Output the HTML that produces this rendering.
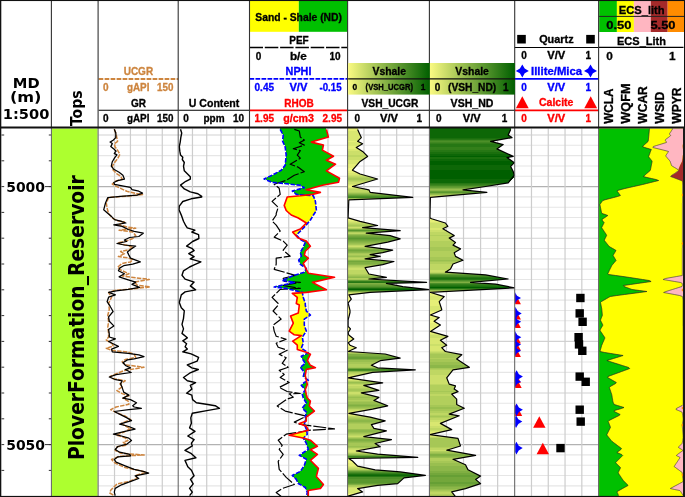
<!DOCTYPE html>
<html><head><meta charset="utf-8"><title>Well log</title><style>html,body{margin:0;padding:0;background:#fff}svg text{white-space:pre}</style></head><body>
<svg width="685" height="497" viewBox="0 0 685 497" style="display:block">
<rect x="0.00" y="0.00" width="685.00" height="497.00" fill="#fff"/>
<line x1="98.60" y1="135.00" x2="178.20" y2="135.00" stroke="#d2d2d2" stroke-width="1.1"/>
<line x1="98.60" y1="145.32" x2="178.20" y2="145.32" stroke="#e6e6e6" stroke-width="1.1"/>
<line x1="98.60" y1="155.64" x2="178.20" y2="155.64" stroke="#e6e6e6" stroke-width="1.1"/>
<line x1="98.60" y1="165.96" x2="178.20" y2="165.96" stroke="#e6e6e6" stroke-width="1.1"/>
<line x1="98.60" y1="176.28" x2="178.20" y2="176.28" stroke="#e6e6e6" stroke-width="1.1"/>
<line x1="98.60" y1="186.60" x2="178.20" y2="186.60" stroke="#b2b2b2" stroke-width="1.1"/>
<line x1="98.60" y1="196.92" x2="178.20" y2="196.92" stroke="#e6e6e6" stroke-width="1.1"/>
<line x1="98.60" y1="207.24" x2="178.20" y2="207.24" stroke="#e6e6e6" stroke-width="1.1"/>
<line x1="98.60" y1="217.56" x2="178.20" y2="217.56" stroke="#e6e6e6" stroke-width="1.1"/>
<line x1="98.60" y1="227.88" x2="178.20" y2="227.88" stroke="#e6e6e6" stroke-width="1.1"/>
<line x1="98.60" y1="238.20" x2="178.20" y2="238.20" stroke="#d2d2d2" stroke-width="1.1"/>
<line x1="98.60" y1="248.52" x2="178.20" y2="248.52" stroke="#e6e6e6" stroke-width="1.1"/>
<line x1="98.60" y1="258.84" x2="178.20" y2="258.84" stroke="#e6e6e6" stroke-width="1.1"/>
<line x1="98.60" y1="269.16" x2="178.20" y2="269.16" stroke="#e6e6e6" stroke-width="1.1"/>
<line x1="98.60" y1="279.48" x2="178.20" y2="279.48" stroke="#e6e6e6" stroke-width="1.1"/>
<line x1="98.60" y1="289.80" x2="178.20" y2="289.80" stroke="#d2d2d2" stroke-width="1.1"/>
<line x1="98.60" y1="300.12" x2="178.20" y2="300.12" stroke="#e6e6e6" stroke-width="1.1"/>
<line x1="98.60" y1="310.44" x2="178.20" y2="310.44" stroke="#e6e6e6" stroke-width="1.1"/>
<line x1="98.60" y1="320.76" x2="178.20" y2="320.76" stroke="#e6e6e6" stroke-width="1.1"/>
<line x1="98.60" y1="331.08" x2="178.20" y2="331.08" stroke="#e6e6e6" stroke-width="1.1"/>
<line x1="98.60" y1="341.40" x2="178.20" y2="341.40" stroke="#d2d2d2" stroke-width="1.1"/>
<line x1="98.60" y1="351.72" x2="178.20" y2="351.72" stroke="#e6e6e6" stroke-width="1.1"/>
<line x1="98.60" y1="362.04" x2="178.20" y2="362.04" stroke="#e6e6e6" stroke-width="1.1"/>
<line x1="98.60" y1="372.36" x2="178.20" y2="372.36" stroke="#e6e6e6" stroke-width="1.1"/>
<line x1="98.60" y1="382.68" x2="178.20" y2="382.68" stroke="#e6e6e6" stroke-width="1.1"/>
<line x1="98.60" y1="393.00" x2="178.20" y2="393.00" stroke="#d2d2d2" stroke-width="1.1"/>
<line x1="98.60" y1="403.32" x2="178.20" y2="403.32" stroke="#e6e6e6" stroke-width="1.1"/>
<line x1="98.60" y1="413.64" x2="178.20" y2="413.64" stroke="#e6e6e6" stroke-width="1.1"/>
<line x1="98.60" y1="423.96" x2="178.20" y2="423.96" stroke="#e6e6e6" stroke-width="1.1"/>
<line x1="98.60" y1="434.28" x2="178.20" y2="434.28" stroke="#e6e6e6" stroke-width="1.1"/>
<line x1="98.60" y1="444.60" x2="178.20" y2="444.60" stroke="#b2b2b2" stroke-width="1.1"/>
<line x1="98.60" y1="454.92" x2="178.20" y2="454.92" stroke="#e6e6e6" stroke-width="1.1"/>
<line x1="98.60" y1="465.24" x2="178.20" y2="465.24" stroke="#e6e6e6" stroke-width="1.1"/>
<line x1="98.60" y1="475.56" x2="178.20" y2="475.56" stroke="#e6e6e6" stroke-width="1.1"/>
<line x1="98.60" y1="485.88" x2="178.20" y2="485.88" stroke="#e6e6e6" stroke-width="1.1"/>
<line x1="114.52" y1="128.50" x2="114.52" y2="496.00" stroke="#cdcdcd" stroke-width="1.2"/>
<line x1="130.44" y1="128.50" x2="130.44" y2="496.00" stroke="#cdcdcd" stroke-width="1.2"/>
<line x1="146.36" y1="128.50" x2="146.36" y2="496.00" stroke="#cdcdcd" stroke-width="1.2"/>
<line x1="162.28" y1="128.50" x2="162.28" y2="496.00" stroke="#cdcdcd" stroke-width="1.2"/>
<line x1="178.20" y1="135.00" x2="249.50" y2="135.00" stroke="#d2d2d2" stroke-width="1.1"/>
<line x1="178.20" y1="145.32" x2="249.50" y2="145.32" stroke="#e6e6e6" stroke-width="1.1"/>
<line x1="178.20" y1="155.64" x2="249.50" y2="155.64" stroke="#e6e6e6" stroke-width="1.1"/>
<line x1="178.20" y1="165.96" x2="249.50" y2="165.96" stroke="#e6e6e6" stroke-width="1.1"/>
<line x1="178.20" y1="176.28" x2="249.50" y2="176.28" stroke="#e6e6e6" stroke-width="1.1"/>
<line x1="178.20" y1="186.60" x2="249.50" y2="186.60" stroke="#b2b2b2" stroke-width="1.1"/>
<line x1="178.20" y1="196.92" x2="249.50" y2="196.92" stroke="#e6e6e6" stroke-width="1.1"/>
<line x1="178.20" y1="207.24" x2="249.50" y2="207.24" stroke="#e6e6e6" stroke-width="1.1"/>
<line x1="178.20" y1="217.56" x2="249.50" y2="217.56" stroke="#e6e6e6" stroke-width="1.1"/>
<line x1="178.20" y1="227.88" x2="249.50" y2="227.88" stroke="#e6e6e6" stroke-width="1.1"/>
<line x1="178.20" y1="238.20" x2="249.50" y2="238.20" stroke="#d2d2d2" stroke-width="1.1"/>
<line x1="178.20" y1="248.52" x2="249.50" y2="248.52" stroke="#e6e6e6" stroke-width="1.1"/>
<line x1="178.20" y1="258.84" x2="249.50" y2="258.84" stroke="#e6e6e6" stroke-width="1.1"/>
<line x1="178.20" y1="269.16" x2="249.50" y2="269.16" stroke="#e6e6e6" stroke-width="1.1"/>
<line x1="178.20" y1="279.48" x2="249.50" y2="279.48" stroke="#e6e6e6" stroke-width="1.1"/>
<line x1="178.20" y1="289.80" x2="249.50" y2="289.80" stroke="#d2d2d2" stroke-width="1.1"/>
<line x1="178.20" y1="300.12" x2="249.50" y2="300.12" stroke="#e6e6e6" stroke-width="1.1"/>
<line x1="178.20" y1="310.44" x2="249.50" y2="310.44" stroke="#e6e6e6" stroke-width="1.1"/>
<line x1="178.20" y1="320.76" x2="249.50" y2="320.76" stroke="#e6e6e6" stroke-width="1.1"/>
<line x1="178.20" y1="331.08" x2="249.50" y2="331.08" stroke="#e6e6e6" stroke-width="1.1"/>
<line x1="178.20" y1="341.40" x2="249.50" y2="341.40" stroke="#d2d2d2" stroke-width="1.1"/>
<line x1="178.20" y1="351.72" x2="249.50" y2="351.72" stroke="#e6e6e6" stroke-width="1.1"/>
<line x1="178.20" y1="362.04" x2="249.50" y2="362.04" stroke="#e6e6e6" stroke-width="1.1"/>
<line x1="178.20" y1="372.36" x2="249.50" y2="372.36" stroke="#e6e6e6" stroke-width="1.1"/>
<line x1="178.20" y1="382.68" x2="249.50" y2="382.68" stroke="#e6e6e6" stroke-width="1.1"/>
<line x1="178.20" y1="393.00" x2="249.50" y2="393.00" stroke="#d2d2d2" stroke-width="1.1"/>
<line x1="178.20" y1="403.32" x2="249.50" y2="403.32" stroke="#e6e6e6" stroke-width="1.1"/>
<line x1="178.20" y1="413.64" x2="249.50" y2="413.64" stroke="#e6e6e6" stroke-width="1.1"/>
<line x1="178.20" y1="423.96" x2="249.50" y2="423.96" stroke="#e6e6e6" stroke-width="1.1"/>
<line x1="178.20" y1="434.28" x2="249.50" y2="434.28" stroke="#e6e6e6" stroke-width="1.1"/>
<line x1="178.20" y1="444.60" x2="249.50" y2="444.60" stroke="#b2b2b2" stroke-width="1.1"/>
<line x1="178.20" y1="454.92" x2="249.50" y2="454.92" stroke="#e6e6e6" stroke-width="1.1"/>
<line x1="178.20" y1="465.24" x2="249.50" y2="465.24" stroke="#e6e6e6" stroke-width="1.1"/>
<line x1="178.20" y1="475.56" x2="249.50" y2="475.56" stroke="#e6e6e6" stroke-width="1.1"/>
<line x1="178.20" y1="485.88" x2="249.50" y2="485.88" stroke="#e6e6e6" stroke-width="1.1"/>
<line x1="192.46" y1="128.50" x2="192.46" y2="496.00" stroke="#cdcdcd" stroke-width="1.2"/>
<line x1="206.72" y1="128.50" x2="206.72" y2="496.00" stroke="#cdcdcd" stroke-width="1.2"/>
<line x1="220.98" y1="128.50" x2="220.98" y2="496.00" stroke="#cdcdcd" stroke-width="1.2"/>
<line x1="235.24" y1="128.50" x2="235.24" y2="496.00" stroke="#cdcdcd" stroke-width="1.2"/>
<line x1="249.50" y1="135.00" x2="347.60" y2="135.00" stroke="#d2d2d2" stroke-width="1.1"/>
<line x1="249.50" y1="145.32" x2="347.60" y2="145.32" stroke="#e6e6e6" stroke-width="1.1"/>
<line x1="249.50" y1="155.64" x2="347.60" y2="155.64" stroke="#e6e6e6" stroke-width="1.1"/>
<line x1="249.50" y1="165.96" x2="347.60" y2="165.96" stroke="#e6e6e6" stroke-width="1.1"/>
<line x1="249.50" y1="176.28" x2="347.60" y2="176.28" stroke="#e6e6e6" stroke-width="1.1"/>
<line x1="249.50" y1="186.60" x2="347.60" y2="186.60" stroke="#b2b2b2" stroke-width="1.1"/>
<line x1="249.50" y1="196.92" x2="347.60" y2="196.92" stroke="#e6e6e6" stroke-width="1.1"/>
<line x1="249.50" y1="207.24" x2="347.60" y2="207.24" stroke="#e6e6e6" stroke-width="1.1"/>
<line x1="249.50" y1="217.56" x2="347.60" y2="217.56" stroke="#e6e6e6" stroke-width="1.1"/>
<line x1="249.50" y1="227.88" x2="347.60" y2="227.88" stroke="#e6e6e6" stroke-width="1.1"/>
<line x1="249.50" y1="238.20" x2="347.60" y2="238.20" stroke="#d2d2d2" stroke-width="1.1"/>
<line x1="249.50" y1="248.52" x2="347.60" y2="248.52" stroke="#e6e6e6" stroke-width="1.1"/>
<line x1="249.50" y1="258.84" x2="347.60" y2="258.84" stroke="#e6e6e6" stroke-width="1.1"/>
<line x1="249.50" y1="269.16" x2="347.60" y2="269.16" stroke="#e6e6e6" stroke-width="1.1"/>
<line x1="249.50" y1="279.48" x2="347.60" y2="279.48" stroke="#e6e6e6" stroke-width="1.1"/>
<line x1="249.50" y1="289.80" x2="347.60" y2="289.80" stroke="#d2d2d2" stroke-width="1.1"/>
<line x1="249.50" y1="300.12" x2="347.60" y2="300.12" stroke="#e6e6e6" stroke-width="1.1"/>
<line x1="249.50" y1="310.44" x2="347.60" y2="310.44" stroke="#e6e6e6" stroke-width="1.1"/>
<line x1="249.50" y1="320.76" x2="347.60" y2="320.76" stroke="#e6e6e6" stroke-width="1.1"/>
<line x1="249.50" y1="331.08" x2="347.60" y2="331.08" stroke="#e6e6e6" stroke-width="1.1"/>
<line x1="249.50" y1="341.40" x2="347.60" y2="341.40" stroke="#d2d2d2" stroke-width="1.1"/>
<line x1="249.50" y1="351.72" x2="347.60" y2="351.72" stroke="#e6e6e6" stroke-width="1.1"/>
<line x1="249.50" y1="362.04" x2="347.60" y2="362.04" stroke="#e6e6e6" stroke-width="1.1"/>
<line x1="249.50" y1="372.36" x2="347.60" y2="372.36" stroke="#e6e6e6" stroke-width="1.1"/>
<line x1="249.50" y1="382.68" x2="347.60" y2="382.68" stroke="#e6e6e6" stroke-width="1.1"/>
<line x1="249.50" y1="393.00" x2="347.60" y2="393.00" stroke="#d2d2d2" stroke-width="1.1"/>
<line x1="249.50" y1="403.32" x2="347.60" y2="403.32" stroke="#e6e6e6" stroke-width="1.1"/>
<line x1="249.50" y1="413.64" x2="347.60" y2="413.64" stroke="#e6e6e6" stroke-width="1.1"/>
<line x1="249.50" y1="423.96" x2="347.60" y2="423.96" stroke="#e6e6e6" stroke-width="1.1"/>
<line x1="249.50" y1="434.28" x2="347.60" y2="434.28" stroke="#e6e6e6" stroke-width="1.1"/>
<line x1="249.50" y1="444.60" x2="347.60" y2="444.60" stroke="#b2b2b2" stroke-width="1.1"/>
<line x1="249.50" y1="454.92" x2="347.60" y2="454.92" stroke="#e6e6e6" stroke-width="1.1"/>
<line x1="249.50" y1="465.24" x2="347.60" y2="465.24" stroke="#e6e6e6" stroke-width="1.1"/>
<line x1="249.50" y1="475.56" x2="347.60" y2="475.56" stroke="#e6e6e6" stroke-width="1.1"/>
<line x1="249.50" y1="485.88" x2="347.60" y2="485.88" stroke="#e6e6e6" stroke-width="1.1"/>
<line x1="269.12" y1="128.50" x2="269.12" y2="496.00" stroke="#cdcdcd" stroke-width="1.2"/>
<line x1="288.74" y1="128.50" x2="288.74" y2="496.00" stroke="#cdcdcd" stroke-width="1.2"/>
<line x1="308.36" y1="128.50" x2="308.36" y2="496.00" stroke="#cdcdcd" stroke-width="1.2"/>
<line x1="327.98" y1="128.50" x2="327.98" y2="496.00" stroke="#cdcdcd" stroke-width="1.2"/>
<line x1="347.60" y1="135.00" x2="429.40" y2="135.00" stroke="#d2d2d2" stroke-width="1.1"/>
<line x1="347.60" y1="145.32" x2="429.40" y2="145.32" stroke="#e6e6e6" stroke-width="1.1"/>
<line x1="347.60" y1="155.64" x2="429.40" y2="155.64" stroke="#e6e6e6" stroke-width="1.1"/>
<line x1="347.60" y1="165.96" x2="429.40" y2="165.96" stroke="#e6e6e6" stroke-width="1.1"/>
<line x1="347.60" y1="176.28" x2="429.40" y2="176.28" stroke="#e6e6e6" stroke-width="1.1"/>
<line x1="347.60" y1="186.60" x2="429.40" y2="186.60" stroke="#b2b2b2" stroke-width="1.1"/>
<line x1="347.60" y1="196.92" x2="429.40" y2="196.92" stroke="#e6e6e6" stroke-width="1.1"/>
<line x1="347.60" y1="207.24" x2="429.40" y2="207.24" stroke="#e6e6e6" stroke-width="1.1"/>
<line x1="347.60" y1="217.56" x2="429.40" y2="217.56" stroke="#e6e6e6" stroke-width="1.1"/>
<line x1="347.60" y1="227.88" x2="429.40" y2="227.88" stroke="#e6e6e6" stroke-width="1.1"/>
<line x1="347.60" y1="238.20" x2="429.40" y2="238.20" stroke="#d2d2d2" stroke-width="1.1"/>
<line x1="347.60" y1="248.52" x2="429.40" y2="248.52" stroke="#e6e6e6" stroke-width="1.1"/>
<line x1="347.60" y1="258.84" x2="429.40" y2="258.84" stroke="#e6e6e6" stroke-width="1.1"/>
<line x1="347.60" y1="269.16" x2="429.40" y2="269.16" stroke="#e6e6e6" stroke-width="1.1"/>
<line x1="347.60" y1="279.48" x2="429.40" y2="279.48" stroke="#e6e6e6" stroke-width="1.1"/>
<line x1="347.60" y1="289.80" x2="429.40" y2="289.80" stroke="#d2d2d2" stroke-width="1.1"/>
<line x1="347.60" y1="300.12" x2="429.40" y2="300.12" stroke="#e6e6e6" stroke-width="1.1"/>
<line x1="347.60" y1="310.44" x2="429.40" y2="310.44" stroke="#e6e6e6" stroke-width="1.1"/>
<line x1="347.60" y1="320.76" x2="429.40" y2="320.76" stroke="#e6e6e6" stroke-width="1.1"/>
<line x1="347.60" y1="331.08" x2="429.40" y2="331.08" stroke="#e6e6e6" stroke-width="1.1"/>
<line x1="347.60" y1="341.40" x2="429.40" y2="341.40" stroke="#d2d2d2" stroke-width="1.1"/>
<line x1="347.60" y1="351.72" x2="429.40" y2="351.72" stroke="#e6e6e6" stroke-width="1.1"/>
<line x1="347.60" y1="362.04" x2="429.40" y2="362.04" stroke="#e6e6e6" stroke-width="1.1"/>
<line x1="347.60" y1="372.36" x2="429.40" y2="372.36" stroke="#e6e6e6" stroke-width="1.1"/>
<line x1="347.60" y1="382.68" x2="429.40" y2="382.68" stroke="#e6e6e6" stroke-width="1.1"/>
<line x1="347.60" y1="393.00" x2="429.40" y2="393.00" stroke="#d2d2d2" stroke-width="1.1"/>
<line x1="347.60" y1="403.32" x2="429.40" y2="403.32" stroke="#e6e6e6" stroke-width="1.1"/>
<line x1="347.60" y1="413.64" x2="429.40" y2="413.64" stroke="#e6e6e6" stroke-width="1.1"/>
<line x1="347.60" y1="423.96" x2="429.40" y2="423.96" stroke="#e6e6e6" stroke-width="1.1"/>
<line x1="347.60" y1="434.28" x2="429.40" y2="434.28" stroke="#e6e6e6" stroke-width="1.1"/>
<line x1="347.60" y1="444.60" x2="429.40" y2="444.60" stroke="#b2b2b2" stroke-width="1.1"/>
<line x1="347.60" y1="454.92" x2="429.40" y2="454.92" stroke="#e6e6e6" stroke-width="1.1"/>
<line x1="347.60" y1="465.24" x2="429.40" y2="465.24" stroke="#e6e6e6" stroke-width="1.1"/>
<line x1="347.60" y1="475.56" x2="429.40" y2="475.56" stroke="#e6e6e6" stroke-width="1.1"/>
<line x1="347.60" y1="485.88" x2="429.40" y2="485.88" stroke="#e6e6e6" stroke-width="1.1"/>
<line x1="363.96" y1="128.50" x2="363.96" y2="496.00" stroke="#cdcdcd" stroke-width="1.2"/>
<line x1="380.32" y1="128.50" x2="380.32" y2="496.00" stroke="#cdcdcd" stroke-width="1.2"/>
<line x1="396.68" y1="128.50" x2="396.68" y2="496.00" stroke="#cdcdcd" stroke-width="1.2"/>
<line x1="413.04" y1="128.50" x2="413.04" y2="496.00" stroke="#cdcdcd" stroke-width="1.2"/>
<line x1="429.40" y1="135.00" x2="514.70" y2="135.00" stroke="#d2d2d2" stroke-width="1.1"/>
<line x1="429.40" y1="145.32" x2="514.70" y2="145.32" stroke="#e6e6e6" stroke-width="1.1"/>
<line x1="429.40" y1="155.64" x2="514.70" y2="155.64" stroke="#e6e6e6" stroke-width="1.1"/>
<line x1="429.40" y1="165.96" x2="514.70" y2="165.96" stroke="#e6e6e6" stroke-width="1.1"/>
<line x1="429.40" y1="176.28" x2="514.70" y2="176.28" stroke="#e6e6e6" stroke-width="1.1"/>
<line x1="429.40" y1="186.60" x2="514.70" y2="186.60" stroke="#b2b2b2" stroke-width="1.1"/>
<line x1="429.40" y1="196.92" x2="514.70" y2="196.92" stroke="#e6e6e6" stroke-width="1.1"/>
<line x1="429.40" y1="207.24" x2="514.70" y2="207.24" stroke="#e6e6e6" stroke-width="1.1"/>
<line x1="429.40" y1="217.56" x2="514.70" y2="217.56" stroke="#e6e6e6" stroke-width="1.1"/>
<line x1="429.40" y1="227.88" x2="514.70" y2="227.88" stroke="#e6e6e6" stroke-width="1.1"/>
<line x1="429.40" y1="238.20" x2="514.70" y2="238.20" stroke="#d2d2d2" stroke-width="1.1"/>
<line x1="429.40" y1="248.52" x2="514.70" y2="248.52" stroke="#e6e6e6" stroke-width="1.1"/>
<line x1="429.40" y1="258.84" x2="514.70" y2="258.84" stroke="#e6e6e6" stroke-width="1.1"/>
<line x1="429.40" y1="269.16" x2="514.70" y2="269.16" stroke="#e6e6e6" stroke-width="1.1"/>
<line x1="429.40" y1="279.48" x2="514.70" y2="279.48" stroke="#e6e6e6" stroke-width="1.1"/>
<line x1="429.40" y1="289.80" x2="514.70" y2="289.80" stroke="#d2d2d2" stroke-width="1.1"/>
<line x1="429.40" y1="300.12" x2="514.70" y2="300.12" stroke="#e6e6e6" stroke-width="1.1"/>
<line x1="429.40" y1="310.44" x2="514.70" y2="310.44" stroke="#e6e6e6" stroke-width="1.1"/>
<line x1="429.40" y1="320.76" x2="514.70" y2="320.76" stroke="#e6e6e6" stroke-width="1.1"/>
<line x1="429.40" y1="331.08" x2="514.70" y2="331.08" stroke="#e6e6e6" stroke-width="1.1"/>
<line x1="429.40" y1="341.40" x2="514.70" y2="341.40" stroke="#d2d2d2" stroke-width="1.1"/>
<line x1="429.40" y1="351.72" x2="514.70" y2="351.72" stroke="#e6e6e6" stroke-width="1.1"/>
<line x1="429.40" y1="362.04" x2="514.70" y2="362.04" stroke="#e6e6e6" stroke-width="1.1"/>
<line x1="429.40" y1="372.36" x2="514.70" y2="372.36" stroke="#e6e6e6" stroke-width="1.1"/>
<line x1="429.40" y1="382.68" x2="514.70" y2="382.68" stroke="#e6e6e6" stroke-width="1.1"/>
<line x1="429.40" y1="393.00" x2="514.70" y2="393.00" stroke="#d2d2d2" stroke-width="1.1"/>
<line x1="429.40" y1="403.32" x2="514.70" y2="403.32" stroke="#e6e6e6" stroke-width="1.1"/>
<line x1="429.40" y1="413.64" x2="514.70" y2="413.64" stroke="#e6e6e6" stroke-width="1.1"/>
<line x1="429.40" y1="423.96" x2="514.70" y2="423.96" stroke="#e6e6e6" stroke-width="1.1"/>
<line x1="429.40" y1="434.28" x2="514.70" y2="434.28" stroke="#e6e6e6" stroke-width="1.1"/>
<line x1="429.40" y1="444.60" x2="514.70" y2="444.60" stroke="#b2b2b2" stroke-width="1.1"/>
<line x1="429.40" y1="454.92" x2="514.70" y2="454.92" stroke="#e6e6e6" stroke-width="1.1"/>
<line x1="429.40" y1="465.24" x2="514.70" y2="465.24" stroke="#e6e6e6" stroke-width="1.1"/>
<line x1="429.40" y1="475.56" x2="514.70" y2="475.56" stroke="#e6e6e6" stroke-width="1.1"/>
<line x1="429.40" y1="485.88" x2="514.70" y2="485.88" stroke="#e6e6e6" stroke-width="1.1"/>
<line x1="446.46" y1="128.50" x2="446.46" y2="496.00" stroke="#cdcdcd" stroke-width="1.2"/>
<line x1="463.52" y1="128.50" x2="463.52" y2="496.00" stroke="#cdcdcd" stroke-width="1.2"/>
<line x1="480.58" y1="128.50" x2="480.58" y2="496.00" stroke="#cdcdcd" stroke-width="1.2"/>
<line x1="497.64" y1="128.50" x2="497.64" y2="496.00" stroke="#cdcdcd" stroke-width="1.2"/>
<line x1="514.70" y1="135.00" x2="598.60" y2="135.00" stroke="#d2d2d2" stroke-width="1.1"/>
<line x1="514.70" y1="145.32" x2="598.60" y2="145.32" stroke="#e6e6e6" stroke-width="1.1"/>
<line x1="514.70" y1="155.64" x2="598.60" y2="155.64" stroke="#e6e6e6" stroke-width="1.1"/>
<line x1="514.70" y1="165.96" x2="598.60" y2="165.96" stroke="#e6e6e6" stroke-width="1.1"/>
<line x1="514.70" y1="176.28" x2="598.60" y2="176.28" stroke="#e6e6e6" stroke-width="1.1"/>
<line x1="514.70" y1="186.60" x2="598.60" y2="186.60" stroke="#b2b2b2" stroke-width="1.1"/>
<line x1="514.70" y1="196.92" x2="598.60" y2="196.92" stroke="#e6e6e6" stroke-width="1.1"/>
<line x1="514.70" y1="207.24" x2="598.60" y2="207.24" stroke="#e6e6e6" stroke-width="1.1"/>
<line x1="514.70" y1="217.56" x2="598.60" y2="217.56" stroke="#e6e6e6" stroke-width="1.1"/>
<line x1="514.70" y1="227.88" x2="598.60" y2="227.88" stroke="#e6e6e6" stroke-width="1.1"/>
<line x1="514.70" y1="238.20" x2="598.60" y2="238.20" stroke="#d2d2d2" stroke-width="1.1"/>
<line x1="514.70" y1="248.52" x2="598.60" y2="248.52" stroke="#e6e6e6" stroke-width="1.1"/>
<line x1="514.70" y1="258.84" x2="598.60" y2="258.84" stroke="#e6e6e6" stroke-width="1.1"/>
<line x1="514.70" y1="269.16" x2="598.60" y2="269.16" stroke="#e6e6e6" stroke-width="1.1"/>
<line x1="514.70" y1="279.48" x2="598.60" y2="279.48" stroke="#e6e6e6" stroke-width="1.1"/>
<line x1="514.70" y1="289.80" x2="598.60" y2="289.80" stroke="#d2d2d2" stroke-width="1.1"/>
<line x1="514.70" y1="300.12" x2="598.60" y2="300.12" stroke="#e6e6e6" stroke-width="1.1"/>
<line x1="514.70" y1="310.44" x2="598.60" y2="310.44" stroke="#e6e6e6" stroke-width="1.1"/>
<line x1="514.70" y1="320.76" x2="598.60" y2="320.76" stroke="#e6e6e6" stroke-width="1.1"/>
<line x1="514.70" y1="331.08" x2="598.60" y2="331.08" stroke="#e6e6e6" stroke-width="1.1"/>
<line x1="514.70" y1="341.40" x2="598.60" y2="341.40" stroke="#d2d2d2" stroke-width="1.1"/>
<line x1="514.70" y1="351.72" x2="598.60" y2="351.72" stroke="#e6e6e6" stroke-width="1.1"/>
<line x1="514.70" y1="362.04" x2="598.60" y2="362.04" stroke="#e6e6e6" stroke-width="1.1"/>
<line x1="514.70" y1="372.36" x2="598.60" y2="372.36" stroke="#e6e6e6" stroke-width="1.1"/>
<line x1="514.70" y1="382.68" x2="598.60" y2="382.68" stroke="#e6e6e6" stroke-width="1.1"/>
<line x1="514.70" y1="393.00" x2="598.60" y2="393.00" stroke="#d2d2d2" stroke-width="1.1"/>
<line x1="514.70" y1="403.32" x2="598.60" y2="403.32" stroke="#e6e6e6" stroke-width="1.1"/>
<line x1="514.70" y1="413.64" x2="598.60" y2="413.64" stroke="#e6e6e6" stroke-width="1.1"/>
<line x1="514.70" y1="423.96" x2="598.60" y2="423.96" stroke="#e6e6e6" stroke-width="1.1"/>
<line x1="514.70" y1="434.28" x2="598.60" y2="434.28" stroke="#e6e6e6" stroke-width="1.1"/>
<line x1="514.70" y1="444.60" x2="598.60" y2="444.60" stroke="#b2b2b2" stroke-width="1.1"/>
<line x1="514.70" y1="454.92" x2="598.60" y2="454.92" stroke="#e6e6e6" stroke-width="1.1"/>
<line x1="514.70" y1="465.24" x2="598.60" y2="465.24" stroke="#e6e6e6" stroke-width="1.1"/>
<line x1="514.70" y1="475.56" x2="598.60" y2="475.56" stroke="#e6e6e6" stroke-width="1.1"/>
<line x1="514.70" y1="485.88" x2="598.60" y2="485.88" stroke="#e6e6e6" stroke-width="1.1"/>
<line x1="531.48" y1="128.50" x2="531.48" y2="496.00" stroke="#cdcdcd" stroke-width="1.2"/>
<line x1="548.26" y1="128.50" x2="548.26" y2="496.00" stroke="#cdcdcd" stroke-width="1.2"/>
<line x1="565.04" y1="128.50" x2="565.04" y2="496.00" stroke="#cdcdcd" stroke-width="1.2"/>
<line x1="581.82" y1="128.50" x2="581.82" y2="496.00" stroke="#cdcdcd" stroke-width="1.2"/>
<rect x="52.00" y="128.50" width="45.60" height="367.50" fill="#adff2f"/>
<text x="0" y="0" transform="translate(84.0 460.0) rotate(-90)" font-family='"DejaVu Sans Condensed", "DejaVu Sans", sans-serif' font-weight="bold" font-size="21" fill="#000" text-anchor="start" textLength="284.8" lengthAdjust="spacingAndGlyphs">PloverFormation_Reservoir</text>
<line x1="1.50" y1="135.00" x2="4.20" y2="135.00" stroke="#333" stroke-width="1"/>
<line x1="48.80" y1="135.00" x2="51.40" y2="135.00" stroke="#333" stroke-width="1"/>
<line x1="1.50" y1="160.80" x2="4.20" y2="160.80" stroke="#333" stroke-width="1"/>
<line x1="48.80" y1="160.80" x2="51.40" y2="160.80" stroke="#333" stroke-width="1"/>
<line x1="1.50" y1="186.60" x2="4.20" y2="186.60" stroke="#333" stroke-width="1"/>
<line x1="48.80" y1="186.60" x2="51.40" y2="186.60" stroke="#333" stroke-width="1"/>
<line x1="1.50" y1="212.40" x2="4.20" y2="212.40" stroke="#333" stroke-width="1"/>
<line x1="48.80" y1="212.40" x2="51.40" y2="212.40" stroke="#333" stroke-width="1"/>
<line x1="1.50" y1="238.20" x2="4.20" y2="238.20" stroke="#333" stroke-width="1"/>
<line x1="48.80" y1="238.20" x2="51.40" y2="238.20" stroke="#333" stroke-width="1"/>
<line x1="1.50" y1="264.00" x2="4.20" y2="264.00" stroke="#333" stroke-width="1"/>
<line x1="48.80" y1="264.00" x2="51.40" y2="264.00" stroke="#333" stroke-width="1"/>
<line x1="1.50" y1="289.80" x2="4.20" y2="289.80" stroke="#333" stroke-width="1"/>
<line x1="48.80" y1="289.80" x2="51.40" y2="289.80" stroke="#333" stroke-width="1"/>
<line x1="1.50" y1="315.60" x2="4.20" y2="315.60" stroke="#333" stroke-width="1"/>
<line x1="48.80" y1="315.60" x2="51.40" y2="315.60" stroke="#333" stroke-width="1"/>
<line x1="1.50" y1="341.40" x2="4.20" y2="341.40" stroke="#333" stroke-width="1"/>
<line x1="48.80" y1="341.40" x2="51.40" y2="341.40" stroke="#333" stroke-width="1"/>
<line x1="1.50" y1="367.20" x2="4.20" y2="367.20" stroke="#333" stroke-width="1"/>
<line x1="48.80" y1="367.20" x2="51.40" y2="367.20" stroke="#333" stroke-width="1"/>
<line x1="1.50" y1="393.00" x2="4.20" y2="393.00" stroke="#333" stroke-width="1"/>
<line x1="48.80" y1="393.00" x2="51.40" y2="393.00" stroke="#333" stroke-width="1"/>
<line x1="1.50" y1="418.80" x2="4.20" y2="418.80" stroke="#333" stroke-width="1"/>
<line x1="48.80" y1="418.80" x2="51.40" y2="418.80" stroke="#333" stroke-width="1"/>
<line x1="1.50" y1="444.60" x2="4.20" y2="444.60" stroke="#333" stroke-width="1"/>
<line x1="48.80" y1="444.60" x2="51.40" y2="444.60" stroke="#333" stroke-width="1"/>
<line x1="1.50" y1="470.40" x2="4.20" y2="470.40" stroke="#333" stroke-width="1"/>
<line x1="48.80" y1="470.40" x2="51.40" y2="470.40" stroke="#333" stroke-width="1"/>
<text x="25.6" y="192.3" font-family='"DejaVu Sans", sans-serif' font-weight="bold" font-size="14.4" fill="#000" text-anchor="middle" textLength="38.8" lengthAdjust="spacingAndGlyphs">5000</text>
<text x="25.6" y="450.3" font-family='"DejaVu Sans", sans-serif' font-weight="bold" font-size="14.4" fill="#000" text-anchor="middle" textLength="38.8" lengthAdjust="spacingAndGlyphs">5050</text>
<line x1="44.90" y1="186.60" x2="51.00" y2="186.60" stroke="#333" stroke-width="1"/>
<line x1="44.90" y1="444.60" x2="51.00" y2="444.60" stroke="#333" stroke-width="1"/>
<g shape-rendering="crispEdges">
<rect x="348.10" y="128.00" width="9.45" height="1.00" fill="#e6ef77"/>
<rect x="348.10" y="129.00" width="9.45" height="1.00" fill="#e6ef77"/>
<rect x="348.10" y="130.00" width="9.91" height="1.00" fill="#e6ef77"/>
<rect x="348.10" y="131.00" width="10.38" height="1.00" fill="#d9e770"/>
<rect x="348.10" y="132.00" width="10.85" height="1.00" fill="#d9e770"/>
<rect x="348.10" y="133.00" width="11.32" height="1.00" fill="#d9e770"/>
<rect x="348.10" y="134.00" width="11.79" height="1.00" fill="#d9e770"/>
<rect x="348.10" y="135.00" width="12.26" height="1.00" fill="#d9e770"/>
<rect x="348.10" y="136.00" width="12.73" height="1.00" fill="#d9e770"/>
<rect x="348.10" y="137.00" width="13.20" height="1.00" fill="#d9e770"/>
<rect x="348.10" y="138.00" width="12.28" height="1.00" fill="#d9e770"/>
<rect x="348.10" y="139.00" width="11.28" height="1.00" fill="#d9e770"/>
<rect x="348.10" y="140.00" width="10.28" height="1.00" fill="#d9e770"/>
<rect x="348.10" y="141.00" width="9.81" height="1.00" fill="#e6ef77"/>
<rect x="348.10" y="142.00" width="11.81" height="1.00" fill="#d9e770"/>
<rect x="348.10" y="143.00" width="13.81" height="1.00" fill="#d9e770"/>
<rect x="348.10" y="144.00" width="13.36" height="1.00" fill="#d9e770"/>
<rect x="348.10" y="145.00" width="11.70" height="1.00" fill="#d9e770"/>
<rect x="348.10" y="146.00" width="10.03" height="1.00" fill="#e6ef77"/>
<rect x="348.10" y="147.00" width="8.36" height="1.00" fill="#e6ef77"/>
<rect x="348.10" y="148.00" width="9.70" height="1.00" fill="#e6ef77"/>
<rect x="348.10" y="149.00" width="11.37" height="1.00" fill="#d9e770"/>
<rect x="348.10" y="150.00" width="13.04" height="1.00" fill="#d9e770"/>
<rect x="348.10" y="151.00" width="14.61" height="1.00" fill="#ccdf6a"/>
<rect x="348.10" y="152.00" width="15.61" height="1.00" fill="#ccdf6a"/>
<rect x="348.10" y="153.00" width="16.61" height="1.00" fill="#ccdf6a"/>
<rect x="348.10" y="154.00" width="17.61" height="1.00" fill="#ccdf6a"/>
<rect x="348.10" y="155.00" width="18.61" height="1.00" fill="#bfd763"/>
<rect x="348.10" y="156.00" width="19.33" height="1.00" fill="#bfd763"/>
<rect x="348.10" y="157.00" width="17.83" height="1.00" fill="#ccdf6a"/>
<rect x="348.10" y="158.00" width="16.33" height="1.00" fill="#ccdf6a"/>
<rect x="348.10" y="159.00" width="14.83" height="1.00" fill="#ccdf6a"/>
<rect x="348.10" y="160.00" width="13.33" height="1.00" fill="#d9e770"/>
<rect x="348.10" y="161.00" width="11.89" height="1.00" fill="#d9e770"/>
<rect x="348.10" y="162.00" width="11.03" height="1.00" fill="#d9e770"/>
<rect x="348.10" y="163.00" width="10.17" height="1.00" fill="#d9e770"/>
<rect x="348.10" y="164.00" width="9.32" height="1.00" fill="#e6ef77"/>
<rect x="348.10" y="165.00" width="8.46" height="1.00" fill="#e6ef77"/>
<rect x="348.10" y="166.00" width="7.60" height="1.00" fill="#e6ef77"/>
<rect x="348.10" y="167.00" width="6.74" height="1.00" fill="#e6ef77"/>
<rect x="348.10" y="168.00" width="5.89" height="1.00" fill="#f2f77d"/>
<rect x="348.10" y="169.00" width="5.03" height="1.00" fill="#f2f77d"/>
<rect x="348.10" y="170.00" width="5.04" height="1.00" fill="#f2f77d"/>
<rect x="348.10" y="171.00" width="7.04" height="1.00" fill="#e6ef77"/>
<rect x="348.10" y="172.00" width="9.04" height="1.00" fill="#e6ef77"/>
<rect x="348.10" y="173.00" width="11.04" height="1.00" fill="#d9e770"/>
<rect x="348.10" y="174.00" width="13.84" height="1.00" fill="#d9e770"/>
<rect x="348.10" y="175.00" width="17.34" height="1.00" fill="#ccdf6a"/>
<rect x="348.10" y="176.00" width="20.84" height="1.00" fill="#bfd763"/>
<rect x="348.10" y="177.00" width="24.34" height="1.00" fill="#b2cf5c"/>
<rect x="348.10" y="178.00" width="27.84" height="1.00" fill="#a6c756"/>
<rect x="348.10" y="179.00" width="27.83" height="1.00" fill="#a6c756"/>
<rect x="348.10" y="180.00" width="24.49" height="1.00" fill="#b2cf5c"/>
<rect x="348.10" y="181.00" width="21.16" height="1.00" fill="#bfd763"/>
<rect x="348.10" y="182.00" width="17.83" height="1.00" fill="#ccdf6a"/>
<rect x="348.10" y="183.00" width="14.49" height="1.00" fill="#ccdf6a"/>
<rect x="348.10" y="184.00" width="11.16" height="1.00" fill="#d9e770"/>
<rect x="348.10" y="185.00" width="7.83" height="1.00" fill="#e6ef77"/>
<rect x="348.10" y="186.00" width="4.49" height="1.00" fill="#f2f77d"/>
<rect x="348.10" y="187.00" width="9.34" height="1.00" fill="#e6ef77"/>
<rect x="348.10" y="188.00" width="14.34" height="1.00" fill="#ccdf6a"/>
<rect x="348.10" y="189.00" width="19.34" height="1.00" fill="#bfd763"/>
<rect x="348.10" y="190.00" width="21.11" height="1.00" fill="#bfd763"/>
<rect x="348.10" y="191.00" width="21.61" height="1.00" fill="#bfd763"/>
<rect x="348.10" y="192.00" width="23.77" height="1.00" fill="#b2cf5c"/>
<rect x="348.10" y="193.00" width="32.27" height="1.00" fill="#99bf4f"/>
<rect x="348.10" y="194.00" width="40.77" height="1.00" fill="#80af42"/>
<rect x="348.10" y="195.00" width="49.27" height="1.00" fill="#669f35"/>
<rect x="348.10" y="196.00" width="57.77" height="1.00" fill="#4c8f28"/>
<rect x="348.10" y="197.00" width="59.99" height="1.00" fill="#408721"/>
<rect x="348.10" y="198.00" width="34.49" height="1.00" fill="#99bf4f"/>
<rect x="348.10" y="199.00" width="8.99" height="1.00" fill="#e6ef77"/>
<rect x="348.10" y="200.00" width="0.64" height="1.00" fill="#ffff84"/>
<rect x="348.10" y="201.00" width="0.60" height="1.00" fill="#ffff84"/>
<rect x="348.10" y="202.00" width="0.56" height="1.00" fill="#ffff84"/>
<rect x="348.10" y="203.00" width="0.51" height="1.00" fill="#ffff84"/>
<rect x="348.10" y="204.00" width="0.47" height="1.00" fill="#ffff84"/>
<rect x="348.10" y="205.00" width="0.43" height="1.00" fill="#ffff84"/>
<rect x="348.10" y="206.00" width="0.39" height="1.00" fill="#ffff84"/>
<rect x="348.10" y="207.00" width="0.35" height="1.00" fill="#ffff84"/>
<rect x="348.10" y="208.00" width="0.31" height="1.00" fill="#ffff84"/>
<rect x="348.10" y="218.00" width="2.04" height="1.00" fill="#f2f77d"/>
<rect x="348.10" y="219.00" width="5.61" height="1.00" fill="#f2f77d"/>
<rect x="348.10" y="220.00" width="9.19" height="1.00" fill="#e6ef77"/>
<rect x="348.10" y="221.00" width="12.88" height="1.00" fill="#d9e770"/>
<rect x="348.10" y="222.00" width="17.00" height="1.00" fill="#ccdf6a"/>
<rect x="348.10" y="223.00" width="21.12" height="1.00" fill="#bfd763"/>
<rect x="348.10" y="224.00" width="25.24" height="1.00" fill="#b2cf5c"/>
<rect x="348.10" y="225.00" width="29.35" height="1.00" fill="#a6c756"/>
<rect x="348.10" y="226.00" width="22.39" height="1.00" fill="#b2cf5c"/>
<rect x="348.10" y="227.00" width="14.89" height="1.00" fill="#ccdf6a"/>
<rect x="348.10" y="228.00" width="26.29" height="1.00" fill="#b2cf5c"/>
<rect x="348.10" y="229.00" width="38.79" height="1.00" fill="#80af42"/>
<rect x="348.10" y="230.00" width="51.29" height="1.00" fill="#59972e"/>
<rect x="348.10" y="231.00" width="39.56" height="1.00" fill="#80af42"/>
<rect x="348.10" y="232.00" width="26.06" height="1.00" fill="#b2cf5c"/>
<rect x="348.10" y="233.00" width="22.24" height="1.00" fill="#bfd763"/>
<rect x="348.10" y="234.00" width="31.74" height="1.00" fill="#99bf4f"/>
<rect x="348.10" y="235.00" width="41.24" height="1.00" fill="#80af42"/>
<rect x="348.10" y="236.00" width="44.90" height="1.00" fill="#73a73b"/>
<rect x="348.10" y="237.00" width="47.97" height="1.00" fill="#669f35"/>
<rect x="348.10" y="238.00" width="51.05" height="1.00" fill="#59972e"/>
<rect x="348.10" y="239.00" width="49.66" height="1.00" fill="#669f35"/>
<rect x="348.10" y="240.00" width="45.81" height="1.00" fill="#73a73b"/>
<rect x="348.10" y="241.00" width="41.96" height="1.00" fill="#80af42"/>
<rect x="348.10" y="242.00" width="37.57" height="1.00" fill="#8cb749"/>
<rect x="348.10" y="243.00" width="32.27" height="1.00" fill="#99bf4f"/>
<rect x="348.10" y="244.00" width="26.98" height="1.00" fill="#a6c756"/>
<rect x="348.10" y="245.00" width="21.68" height="1.00" fill="#bfd763"/>
<rect x="348.10" y="246.00" width="17.82" height="1.00" fill="#ccdf6a"/>
<rect x="348.10" y="247.00" width="25.15" height="1.00" fill="#b2cf5c"/>
<rect x="348.10" y="248.00" width="32.48" height="1.00" fill="#99bf4f"/>
<rect x="348.10" y="249.00" width="39.82" height="1.00" fill="#80af42"/>
<rect x="348.10" y="250.00" width="43.22" height="1.00" fill="#73a73b"/>
<rect x="348.10" y="251.00" width="39.22" height="1.00" fill="#80af42"/>
<rect x="348.10" y="252.00" width="35.22" height="1.00" fill="#8cb749"/>
<rect x="348.10" y="253.00" width="29.34" height="1.00" fill="#a6c756"/>
<rect x="348.10" y="254.00" width="23.09" height="1.00" fill="#b2cf5c"/>
<rect x="348.10" y="255.00" width="26.74" height="1.00" fill="#a6c756"/>
<rect x="348.10" y="256.00" width="31.64" height="1.00" fill="#99bf4f"/>
<rect x="348.10" y="257.00" width="25.64" height="1.00" fill="#b2cf5c"/>
<rect x="348.10" y="258.00" width="19.64" height="1.00" fill="#bfd763"/>
<rect x="348.10" y="259.00" width="23.41" height="1.00" fill="#b2cf5c"/>
<rect x="348.10" y="260.00" width="34.91" height="1.00" fill="#8cb749"/>
<rect x="348.10" y="261.00" width="45.70" height="1.00" fill="#73a73b"/>
<rect x="348.10" y="262.00" width="42.24" height="1.00" fill="#80af42"/>
<rect x="348.10" y="263.00" width="38.78" height="1.00" fill="#80af42"/>
<rect x="348.10" y="264.00" width="35.31" height="1.00" fill="#8cb749"/>
<rect x="348.10" y="265.00" width="30.00" height="1.00" fill="#a6c756"/>
<rect x="348.10" y="266.00" width="24.16" height="1.00" fill="#b2cf5c"/>
<rect x="348.10" y="267.00" width="18.33" height="1.00" fill="#bfd763"/>
<rect x="348.10" y="268.00" width="17.45" height="1.00" fill="#ccdf6a"/>
<rect x="348.10" y="269.00" width="18.05" height="1.00" fill="#ccdf6a"/>
<rect x="348.10" y="270.00" width="18.65" height="1.00" fill="#bfd763"/>
<rect x="348.10" y="271.00" width="19.25" height="1.00" fill="#bfd763"/>
<rect x="348.10" y="272.00" width="19.85" height="1.00" fill="#bfd763"/>
<rect x="348.10" y="273.00" width="20.45" height="1.00" fill="#bfd763"/>
<rect x="348.10" y="274.00" width="23.41" height="1.00" fill="#b2cf5c"/>
<rect x="348.10" y="275.00" width="28.79" height="1.00" fill="#a6c756"/>
<rect x="348.10" y="276.00" width="34.18" height="1.00" fill="#99bf4f"/>
<rect x="348.10" y="277.00" width="36.05" height="1.00" fill="#8cb749"/>
<rect x="348.10" y="278.00" width="26.05" height="1.00" fill="#b2cf5c"/>
<rect x="348.10" y="279.00" width="29.08" height="1.00" fill="#a6c756"/>
<rect x="348.10" y="280.00" width="46.78" height="1.00" fill="#669f35"/>
<rect x="348.10" y="281.00" width="64.47" height="1.00" fill="#337f1a"/>
<rect x="348.10" y="282.00" width="70.24" height="1.00" fill="#267714"/>
<rect x="348.10" y="283.00" width="39.34" height="1.00" fill="#80af42"/>
<rect x="348.10" y="284.00" width="44.34" height="1.00" fill="#73a73b"/>
<rect x="348.10" y="285.00" width="49.34" height="1.00" fill="#669f35"/>
<rect x="348.10" y="286.00" width="54.34" height="1.00" fill="#59972e"/>
<rect x="348.10" y="287.00" width="62.86" height="1.00" fill="#408721"/>
<rect x="348.10" y="288.00" width="71.61" height="1.00" fill="#1a6f0d"/>
<rect x="348.10" y="289.00" width="80.36" height="1.00" fill="#005f00"/>
<rect x="348.10" y="290.00" width="61.26" height="1.00" fill="#408721"/>
<rect x="348.10" y="291.00" width="39.90" height="1.00" fill="#80af42"/>
<rect x="348.10" y="292.00" width="20.63" height="1.00" fill="#bfd763"/>
<rect x="348.10" y="293.00" width="12.13" height="1.00" fill="#d9e770"/>
<rect x="348.10" y="294.00" width="3.63" height="1.00" fill="#f2f77d"/>
<rect x="348.10" y="295.00" width="1.05" height="1.00" fill="#ffff84"/>
<rect x="348.10" y="296.00" width="1.64" height="1.00" fill="#ffff84"/>
<rect x="348.10" y="297.00" width="2.23" height="1.00" fill="#f2f77d"/>
<rect x="348.10" y="298.00" width="2.81" height="1.00" fill="#f2f77d"/>
<rect x="348.10" y="299.00" width="2.85" height="1.00" fill="#f2f77d"/>
<rect x="348.10" y="300.00" width="1.98" height="1.00" fill="#ffff84"/>
<rect x="348.10" y="301.00" width="1.11" height="1.00" fill="#ffff84"/>
<rect x="348.10" y="304.00" width="0.34" height="1.00" fill="#ffff84"/>
<rect x="348.10" y="305.00" width="0.61" height="1.00" fill="#ffff84"/>
<rect x="348.10" y="306.00" width="0.88" height="1.00" fill="#ffff84"/>
<rect x="348.10" y="307.00" width="1.14" height="1.00" fill="#ffff84"/>
<rect x="348.10" y="308.00" width="1.41" height="1.00" fill="#ffff84"/>
<rect x="348.10" y="309.00" width="1.68" height="1.00" fill="#ffff84"/>
<rect x="348.10" y="310.00" width="1.92" height="1.00" fill="#ffff84"/>
<rect x="348.10" y="311.00" width="1.92" height="1.00" fill="#ffff84"/>
<rect x="348.10" y="312.00" width="1.92" height="1.00" fill="#ffff84"/>
<rect x="348.10" y="313.00" width="1.66" height="1.00" fill="#ffff84"/>
<rect x="348.10" y="314.00" width="1.40" height="1.00" fill="#ffff84"/>
<rect x="348.10" y="315.00" width="1.13" height="1.00" fill="#ffff84"/>
<rect x="348.10" y="316.00" width="0.86" height="1.00" fill="#ffff84"/>
<rect x="348.10" y="317.00" width="0.60" height="1.00" fill="#ffff84"/>
<rect x="348.10" y="318.00" width="0.33" height="1.00" fill="#ffff84"/>
<rect x="348.10" y="327.00" width="1.07" height="1.00" fill="#ffff84"/>
<rect x="348.10" y="328.00" width="2.07" height="1.00" fill="#f2f77d"/>
<rect x="348.10" y="329.00" width="1.99" height="1.00" fill="#ffff84"/>
<rect x="348.10" y="330.00" width="1.33" height="1.00" fill="#ffff84"/>
<rect x="348.10" y="331.00" width="0.66" height="1.00" fill="#ffff84"/>
<rect x="348.10" y="334.00" width="0.48" height="1.00" fill="#ffff84"/>
<rect x="348.10" y="335.00" width="1.16" height="1.00" fill="#ffff84"/>
<rect x="348.10" y="336.00" width="2.49" height="1.00" fill="#f2f77d"/>
<rect x="348.10" y="337.00" width="3.82" height="1.00" fill="#f2f77d"/>
<rect x="348.10" y="338.00" width="5.16" height="1.00" fill="#f2f77d"/>
<rect x="348.10" y="339.00" width="4.76" height="1.00" fill="#f2f77d"/>
<rect x="348.10" y="340.00" width="3.23" height="1.00" fill="#f2f77d"/>
<rect x="348.10" y="341.00" width="1.70" height="1.00" fill="#ffff84"/>
<rect x="348.10" y="343.00" width="0.58" height="1.00" fill="#ffff84"/>
<rect x="348.10" y="344.00" width="1.38" height="1.00" fill="#ffff84"/>
<rect x="348.10" y="345.00" width="2.73" height="1.00" fill="#f2f77d"/>
<rect x="348.10" y="346.00" width="5.23" height="1.00" fill="#f2f77d"/>
<rect x="348.10" y="347.00" width="7.73" height="1.00" fill="#e6ef77"/>
<rect x="348.10" y="348.00" width="6.41" height="1.00" fill="#e6ef77"/>
<rect x="348.10" y="349.00" width="4.21" height="1.00" fill="#f2f77d"/>
<rect x="348.10" y="350.00" width="2.01" height="1.00" fill="#ffff84"/>
<rect x="348.10" y="351.00" width="0.62" height="1.00" fill="#ffff84"/>
<rect x="348.10" y="352.00" width="15.42" height="1.00" fill="#ccdf6a"/>
<rect x="348.10" y="353.00" width="30.22" height="1.00" fill="#a6c756"/>
<rect x="348.10" y="354.00" width="38.97" height="1.00" fill="#80af42"/>
<rect x="348.10" y="355.00" width="42.50" height="1.00" fill="#80af42"/>
<rect x="348.10" y="356.00" width="46.03" height="1.00" fill="#73a73b"/>
<rect x="348.10" y="357.00" width="49.56" height="1.00" fill="#669f35"/>
<rect x="348.10" y="358.00" width="50.00" height="1.00" fill="#669f35"/>
<rect x="348.10" y="359.00" width="42.00" height="1.00" fill="#80af42"/>
<rect x="348.10" y="360.00" width="34.00" height="1.00" fill="#99bf4f"/>
<rect x="348.10" y="361.00" width="30.58" height="1.00" fill="#99bf4f"/>
<rect x="348.10" y="362.00" width="28.64" height="1.00" fill="#a6c756"/>
<rect x="348.10" y="363.00" width="26.69" height="1.00" fill="#a6c756"/>
<rect x="348.10" y="364.00" width="24.75" height="1.00" fill="#b2cf5c"/>
<rect x="348.10" y="365.00" width="23.86" height="1.00" fill="#b2cf5c"/>
<rect x="348.10" y="366.00" width="26.36" height="1.00" fill="#b2cf5c"/>
<rect x="348.10" y="367.00" width="28.86" height="1.00" fill="#a6c756"/>
<rect x="348.10" y="368.00" width="43.16" height="1.00" fill="#73a73b"/>
<rect x="348.10" y="369.00" width="61.91" height="1.00" fill="#408721"/>
<rect x="348.10" y="370.00" width="55.01" height="1.00" fill="#4c8f28"/>
<rect x="348.10" y="371.00" width="38.01" height="1.00" fill="#8cb749"/>
<rect x="348.10" y="372.00" width="23.60" height="1.00" fill="#b2cf5c"/>
<rect x="348.10" y="373.00" width="19.15" height="1.00" fill="#bfd763"/>
<rect x="348.10" y="374.00" width="14.69" height="1.00" fill="#ccdf6a"/>
<rect x="348.10" y="375.00" width="10.24" height="1.00" fill="#d9e770"/>
<rect x="348.10" y="376.00" width="5.78" height="1.00" fill="#f2f77d"/>
<rect x="348.10" y="377.00" width="1.33" height="1.00" fill="#ffff84"/>
<rect x="348.10" y="378.00" width="4.55" height="1.00" fill="#f2f77d"/>
<rect x="348.10" y="379.00" width="11.35" height="1.00" fill="#d9e770"/>
<rect x="348.10" y="380.00" width="18.19" height="1.00" fill="#ccdf6a"/>
<rect x="348.10" y="381.00" width="25.19" height="1.00" fill="#b2cf5c"/>
<rect x="348.10" y="382.00" width="32.19" height="1.00" fill="#99bf4f"/>
<rect x="348.10" y="383.00" width="29.61" height="1.00" fill="#a6c756"/>
<rect x="348.10" y="384.00" width="22.11" height="1.00" fill="#bfd763"/>
<rect x="348.10" y="385.00" width="16.18" height="1.00" fill="#ccdf6a"/>
<rect x="348.10" y="386.00" width="19.18" height="1.00" fill="#bfd763"/>
<rect x="348.10" y="387.00" width="22.18" height="1.00" fill="#bfd763"/>
<rect x="348.10" y="388.00" width="25.18" height="1.00" fill="#b2cf5c"/>
<rect x="348.10" y="389.00" width="28.18" height="1.00" fill="#a6c756"/>
<rect x="348.10" y="390.00" width="29.90" height="1.00" fill="#a6c756"/>
<rect x="348.10" y="391.00" width="22.90" height="1.00" fill="#b2cf5c"/>
<rect x="348.10" y="392.00" width="15.90" height="1.00" fill="#ccdf6a"/>
<rect x="348.10" y="393.00" width="15.62" height="1.00" fill="#ccdf6a"/>
<rect x="348.10" y="394.00" width="19.51" height="1.00" fill="#bfd763"/>
<rect x="348.10" y="395.00" width="23.40" height="1.00" fill="#b2cf5c"/>
<rect x="348.10" y="396.00" width="27.29" height="1.00" fill="#a6c756"/>
<rect x="348.10" y="397.00" width="30.64" height="1.00" fill="#99bf4f"/>
<rect x="348.10" y="398.00" width="28.97" height="1.00" fill="#a6c756"/>
<rect x="348.10" y="399.00" width="27.30" height="1.00" fill="#a6c756"/>
<rect x="348.10" y="400.00" width="25.99" height="1.00" fill="#b2cf5c"/>
<rect x="348.10" y="401.00" width="28.56" height="1.00" fill="#a6c756"/>
<rect x="348.10" y="402.00" width="31.13" height="1.00" fill="#99bf4f"/>
<rect x="348.10" y="403.00" width="33.70" height="1.00" fill="#99bf4f"/>
<rect x="348.10" y="404.00" width="36.27" height="1.00" fill="#8cb749"/>
<rect x="348.10" y="405.00" width="38.84" height="1.00" fill="#80af42"/>
<rect x="348.10" y="406.00" width="36.30" height="1.00" fill="#8cb749"/>
<rect x="348.10" y="407.00" width="31.69" height="1.00" fill="#99bf4f"/>
<rect x="348.10" y="408.00" width="27.07" height="1.00" fill="#a6c756"/>
<rect x="348.10" y="409.00" width="22.02" height="1.00" fill="#bfd763"/>
<rect x="348.10" y="410.00" width="16.43" height="1.00" fill="#ccdf6a"/>
<rect x="348.10" y="411.00" width="10.84" height="1.00" fill="#d9e770"/>
<rect x="348.10" y="412.00" width="5.26" height="1.00" fill="#f2f77d"/>
<rect x="348.10" y="413.00" width="1.68" height="1.00" fill="#ffff84"/>
<rect x="348.10" y="414.00" width="7.35" height="1.00" fill="#e6ef77"/>
<rect x="348.10" y="415.00" width="13.01" height="1.00" fill="#d9e770"/>
<rect x="348.10" y="416.00" width="18.68" height="1.00" fill="#bfd763"/>
<rect x="348.10" y="417.00" width="23.66" height="1.00" fill="#b2cf5c"/>
<rect x="348.10" y="418.00" width="27.66" height="1.00" fill="#a6c756"/>
<rect x="348.10" y="419.00" width="31.66" height="1.00" fill="#99bf4f"/>
<rect x="348.10" y="420.00" width="35.66" height="1.00" fill="#8cb749"/>
<rect x="348.10" y="421.00" width="34.71" height="1.00" fill="#8cb749"/>
<rect x="348.10" y="422.00" width="31.04" height="1.00" fill="#99bf4f"/>
<rect x="348.10" y="423.00" width="27.37" height="1.00" fill="#a6c756"/>
<rect x="348.10" y="424.00" width="23.71" height="1.00" fill="#b2cf5c"/>
<rect x="348.10" y="425.00" width="23.85" height="1.00" fill="#b2cf5c"/>
<rect x="348.10" y="426.00" width="24.52" height="1.00" fill="#b2cf5c"/>
<rect x="348.10" y="427.00" width="25.18" height="1.00" fill="#b2cf5c"/>
<rect x="348.10" y="428.00" width="26.34" height="1.00" fill="#b2cf5c"/>
<rect x="348.10" y="429.00" width="31.34" height="1.00" fill="#99bf4f"/>
<rect x="348.10" y="430.00" width="36.34" height="1.00" fill="#8cb749"/>
<rect x="348.10" y="431.00" width="35.97" height="1.00" fill="#8cb749"/>
<rect x="348.10" y="432.00" width="32.06" height="1.00" fill="#99bf4f"/>
<rect x="348.10" y="433.00" width="28.15" height="1.00" fill="#a6c756"/>
<rect x="348.10" y="434.00" width="24.24" height="1.00" fill="#b2cf5c"/>
<rect x="348.10" y="435.00" width="20.32" height="1.00" fill="#bfd763"/>
<rect x="348.10" y="436.00" width="16.41" height="1.00" fill="#ccdf6a"/>
<rect x="348.10" y="437.00" width="23.31" height="1.00" fill="#b2cf5c"/>
<rect x="348.10" y="438.00" width="32.48" height="1.00" fill="#99bf4f"/>
<rect x="348.10" y="439.00" width="41.65" height="1.00" fill="#80af42"/>
<rect x="348.10" y="440.00" width="39.83" height="1.00" fill="#80af42"/>
<rect x="348.10" y="441.00" width="35.49" height="1.00" fill="#8cb749"/>
<rect x="348.10" y="442.00" width="31.16" height="1.00" fill="#99bf4f"/>
<rect x="348.10" y="443.00" width="27.10" height="1.00" fill="#a6c756"/>
<rect x="348.10" y="444.00" width="28.64" height="1.00" fill="#a6c756"/>
<rect x="348.10" y="445.00" width="30.18" height="1.00" fill="#a6c756"/>
<rect x="348.10" y="446.00" width="31.72" height="1.00" fill="#99bf4f"/>
<rect x="348.10" y="447.00" width="27.68" height="1.00" fill="#a6c756"/>
<rect x="348.10" y="448.00" width="22.09" height="1.00" fill="#bfd763"/>
<rect x="348.10" y="449.00" width="16.50" height="1.00" fill="#ccdf6a"/>
<rect x="348.10" y="450.00" width="10.91" height="1.00" fill="#d9e770"/>
<rect x="348.10" y="451.00" width="11.56" height="1.00" fill="#d9e770"/>
<rect x="348.10" y="452.00" width="18.10" height="1.00" fill="#ccdf6a"/>
<rect x="348.10" y="453.00" width="24.64" height="1.00" fill="#b2cf5c"/>
<rect x="348.10" y="454.00" width="32.88" height="1.00" fill="#99bf4f"/>
<rect x="348.10" y="455.00" width="46.21" height="1.00" fill="#73a73b"/>
<rect x="348.10" y="456.00" width="59.55" height="1.00" fill="#408721"/>
<rect x="348.10" y="457.00" width="56.67" height="1.00" fill="#4c8f28"/>
<rect x="348.10" y="458.00" width="1.67" height="1.00" fill="#ffff84"/>
<rect x="348.10" y="459.00" width="2.14" height="1.00" fill="#f2f77d"/>
<rect x="348.10" y="460.00" width="3.64" height="1.00" fill="#f2f77d"/>
<rect x="348.10" y="461.00" width="4.90" height="1.00" fill="#f2f77d"/>
<rect x="348.10" y="462.00" width="5.90" height="1.00" fill="#f2f77d"/>
<rect x="348.10" y="463.00" width="6.90" height="1.00" fill="#e6ef77"/>
<rect x="348.10" y="464.00" width="7.90" height="1.00" fill="#e6ef77"/>
<rect x="348.10" y="465.00" width="8.90" height="1.00" fill="#e6ef77"/>
<rect x="348.10" y="466.00" width="11.55" height="1.00" fill="#d9e770"/>
<rect x="348.10" y="467.00" width="16.22" height="1.00" fill="#ccdf6a"/>
<rect x="348.10" y="468.00" width="20.88" height="1.00" fill="#bfd763"/>
<rect x="348.10" y="469.00" width="25.55" height="1.00" fill="#b2cf5c"/>
<rect x="348.10" y="470.00" width="35.56" height="1.00" fill="#8cb749"/>
<rect x="348.10" y="471.00" width="48.06" height="1.00" fill="#669f35"/>
<rect x="348.10" y="472.00" width="56.95" height="1.00" fill="#4c8f28"/>
<rect x="348.10" y="473.00" width="64.10" height="1.00" fill="#337f1a"/>
<rect x="348.10" y="474.00" width="71.24" height="1.00" fill="#1a6f0d"/>
<rect x="348.10" y="475.00" width="75.90" height="1.00" fill="#0d6707"/>
<rect x="348.10" y="476.00" width="67.40" height="1.00" fill="#267714"/>
<rect x="348.10" y="477.00" width="58.90" height="1.00" fill="#4c8f28"/>
<rect x="348.10" y="478.00" width="55.20" height="1.00" fill="#4c8f28"/>
<rect x="348.10" y="479.00" width="54.12" height="1.00" fill="#59972e"/>
<rect x="348.10" y="480.00" width="53.03" height="1.00" fill="#59972e"/>
<rect x="348.10" y="481.00" width="51.94" height="1.00" fill="#59972e"/>
<rect x="348.10" y="482.00" width="50.86" height="1.00" fill="#59972e"/>
<rect x="348.10" y="483.00" width="49.77" height="1.00" fill="#669f35"/>
<rect x="348.10" y="484.00" width="39.66" height="1.00" fill="#80af42"/>
<rect x="348.10" y="485.00" width="28.84" height="1.00" fill="#a6c756"/>
<rect x="348.10" y="486.00" width="22.68" height="1.00" fill="#b2cf5c"/>
<rect x="348.10" y="487.00" width="16.53" height="1.00" fill="#ccdf6a"/>
<rect x="348.10" y="488.00" width="10.38" height="1.00" fill="#d9e770"/>
<rect x="348.10" y="489.00" width="10.76" height="1.00" fill="#d9e770"/>
<rect x="348.10" y="490.00" width="12.30" height="1.00" fill="#d9e770"/>
<rect x="348.10" y="491.00" width="13.84" height="1.00" fill="#d9e770"/>
<rect x="348.10" y="492.00" width="12.48" height="1.00" fill="#d9e770"/>
<rect x="348.10" y="493.00" width="9.07" height="1.00" fill="#e6ef77"/>
<rect x="348.10" y="494.00" width="5.65" height="1.00" fill="#f2f77d"/>
<rect x="348.10" y="495.00" width="2.24" height="1.00" fill="#f2f77d"/>
</g>
<polyline points="357.6,129.5 361.3,137.6 357.6,141.3 362.6,143.8 356.3,147.6 362.6,151.4 367.6,156.4 360.1,161.4 352.5,170.2 360.1,174.0 377.6,179.0 352.5,186.5 368.9,189.8 370.1,192.3 412.8,197.3 348.8,199.8 348.1,217.9 360.1,221.3 377.6,225.5 362.6,227.6 400.2,230.6 366.3,233.1 390.2,235.6 400.2,238.9 387.7,242.1 365.1,246.4 392.7,250.2 382.7,252.7 370.1,254.7 380.2,256.4 365.1,258.9 394.0,261.5 382.7,264.7 365.1,267.7 368.9,274.0 386.4,277.3 368.9,279.0 426.6,282.3 386.4,283.3 402.8,286.6 429.1,289.6 370.1,292.3 348.8,294.8 351.3,299.1 348.1,302.9 350.0,310.4 350.0,312.5 348.1,320.1 348.1,326.3 350.5,328.9 348.1,332.6 348.8,335.1 353.8,338.9 348.1,342.7 350.0,345.2 356.3,347.7 348.1,351.5 385.2,354.0 400.2,358.2 380.2,360.7 371.4,365.3 377.6,367.8 415.3,369.8 372.6,372.3 348.1,377.8 365.1,380.3 382.7,382.8 363.8,385.4 378.9,390.4 361.3,392.9 378.9,397.4 373.9,400.4 387.7,405.8 372.6,409.1 348.8,413.3 370.1,417.1 385.2,420.9 371.4,424.6 373.9,428.4 386.4,430.9 363.8,436.7 391.5,439.7 375.1,443.5 380.2,446.7 356.3,451.0 377.6,454.2 417.8,457.3 348.8,458.5 352.5,461.0 357.6,466.1 375.1,469.8 400.2,471.8 425.4,475.3 404.0,477.9 397.7,483.6 377.6,485.4 357.6,488.6 362.6,491.9 348.1,496.2" fill="none" stroke="#000" stroke-width="1.2" stroke-linejoin="round"/>
<g shape-rendering="crispEdges">
<rect x="429.90" y="128.00" width="80.82" height="1.00" fill="#0d6707"/>
<rect x="429.90" y="129.00" width="80.82" height="1.00" fill="#0d6707"/>
<rect x="429.90" y="130.00" width="80.38" height="1.00" fill="#0d6707"/>
<rect x="429.90" y="131.00" width="79.92" height="1.00" fill="#0d6707"/>
<rect x="429.90" y="132.00" width="79.47" height="1.00" fill="#0d6707"/>
<rect x="429.90" y="133.00" width="79.01" height="1.00" fill="#0d6707"/>
<rect x="429.90" y="134.00" width="78.56" height="1.00" fill="#0d6707"/>
<rect x="429.90" y="135.00" width="79.00" height="1.00" fill="#0d6707"/>
<rect x="429.90" y="136.00" width="80.50" height="1.00" fill="#0d6707"/>
<rect x="429.90" y="137.00" width="82.00" height="1.00" fill="#0d6707"/>
<rect x="429.90" y="138.00" width="76.72" height="1.00" fill="#1a6f0d"/>
<rect x="429.90" y="139.00" width="71.05" height="1.00" fill="#267714"/>
<rect x="429.90" y="140.00" width="65.39" height="1.00" fill="#408721"/>
<rect x="429.90" y="141.00" width="61.42" height="1.00" fill="#4c8f28"/>
<rect x="429.90" y="142.00" width="65.27" height="1.00" fill="#408721"/>
<rect x="429.90" y="143.00" width="69.12" height="1.00" fill="#337f1a"/>
<rect x="429.90" y="144.00" width="72.96" height="1.00" fill="#267714"/>
<rect x="429.90" y="145.00" width="71.94" height="1.00" fill="#267714"/>
<rect x="429.90" y="146.00" width="70.47" height="1.00" fill="#267714"/>
<rect x="429.90" y="147.00" width="69.00" height="1.00" fill="#337f1a"/>
<rect x="429.90" y="148.00" width="67.53" height="1.00" fill="#337f1a"/>
<rect x="429.90" y="149.00" width="68.41" height="1.00" fill="#337f1a"/>
<rect x="429.90" y="150.00" width="70.58" height="1.00" fill="#267714"/>
<rect x="429.90" y="151.00" width="72.75" height="1.00" fill="#267714"/>
<rect x="429.90" y="152.00" width="74.91" height="1.00" fill="#1a6f0d"/>
<rect x="429.90" y="153.00" width="77.08" height="1.00" fill="#1a6f0d"/>
<rect x="429.90" y="154.00" width="79.25" height="1.00" fill="#0d6707"/>
<rect x="429.90" y="155.00" width="81.41" height="1.00" fill="#0d6707"/>
<rect x="429.90" y="156.00" width="82.77" height="1.00" fill="#005f00"/>
<rect x="429.90" y="157.00" width="77.77" height="1.00" fill="#1a6f0d"/>
<rect x="429.90" y="158.00" width="78.34" height="1.00" fill="#1a6f0d"/>
<rect x="429.90" y="159.00" width="79.84" height="1.00" fill="#0d6707"/>
<rect x="429.90" y="160.00" width="81.34" height="1.00" fill="#0d6707"/>
<rect x="429.90" y="161.00" width="82.84" height="1.00" fill="#005f00"/>
<rect x="429.90" y="162.00" width="84.34" height="1.00" fill="#005f00"/>
<rect x="429.90" y="163.00" width="83.75" height="1.00" fill="#005f00"/>
<rect x="429.90" y="164.00" width="82.75" height="1.00" fill="#005f00"/>
<rect x="429.90" y="165.00" width="81.75" height="1.00" fill="#0d6707"/>
<rect x="429.90" y="166.00" width="80.86" height="1.00" fill="#0d6707"/>
<rect x="429.90" y="167.00" width="81.36" height="1.00" fill="#0d6707"/>
<rect x="429.90" y="168.00" width="81.86" height="1.00" fill="#0d6707"/>
<rect x="429.90" y="169.00" width="82.36" height="1.00" fill="#0d6707"/>
<rect x="429.90" y="170.00" width="82.86" height="1.00" fill="#005f00"/>
<rect x="429.90" y="171.00" width="83.38" height="1.00" fill="#005f00"/>
<rect x="429.90" y="172.00" width="84.38" height="1.00" fill="#005f00"/>
<rect x="429.90" y="173.00" width="84.50" height="1.00" fill="#005f00"/>
<rect x="429.90" y="174.00" width="84.50" height="1.00" fill="#005f00"/>
<rect x="429.90" y="175.00" width="84.50" height="1.00" fill="#005f00"/>
<rect x="429.90" y="176.00" width="84.50" height="1.00" fill="#005f00"/>
<rect x="429.90" y="177.00" width="84.44" height="1.00" fill="#005f00"/>
<rect x="429.90" y="178.00" width="83.27" height="1.00" fill="#005f00"/>
<rect x="429.90" y="179.00" width="82.11" height="1.00" fill="#0d6707"/>
<rect x="429.90" y="180.00" width="80.94" height="1.00" fill="#0d6707"/>
<rect x="429.90" y="181.00" width="79.77" height="1.00" fill="#0d6707"/>
<rect x="429.90" y="182.00" width="78.61" height="1.00" fill="#0d6707"/>
<rect x="429.90" y="183.00" width="73.82" height="1.00" fill="#267714"/>
<rect x="429.90" y="184.00" width="67.82" height="1.00" fill="#337f1a"/>
<rect x="429.90" y="185.00" width="61.82" height="1.00" fill="#408721"/>
<rect x="429.90" y="186.00" width="55.82" height="1.00" fill="#59972e"/>
<rect x="429.90" y="187.00" width="48.92" height="1.00" fill="#669f35"/>
<rect x="429.90" y="188.00" width="41.99" height="1.00" fill="#80af42"/>
<rect x="429.90" y="189.00" width="35.07" height="1.00" fill="#99bf4f"/>
<rect x="429.90" y="190.00" width="39.93" height="1.00" fill="#8cb749"/>
<rect x="429.90" y="191.00" width="49.43" height="1.00" fill="#669f35"/>
<rect x="429.90" y="192.00" width="54.64" height="1.00" fill="#59972e"/>
<rect x="429.90" y="193.00" width="43.39" height="1.00" fill="#80af42"/>
<rect x="429.90" y="194.00" width="32.14" height="1.00" fill="#99bf4f"/>
<rect x="429.90" y="195.00" width="20.89" height="1.00" fill="#bfd763"/>
<rect x="429.90" y="196.00" width="9.64" height="1.00" fill="#e6ef77"/>
<rect x="429.90" y="197.00" width="0.47" height="1.00" fill="#ffff84"/>
<rect x="429.90" y="198.00" width="0.44" height="1.00" fill="#ffff84"/>
<rect x="429.90" y="199.00" width="0.42" height="1.00" fill="#ffff84"/>
<rect x="429.90" y="200.00" width="0.39" height="1.00" fill="#ffff84"/>
<rect x="429.90" y="201.00" width="0.37" height="1.00" fill="#ffff84"/>
<rect x="429.90" y="202.00" width="0.35" height="1.00" fill="#ffff84"/>
<rect x="429.90" y="203.00" width="0.32" height="1.00" fill="#ffff84"/>
<rect x="429.90" y="218.00" width="1.18" height="1.00" fill="#ffff84"/>
<rect x="429.90" y="219.00" width="4.10" height="1.00" fill="#f2f77d"/>
<rect x="429.90" y="220.00" width="7.34" height="1.00" fill="#e6ef77"/>
<rect x="429.90" y="221.00" width="10.57" height="1.00" fill="#e6ef77"/>
<rect x="429.90" y="222.00" width="13.81" height="1.00" fill="#d9e770"/>
<rect x="429.90" y="223.00" width="15.90" height="1.00" fill="#ccdf6a"/>
<rect x="429.90" y="224.00" width="16.66" height="1.00" fill="#ccdf6a"/>
<rect x="429.90" y="225.00" width="17.43" height="1.00" fill="#ccdf6a"/>
<rect x="429.90" y="226.00" width="17.65" height="1.00" fill="#ccdf6a"/>
<rect x="429.90" y="227.00" width="15.65" height="1.00" fill="#ccdf6a"/>
<rect x="429.90" y="228.00" width="13.65" height="1.00" fill="#d9e770"/>
<rect x="429.90" y="229.00" width="14.18" height="1.00" fill="#d9e770"/>
<rect x="429.90" y="230.00" width="15.84" height="1.00" fill="#ccdf6a"/>
<rect x="429.90" y="231.00" width="17.51" height="1.00" fill="#ccdf6a"/>
<rect x="429.90" y="232.00" width="19.18" height="1.00" fill="#bfd763"/>
<rect x="429.90" y="233.00" width="20.84" height="1.00" fill="#bfd763"/>
<rect x="429.90" y="234.00" width="22.51" height="1.00" fill="#bfd763"/>
<rect x="429.90" y="235.00" width="24.18" height="1.00" fill="#b2cf5c"/>
<rect x="429.90" y="236.00" width="22.51" height="1.00" fill="#bfd763"/>
<rect x="429.90" y="237.00" width="20.51" height="1.00" fill="#bfd763"/>
<rect x="429.90" y="238.00" width="19.86" height="1.00" fill="#bfd763"/>
<rect x="429.90" y="239.00" width="21.25" height="1.00" fill="#bfd763"/>
<rect x="429.90" y="240.00" width="22.64" height="1.00" fill="#bfd763"/>
<rect x="429.90" y="241.00" width="24.03" height="1.00" fill="#b2cf5c"/>
<rect x="429.90" y="242.00" width="25.41" height="1.00" fill="#b2cf5c"/>
<rect x="429.90" y="243.00" width="24.70" height="1.00" fill="#b2cf5c"/>
<rect x="429.90" y="244.00" width="23.70" height="1.00" fill="#b2cf5c"/>
<rect x="429.90" y="245.00" width="23.81" height="1.00" fill="#b2cf5c"/>
<rect x="429.90" y="246.00" width="25.81" height="1.00" fill="#b2cf5c"/>
<rect x="429.90" y="247.00" width="27.81" height="1.00" fill="#a6c756"/>
<rect x="429.90" y="248.00" width="29.81" height="1.00" fill="#a6c756"/>
<rect x="429.90" y="249.00" width="29.60" height="1.00" fill="#a6c756"/>
<rect x="429.90" y="250.00" width="27.93" height="1.00" fill="#a6c756"/>
<rect x="429.90" y="251.00" width="26.27" height="1.00" fill="#b2cf5c"/>
<rect x="429.90" y="252.00" width="24.60" height="1.00" fill="#b2cf5c"/>
<rect x="429.90" y="253.00" width="24.60" height="1.00" fill="#b2cf5c"/>
<rect x="429.90" y="254.00" width="24.94" height="1.00" fill="#b2cf5c"/>
<rect x="429.90" y="255.00" width="25.27" height="1.00" fill="#b2cf5c"/>
<rect x="429.90" y="256.00" width="25.72" height="1.00" fill="#b2cf5c"/>
<rect x="429.90" y="257.00" width="27.72" height="1.00" fill="#a6c756"/>
<rect x="429.90" y="258.00" width="29.72" height="1.00" fill="#a6c756"/>
<rect x="429.90" y="259.00" width="31.72" height="1.00" fill="#a6c756"/>
<rect x="429.90" y="260.00" width="32.31" height="1.00" fill="#99bf4f"/>
<rect x="429.90" y="261.00" width="29.64" height="1.00" fill="#a6c756"/>
<rect x="429.90" y="262.00" width="26.97" height="1.00" fill="#b2cf5c"/>
<rect x="429.90" y="263.00" width="24.31" height="1.00" fill="#b2cf5c"/>
<rect x="429.90" y="264.00" width="22.80" height="1.00" fill="#bfd763"/>
<rect x="429.90" y="265.00" width="22.30" height="1.00" fill="#bfd763"/>
<rect x="429.90" y="266.00" width="21.80" height="1.00" fill="#bfd763"/>
<rect x="429.90" y="267.00" width="21.30" height="1.00" fill="#bfd763"/>
<rect x="429.90" y="268.00" width="20.80" height="1.00" fill="#bfd763"/>
<rect x="429.90" y="269.00" width="19.77" height="1.00" fill="#bfd763"/>
<rect x="429.90" y="270.00" width="18.23" height="1.00" fill="#ccdf6a"/>
<rect x="429.90" y="271.00" width="16.69" height="1.00" fill="#ccdf6a"/>
<rect x="429.90" y="272.00" width="19.54" height="1.00" fill="#bfd763"/>
<rect x="429.90" y="273.00" width="35.54" height="1.00" fill="#99bf4f"/>
<rect x="429.90" y="274.00" width="51.54" height="1.00" fill="#669f35"/>
<rect x="429.90" y="275.00" width="59.63" height="1.00" fill="#4c8f28"/>
<rect x="429.90" y="276.00" width="64.92" height="1.00" fill="#408721"/>
<rect x="429.90" y="277.00" width="70.22" height="1.00" fill="#267714"/>
<rect x="429.90" y="278.00" width="75.51" height="1.00" fill="#1a6f0d"/>
<rect x="429.90" y="279.00" width="72.88" height="1.00" fill="#267714"/>
<rect x="429.90" y="280.00" width="61.34" height="1.00" fill="#4c8f28"/>
<rect x="429.90" y="281.00" width="49.80" height="1.00" fill="#669f35"/>
<rect x="429.90" y="282.00" width="43.60" height="1.00" fill="#80af42"/>
<rect x="429.90" y="283.00" width="57.88" height="1.00" fill="#4c8f28"/>
<rect x="429.90" y="284.00" width="68.00" height="1.00" fill="#337f1a"/>
<rect x="429.90" y="285.00" width="73.00" height="1.00" fill="#267714"/>
<rect x="429.90" y="286.00" width="78.00" height="1.00" fill="#1a6f0d"/>
<rect x="429.90" y="287.00" width="83.00" height="1.00" fill="#005f00"/>
<rect x="429.90" y="288.00" width="71.81" height="1.00" fill="#267714"/>
<rect x="429.90" y="289.00" width="53.09" height="1.00" fill="#59972e"/>
<rect x="429.90" y="290.00" width="34.37" height="1.00" fill="#99bf4f"/>
<rect x="429.90" y="291.00" width="15.64" height="1.00" fill="#ccdf6a"/>
<rect x="429.90" y="292.00" width="0.52" height="1.00" fill="#ffff84"/>
<rect x="429.90" y="293.00" width="3.87" height="1.00" fill="#f2f77d"/>
<rect x="429.90" y="294.00" width="7.22" height="1.00" fill="#e6ef77"/>
<rect x="429.90" y="295.00" width="10.57" height="1.00" fill="#e6ef77"/>
<rect x="429.90" y="296.00" width="13.93" height="1.00" fill="#d9e770"/>
<rect x="429.90" y="297.00" width="13.39" height="1.00" fill="#d9e770"/>
<rect x="429.90" y="298.00" width="12.39" height="1.00" fill="#d9e770"/>
<rect x="429.90" y="299.00" width="11.39" height="1.00" fill="#d9e770"/>
<rect x="429.90" y="300.00" width="10.39" height="1.00" fill="#e6ef77"/>
<rect x="429.90" y="301.00" width="9.39" height="1.00" fill="#e6ef77"/>
<rect x="429.90" y="302.00" width="9.55" height="1.00" fill="#e6ef77"/>
<rect x="429.90" y="303.00" width="9.88" height="1.00" fill="#e6ef77"/>
<rect x="429.90" y="304.00" width="10.22" height="1.00" fill="#e6ef77"/>
<rect x="429.90" y="305.00" width="10.55" height="1.00" fill="#e6ef77"/>
<rect x="429.90" y="306.00" width="10.88" height="1.00" fill="#d9e770"/>
<rect x="429.90" y="307.00" width="11.22" height="1.00" fill="#d9e770"/>
<rect x="429.90" y="308.00" width="11.55" height="1.00" fill="#d9e770"/>
<rect x="429.90" y="309.00" width="11.77" height="1.00" fill="#d9e770"/>
<rect x="429.90" y="310.00" width="10.70" height="1.00" fill="#d9e770"/>
<rect x="429.90" y="311.00" width="8.45" height="1.00" fill="#e6ef77"/>
<rect x="429.90" y="312.00" width="6.20" height="1.00" fill="#f2f77d"/>
<rect x="429.90" y="313.00" width="3.95" height="1.00" fill="#f2f77d"/>
<rect x="429.90" y="314.00" width="1.70" height="1.00" fill="#ffff84"/>
<rect x="429.90" y="315.00" width="2.07" height="1.00" fill="#ffff84"/>
<rect x="429.90" y="316.00" width="5.57" height="1.00" fill="#f2f77d"/>
<rect x="429.90" y="317.00" width="9.07" height="1.00" fill="#e6ef77"/>
<rect x="429.90" y="318.00" width="8.00" height="1.00" fill="#e6ef77"/>
<rect x="429.90" y="319.00" width="6.67" height="1.00" fill="#e6ef77"/>
<rect x="429.90" y="320.00" width="5.33" height="1.00" fill="#f2f77d"/>
<rect x="429.90" y="321.00" width="4.54" height="1.00" fill="#f2f77d"/>
<rect x="429.90" y="322.00" width="6.20" height="1.00" fill="#f2f77d"/>
<rect x="429.90" y="323.00" width="7.87" height="1.00" fill="#e6ef77"/>
<rect x="429.90" y="324.00" width="9.54" height="1.00" fill="#e6ef77"/>
<rect x="429.90" y="325.00" width="9.86" height="1.00" fill="#e6ef77"/>
<rect x="429.90" y="326.00" width="8.26" height="1.00" fill="#e6ef77"/>
<rect x="429.90" y="327.00" width="6.66" height="1.00" fill="#e6ef77"/>
<rect x="429.90" y="328.00" width="5.06" height="1.00" fill="#f2f77d"/>
<rect x="429.90" y="329.00" width="3.46" height="1.00" fill="#f2f77d"/>
<rect x="429.90" y="330.00" width="1.86" height="1.00" fill="#ffff84"/>
<rect x="429.90" y="331.00" width="0.94" height="1.00" fill="#ffff84"/>
<rect x="429.90" y="332.00" width="4.44" height="1.00" fill="#f2f77d"/>
<rect x="429.90" y="333.00" width="7.94" height="1.00" fill="#e6ef77"/>
<rect x="429.90" y="334.00" width="11.44" height="1.00" fill="#d9e770"/>
<rect x="429.90" y="335.00" width="14.94" height="1.00" fill="#ccdf6a"/>
<rect x="429.90" y="336.00" width="17.82" height="1.00" fill="#ccdf6a"/>
<rect x="429.90" y="337.00" width="15.82" height="1.00" fill="#ccdf6a"/>
<rect x="429.90" y="338.00" width="13.82" height="1.00" fill="#d9e770"/>
<rect x="429.90" y="339.00" width="11.82" height="1.00" fill="#d9e770"/>
<rect x="429.90" y="340.00" width="10.95" height="1.00" fill="#d9e770"/>
<rect x="429.90" y="341.00" width="12.20" height="1.00" fill="#d9e770"/>
<rect x="429.90" y="342.00" width="13.45" height="1.00" fill="#d9e770"/>
<rect x="429.90" y="343.00" width="14.70" height="1.00" fill="#d9e770"/>
<rect x="429.90" y="344.00" width="15.95" height="1.00" fill="#ccdf6a"/>
<rect x="429.90" y="345.00" width="16.14" height="1.00" fill="#ccdf6a"/>
<rect x="429.90" y="346.00" width="14.14" height="1.00" fill="#d9e770"/>
<rect x="429.90" y="347.00" width="12.14" height="1.00" fill="#d9e770"/>
<rect x="429.90" y="348.00" width="12.59" height="1.00" fill="#d9e770"/>
<rect x="429.90" y="349.00" width="13.59" height="1.00" fill="#d9e770"/>
<rect x="429.90" y="350.00" width="14.59" height="1.00" fill="#d9e770"/>
<rect x="429.90" y="351.00" width="15.78" height="1.00" fill="#ccdf6a"/>
<rect x="429.90" y="352.00" width="20.78" height="1.00" fill="#bfd763"/>
<rect x="429.90" y="353.00" width="25.78" height="1.00" fill="#b2cf5c"/>
<rect x="429.90" y="354.00" width="30.78" height="1.00" fill="#a6c756"/>
<rect x="429.90" y="355.00" width="30.94" height="1.00" fill="#a6c756"/>
<rect x="429.90" y="356.00" width="29.76" height="1.00" fill="#a6c756"/>
<rect x="429.90" y="357.00" width="28.58" height="1.00" fill="#a6c756"/>
<rect x="429.90" y="358.00" width="27.41" height="1.00" fill="#b2cf5c"/>
<rect x="429.90" y="359.00" width="27.62" height="1.00" fill="#a6c756"/>
<rect x="429.90" y="360.00" width="29.13" height="1.00" fill="#a6c756"/>
<rect x="429.90" y="361.00" width="30.65" height="1.00" fill="#a6c756"/>
<rect x="429.90" y="362.00" width="32.16" height="1.00" fill="#99bf4f"/>
<rect x="429.90" y="363.00" width="33.68" height="1.00" fill="#99bf4f"/>
<rect x="429.90" y="364.00" width="35.19" height="1.00" fill="#99bf4f"/>
<rect x="429.90" y="365.00" width="36.71" height="1.00" fill="#8cb749"/>
<rect x="429.90" y="366.00" width="38.22" height="1.00" fill="#8cb749"/>
<rect x="429.90" y="367.00" width="37.91" height="1.00" fill="#8cb749"/>
<rect x="429.90" y="368.00" width="31.41" height="1.00" fill="#a6c756"/>
<rect x="429.90" y="369.00" width="24.91" height="1.00" fill="#b2cf5c"/>
<rect x="429.90" y="370.00" width="22.51" height="1.00" fill="#bfd763"/>
<rect x="429.90" y="371.00" width="21.73" height="1.00" fill="#bfd763"/>
<rect x="429.90" y="372.00" width="20.95" height="1.00" fill="#bfd763"/>
<rect x="429.90" y="373.00" width="20.17" height="1.00" fill="#bfd763"/>
<rect x="429.90" y="374.00" width="19.39" height="1.00" fill="#bfd763"/>
<rect x="429.90" y="375.00" width="18.60" height="1.00" fill="#ccdf6a"/>
<rect x="429.90" y="376.00" width="17.82" height="1.00" fill="#ccdf6a"/>
<rect x="429.90" y="377.00" width="17.04" height="1.00" fill="#ccdf6a"/>
<rect x="429.90" y="378.00" width="17.07" height="1.00" fill="#ccdf6a"/>
<rect x="429.90" y="379.00" width="17.47" height="1.00" fill="#ccdf6a"/>
<rect x="429.90" y="380.00" width="17.87" height="1.00" fill="#ccdf6a"/>
<rect x="429.90" y="381.00" width="18.27" height="1.00" fill="#ccdf6a"/>
<rect x="429.90" y="382.00" width="18.67" height="1.00" fill="#ccdf6a"/>
<rect x="429.90" y="383.00" width="19.07" height="1.00" fill="#ccdf6a"/>
<rect x="429.90" y="384.00" width="20.75" height="1.00" fill="#bfd763"/>
<rect x="429.90" y="385.00" width="24.32" height="1.00" fill="#b2cf5c"/>
<rect x="429.90" y="386.00" width="25.33" height="1.00" fill="#b2cf5c"/>
<rect x="429.90" y="387.00" width="24.95" height="1.00" fill="#b2cf5c"/>
<rect x="429.90" y="388.00" width="24.56" height="1.00" fill="#b2cf5c"/>
<rect x="429.90" y="389.00" width="24.90" height="1.00" fill="#b2cf5c"/>
<rect x="429.90" y="390.00" width="26.40" height="1.00" fill="#b2cf5c"/>
<rect x="429.90" y="391.00" width="27.90" height="1.00" fill="#a6c756"/>
<rect x="429.90" y="392.00" width="25.91" height="1.00" fill="#b2cf5c"/>
<rect x="429.90" y="393.00" width="23.41" height="1.00" fill="#b2cf5c"/>
<rect x="429.90" y="394.00" width="22.18" height="1.00" fill="#bfd763"/>
<rect x="429.90" y="395.00" width="23.18" height="1.00" fill="#bfd763"/>
<rect x="429.90" y="396.00" width="24.18" height="1.00" fill="#b2cf5c"/>
<rect x="429.90" y="397.00" width="25.18" height="1.00" fill="#b2cf5c"/>
<rect x="429.90" y="398.00" width="26.18" height="1.00" fill="#b2cf5c"/>
<rect x="429.90" y="399.00" width="26.84" height="1.00" fill="#b2cf5c"/>
<rect x="429.90" y="400.00" width="26.84" height="1.00" fill="#b2cf5c"/>
<rect x="429.90" y="401.00" width="26.84" height="1.00" fill="#b2cf5c"/>
<rect x="429.90" y="402.00" width="26.84" height="1.00" fill="#b2cf5c"/>
<rect x="429.90" y="403.00" width="26.84" height="1.00" fill="#b2cf5c"/>
<rect x="429.90" y="404.00" width="26.84" height="1.00" fill="#b2cf5c"/>
<rect x="429.90" y="405.00" width="28.77" height="1.00" fill="#a6c756"/>
<rect x="429.90" y="406.00" width="30.77" height="1.00" fill="#a6c756"/>
<rect x="429.90" y="407.00" width="32.77" height="1.00" fill="#99bf4f"/>
<rect x="429.90" y="408.00" width="33.85" height="1.00" fill="#99bf4f"/>
<rect x="429.90" y="409.00" width="31.24" height="1.00" fill="#a6c756"/>
<rect x="429.90" y="410.00" width="28.63" height="1.00" fill="#a6c756"/>
<rect x="429.90" y="411.00" width="26.02" height="1.00" fill="#b2cf5c"/>
<rect x="429.90" y="412.00" width="23.41" height="1.00" fill="#b2cf5c"/>
<rect x="429.90" y="413.00" width="20.80" height="1.00" fill="#bfd763"/>
<rect x="429.90" y="414.00" width="21.74" height="1.00" fill="#bfd763"/>
<rect x="429.90" y="415.00" width="27.45" height="1.00" fill="#b2cf5c"/>
<rect x="429.90" y="416.00" width="27.68" height="1.00" fill="#a6c756"/>
<rect x="429.90" y="417.00" width="25.18" height="1.00" fill="#b2cf5c"/>
<rect x="429.90" y="418.00" width="22.68" height="1.00" fill="#bfd763"/>
<rect x="429.90" y="419.00" width="20.18" height="1.00" fill="#bfd763"/>
<rect x="429.90" y="420.00" width="17.68" height="1.00" fill="#ccdf6a"/>
<rect x="429.90" y="421.00" width="15.18" height="1.00" fill="#ccdf6a"/>
<rect x="429.90" y="422.00" width="12.68" height="1.00" fill="#d9e770"/>
<rect x="429.90" y="423.00" width="10.76" height="1.00" fill="#d9e770"/>
<rect x="429.90" y="424.00" width="12.56" height="1.00" fill="#d9e770"/>
<rect x="429.90" y="425.00" width="14.36" height="1.00" fill="#d9e770"/>
<rect x="429.90" y="426.00" width="16.16" height="1.00" fill="#ccdf6a"/>
<rect x="429.90" y="427.00" width="17.96" height="1.00" fill="#ccdf6a"/>
<rect x="429.90" y="428.00" width="19.76" height="1.00" fill="#bfd763"/>
<rect x="429.90" y="429.00" width="21.56" height="1.00" fill="#bfd763"/>
<rect x="429.90" y="430.00" width="18.08" height="1.00" fill="#ccdf6a"/>
<rect x="429.90" y="431.00" width="13.73" height="1.00" fill="#d9e770"/>
<rect x="429.90" y="432.00" width="9.38" height="1.00" fill="#e6ef77"/>
<rect x="429.90" y="433.00" width="5.03" height="1.00" fill="#f2f77d"/>
<rect x="429.90" y="434.00" width="0.68" height="1.00" fill="#ffff84"/>
<rect x="429.90" y="435.00" width="6.21" height="1.00" fill="#f2f77d"/>
<rect x="429.90" y="436.00" width="13.68" height="1.00" fill="#d9e770"/>
<rect x="429.90" y="437.00" width="21.14" height="1.00" fill="#bfd763"/>
<rect x="429.90" y="438.00" width="28.12" height="1.00" fill="#a6c756"/>
<rect x="429.90" y="439.00" width="28.45" height="1.00" fill="#a6c756"/>
<rect x="429.90" y="440.00" width="28.78" height="1.00" fill="#a6c756"/>
<rect x="429.90" y="441.00" width="29.12" height="1.00" fill="#a6c756"/>
<rect x="429.90" y="442.00" width="29.45" height="1.00" fill="#a6c756"/>
<rect x="429.90" y="443.00" width="29.78" height="1.00" fill="#a6c756"/>
<rect x="429.90" y="444.00" width="30.12" height="1.00" fill="#a6c756"/>
<rect x="429.90" y="445.00" width="30.45" height="1.00" fill="#a6c756"/>
<rect x="429.90" y="446.00" width="28.87" height="1.00" fill="#a6c756"/>
<rect x="429.90" y="447.00" width="25.63" height="1.00" fill="#b2cf5c"/>
<rect x="429.90" y="448.00" width="22.40" height="1.00" fill="#bfd763"/>
<rect x="429.90" y="449.00" width="19.16" height="1.00" fill="#bfd763"/>
<rect x="429.90" y="450.00" width="18.33" height="1.00" fill="#ccdf6a"/>
<rect x="429.90" y="451.00" width="24.08" height="1.00" fill="#b2cf5c"/>
<rect x="429.90" y="452.00" width="29.83" height="1.00" fill="#a6c756"/>
<rect x="429.90" y="453.00" width="35.58" height="1.00" fill="#99bf4f"/>
<rect x="429.90" y="454.00" width="41.33" height="1.00" fill="#80af42"/>
<rect x="429.90" y="455.00" width="44.29" height="1.00" fill="#80af42"/>
<rect x="429.90" y="456.00" width="38.66" height="1.00" fill="#8cb749"/>
<rect x="429.90" y="457.00" width="33.04" height="1.00" fill="#99bf4f"/>
<rect x="429.90" y="458.00" width="27.41" height="1.00" fill="#b2cf5c"/>
<rect x="429.90" y="459.00" width="23.59" height="1.00" fill="#b2cf5c"/>
<rect x="429.90" y="460.00" width="25.86" height="1.00" fill="#b2cf5c"/>
<rect x="429.90" y="461.00" width="28.14" height="1.00" fill="#a6c756"/>
<rect x="429.90" y="462.00" width="30.41" height="1.00" fill="#a6c756"/>
<rect x="429.90" y="463.00" width="32.68" height="1.00" fill="#99bf4f"/>
<rect x="429.90" y="464.00" width="34.95" height="1.00" fill="#99bf4f"/>
<rect x="429.90" y="465.00" width="35.98" height="1.00" fill="#99bf4f"/>
<rect x="429.90" y="466.00" width="36.48" height="1.00" fill="#8cb749"/>
<rect x="429.90" y="467.00" width="36.98" height="1.00" fill="#8cb749"/>
<rect x="429.90" y="468.00" width="37.48" height="1.00" fill="#8cb749"/>
<rect x="429.90" y="469.00" width="37.98" height="1.00" fill="#8cb749"/>
<rect x="429.90" y="470.00" width="39.50" height="1.00" fill="#8cb749"/>
<rect x="429.90" y="471.00" width="41.50" height="1.00" fill="#80af42"/>
<rect x="429.90" y="472.00" width="43.50" height="1.00" fill="#80af42"/>
<rect x="429.90" y="473.00" width="45.50" height="1.00" fill="#73a73b"/>
<rect x="429.90" y="474.00" width="47.50" height="1.00" fill="#73a73b"/>
<rect x="429.90" y="475.00" width="49.50" height="1.00" fill="#669f35"/>
<rect x="429.90" y="476.00" width="50.07" height="1.00" fill="#669f35"/>
<rect x="429.90" y="477.00" width="48.53" height="1.00" fill="#73a73b"/>
<rect x="429.90" y="478.00" width="46.99" height="1.00" fill="#73a73b"/>
<rect x="429.90" y="479.00" width="45.84" height="1.00" fill="#73a73b"/>
<rect x="429.90" y="480.00" width="47.01" height="1.00" fill="#73a73b"/>
<rect x="429.90" y="481.00" width="48.19" height="1.00" fill="#73a73b"/>
<rect x="429.90" y="482.00" width="49.36" height="1.00" fill="#669f35"/>
<rect x="429.90" y="483.00" width="50.54" height="1.00" fill="#669f35"/>
<rect x="429.90" y="484.00" width="48.07" height="1.00" fill="#73a73b"/>
<rect x="429.90" y="485.00" width="45.07" height="1.00" fill="#73a73b"/>
<rect x="429.90" y="486.00" width="42.07" height="1.00" fill="#80af42"/>
<rect x="429.90" y="487.00" width="39.07" height="1.00" fill="#8cb749"/>
<rect x="429.90" y="488.00" width="36.07" height="1.00" fill="#8cb749"/>
<rect x="429.90" y="489.00" width="32.03" height="1.00" fill="#99bf4f"/>
<rect x="429.90" y="490.00" width="27.80" height="1.00" fill="#a6c756"/>
<rect x="429.90" y="491.00" width="23.57" height="1.00" fill="#b2cf5c"/>
<rect x="429.90" y="492.00" width="22.28" height="1.00" fill="#bfd763"/>
<rect x="429.90" y="493.00" width="23.07" height="1.00" fill="#bfd763"/>
<rect x="429.90" y="494.00" width="23.86" height="1.00" fill="#b2cf5c"/>
<rect x="429.90" y="495.00" width="24.65" height="1.00" fill="#b2cf5c"/>
</g>
<polyline points="510.7,129.5 508.2,135.0 512.0,137.6 490.6,141.3 503.2,144.6 496.9,148.9 513.2,156.4 507.0,157.6 514.4,162.7 510.7,166.4 513.2,171.5 514.4,175.2 508.2,182.8 485.6,186.5 463.0,189.8 486.9,192.3 430.4,197.3 429.9,217.9 431.6,218.8 445.4,223.0 447.9,226.3 442.9,228.8 454.2,235.6 449.2,238.1 455.5,242.6 453.0,245.1 460.5,248.9 454.2,252.7 455.5,256.4 463.0,260.2 453.0,264.0 450.5,269.0 445.4,272.2 485.6,274.8 508.2,279.0 470.5,282.3 495.7,284.1 514.4,287.8 429.9,292.3 444.2,296.6 439.2,301.6 441.7,309.2 441.7,310.0 430.4,315.0 439.2,317.6 434.1,321.3 440.4,325.1 430.4,331.4 447.9,336.4 440.4,340.2 446.7,345.2 441.7,347.7 445.4,351.5 461.8,354.7 456.7,359.0 469.3,367.3 453.0,369.8 446.7,377.8 449.2,384.1 455.5,385.9 454.2,389.1 458.0,391.6 451.7,394.1 456.7,399.2 456.7,404.5 464.3,408.3 449.2,414.1 459.2,415.8 440.4,423.4 451.7,429.6 429.9,434.7 458.0,438.4 460.5,446.0 446.7,450.2 475.6,455.3 453.0,459.3 465.5,464.8 468.0,469.8 480.6,476.1 475.6,479.4 480.6,483.6 465.5,488.6 451.7,491.9 455.5,496.7" fill="none" stroke="#000" stroke-width="1.2" stroke-linejoin="round"/>
<g shape-rendering="crispEdges">
<rect x="280.19" y="128.00" width="46.25" height="1.00" fill="#00c000"/>
<rect x="280.23" y="129.00" width="46.23" height="1.00" fill="#00c000"/>
<rect x="280.76" y="130.00" width="45.96" height="1.00" fill="#00c000"/>
<rect x="281.30" y="131.00" width="45.69" height="1.00" fill="#00c000"/>
<rect x="281.83" y="132.00" width="45.41" height="1.00" fill="#00c000"/>
<rect x="282.37" y="133.00" width="45.14" height="1.00" fill="#00c000"/>
<rect x="282.91" y="134.00" width="44.87" height="1.00" fill="#00c000"/>
<rect x="283.16" y="135.00" width="44.88" height="1.00" fill="#00c000"/>
<rect x="283.06" y="136.00" width="45.24" height="1.00" fill="#00c000"/>
<rect x="282.96" y="137.00" width="44.02" height="1.00" fill="#00c000"/>
<rect x="282.86" y="138.00" width="40.72" height="1.00" fill="#00c000"/>
<rect x="282.76" y="139.00" width="37.42" height="1.00" fill="#00c000"/>
<rect x="282.66" y="140.00" width="34.12" height="1.00" fill="#00c000"/>
<rect x="282.78" y="141.00" width="30.60" height="1.00" fill="#00c000"/>
<rect x="283.21" y="142.00" width="29.77" height="1.00" fill="#00c000"/>
<rect x="283.64" y="143.00" width="33.34" height="1.00" fill="#00c000"/>
<rect x="284.08" y="144.00" width="36.91" height="1.00" fill="#00c000"/>
<rect x="284.51" y="145.00" width="38.83" height="1.00" fill="#00c000"/>
<rect x="284.94" y="146.00" width="38.20" height="1.00" fill="#00c000"/>
<rect x="285.26" y="147.00" width="37.68" height="1.00" fill="#00c000"/>
<rect x="285.39" y="148.00" width="37.36" height="1.00" fill="#00c000"/>
<rect x="285.51" y="149.00" width="37.03" height="1.00" fill="#00c000"/>
<rect x="285.64" y="150.00" width="37.45" height="1.00" fill="#00c000"/>
<rect x="285.76" y="151.00" width="39.15" height="1.00" fill="#00c000"/>
<rect x="285.89" y="152.00" width="40.86" height="1.00" fill="#00c000"/>
<rect x="286.01" y="153.00" width="42.57" height="1.00" fill="#00c000"/>
<rect x="286.14" y="154.00" width="44.28" height="1.00" fill="#00c000"/>
<rect x="286.19" y="155.00" width="46.06" height="1.00" fill="#00c000"/>
<rect x="286.09" y="156.00" width="46.81" height="1.00" fill="#00c000"/>
<rect x="285.99" y="157.00" width="45.16" height="1.00" fill="#00c000"/>
<rect x="285.89" y="158.00" width="43.51" height="1.00" fill="#00c000"/>
<rect x="285.79" y="159.00" width="41.86" height="1.00" fill="#00c000"/>
<rect x="285.69" y="160.00" width="41.45" height="1.00" fill="#00c000"/>
<rect x="285.59" y="161.00" width="43.80" height="1.00" fill="#00c000"/>
<rect x="285.49" y="162.00" width="46.15" height="1.00" fill="#00c000"/>
<rect x="285.39" y="163.00" width="48.50" height="1.00" fill="#00c000"/>
<rect x="285.29" y="164.00" width="49.81" height="1.00" fill="#00c000"/>
<rect x="284.99" y="165.00" width="48.74" height="1.00" fill="#00c000"/>
<rect x="284.19" y="166.00" width="48.18" height="1.00" fill="#00c000"/>
<rect x="283.39" y="167.00" width="47.62" height="1.00" fill="#00c000"/>
<rect x="282.59" y="168.00" width="47.05" height="1.00" fill="#00c000"/>
<rect x="281.79" y="169.00" width="46.49" height="1.00" fill="#00c000"/>
<rect x="280.74" y="170.00" width="46.18" height="1.00" fill="#00c000"/>
<rect x="278.94" y="171.00" width="48.64" height="1.00" fill="#00c000"/>
<rect x="277.14" y="172.00" width="52.20" height="1.00" fill="#00c000"/>
<rect x="275.34" y="173.00" width="55.76" height="1.00" fill="#00c000"/>
<rect x="273.54" y="174.00" width="59.31" height="1.00" fill="#00c000"/>
<rect x="271.64" y="175.00" width="62.97" height="1.00" fill="#00c000"/>
<rect x="269.42" y="176.00" width="66.95" height="1.00" fill="#00c000"/>
<rect x="267.20" y="177.00" width="70.92" height="1.00" fill="#00c000"/>
<rect x="264.97" y="178.00" width="74.48" height="1.00" fill="#00c000"/>
<rect x="265.52" y="179.00" width="73.68" height="1.00" fill="#00c000"/>
<rect x="267.88" y="180.00" width="71.08" height="1.00" fill="#00c000"/>
<rect x="270.23" y="181.00" width="68.48" height="1.00" fill="#00c000"/>
<rect x="274.02" y="182.00" width="63.49" height="1.00" fill="#00c000"/>
<rect x="284.02" y="183.00" width="48.16" height="1.00" fill="#00c000"/>
<rect x="293.04" y="184.00" width="33.80" height="1.00" fill="#00c000"/>
<rect x="300.58" y="185.00" width="21.21" height="1.00" fill="#00c000"/>
<rect x="302.25" y="186.00" width="15.91" height="1.00" fill="#00c000"/>
<rect x="303.91" y="187.00" width="10.61" height="1.00" fill="#00c000"/>
<rect x="301.48" y="188.00" width="9.41" height="1.00" fill="#00c000"/>
<rect x="297.73" y="189.00" width="9.52" height="1.00" fill="#00c000"/>
<rect x="293.98" y="190.00" width="16.37" height="1.00" fill="#00c000"/>
<rect x="292.89" y="191.00" width="22.85" height="1.00" fill="#00c000"/>
<rect x="294.06" y="192.00" width="25.81" height="1.00" fill="#00c000"/>
<rect x="295.24" y="193.00" width="20.63" height="1.00" fill="#00c000"/>
<rect x="297.75" y="194.00" width="13.57" height="1.00" fill="#00c000"/>
<rect x="302.75" y="195.00" width="7.14" height="1.00" fill="#ffff00"/>
<rect x="292.56" y="196.00" width="21.06" height="1.00" fill="#ffff00"/>
<rect x="287.04" y="197.00" width="26.94" height="1.00" fill="#ffff00"/>
<rect x="286.69" y="198.00" width="27.65" height="1.00" fill="#ffff00"/>
<rect x="286.33" y="199.00" width="28.36" height="1.00" fill="#ffff00"/>
<rect x="285.97" y="200.00" width="29.08" height="1.00" fill="#ffff00"/>
<rect x="285.62" y="201.00" width="29.77" height="1.00" fill="#ffff00"/>
<rect x="285.26" y="202.00" width="30.24" height="1.00" fill="#ffff00"/>
<rect x="284.90" y="203.00" width="30.71" height="1.00" fill="#ffff00"/>
<rect x="284.54" y="204.00" width="31.18" height="1.00" fill="#ffff00"/>
<rect x="284.23" y="205.00" width="31.60" height="1.00" fill="#ffff00"/>
<rect x="284.63" y="206.00" width="31.31" height="1.00" fill="#ffff00"/>
<rect x="285.03" y="207.00" width="31.02" height="1.00" fill="#ffff00"/>
<rect x="285.43" y="208.00" width="30.73" height="1.00" fill="#ffff00"/>
<rect x="285.83" y="209.00" width="30.44" height="1.00" fill="#ffff00"/>
<rect x="286.26" y="210.00" width="30.10" height="1.00" fill="#ffff00"/>
<rect x="287.37" y="211.00" width="28.33" height="1.00" fill="#ffff00"/>
<rect x="288.47" y="212.00" width="26.56" height="1.00" fill="#ffff00"/>
<rect x="289.58" y="213.00" width="24.78" height="1.00" fill="#ffff00"/>
<rect x="290.69" y="214.00" width="23.01" height="1.00" fill="#ffff00"/>
<rect x="292.41" y="215.00" width="20.65" height="1.00" fill="#ffff00"/>
<rect x="294.75" y="216.00" width="17.72" height="1.00" fill="#ffff00"/>
<rect x="297.08" y="217.00" width="14.79" height="1.00" fill="#ffff00"/>
<rect x="299.06" y="218.00" width="12.21" height="1.00" fill="#ffff00"/>
<rect x="300.66" y="219.00" width="10.01" height="1.00" fill="#ffff00"/>
<rect x="302.26" y="220.00" width="7.69" height="1.00" fill="#ffff00"/>
<rect x="303.86" y="221.00" width="5.23" height="1.00" fill="#ffff00"/>
<rect x="305.46" y="222.00" width="2.77" height="1.00" fill="#ffff00"/>
<rect x="305.87" y="223.00" width="1.50" height="1.00" fill="#ffff00"/>
<rect x="304.87" y="224.00" width="1.64" height="1.00" fill="#ffff00"/>
<rect x="303.87" y="225.00" width="1.79" height="1.00" fill="#ffff00"/>
<rect x="302.87" y="226.00" width="1.93" height="1.00" fill="#ffff00"/>
<rect x="301.87" y="227.00" width="2.01" height="1.00" fill="#ffff00"/>
<rect x="300.87" y="228.00" width="2.01" height="1.00" fill="#ffff00"/>
<rect x="299.22" y="229.00" width="2.66" height="1.00" fill="#ffff00"/>
<rect x="296.69" y="230.00" width="4.19" height="1.00" fill="#ffff00"/>
<rect x="294.16" y="231.00" width="5.73" height="1.00" fill="#ffff00"/>
<rect x="293.03" y="232.00" width="5.85" height="1.00" fill="#ffff00"/>
<rect x="293.97" y="233.00" width="3.92" height="1.00" fill="#ffff00"/>
<rect x="294.90" y="234.00" width="1.98" height="1.00" fill="#ffff00"/>
<rect x="295.83" y="235.00" width="0.83" height="1.00" fill="#ffff00"/>
<rect x="296.77" y="236.00" width="0.90" height="1.00" fill="#ffff00"/>
<rect x="297.70" y="237.00" width="0.96" height="1.00" fill="#ffff00"/>
<rect x="300.66" y="239.00" width="1.28" height="1.00" fill="#00c000"/>
<rect x="302.03" y="240.00" width="2.59" height="1.00" fill="#00c000"/>
<rect x="304.03" y="241.00" width="2.59" height="1.00" fill="#00c000"/>
<rect x="305.18" y="242.00" width="2.23" height="1.00" fill="#00c000"/>
<rect x="304.78" y="243.00" width="3.43" height="1.00" fill="#00c000"/>
<rect x="304.38" y="244.00" width="4.63" height="1.00" fill="#00c000"/>
<rect x="303.98" y="245.00" width="5.83" height="1.00" fill="#00c000"/>
<rect x="303.58" y="246.00" width="6.44" height="1.00" fill="#00c000"/>
<rect x="303.12" y="247.00" width="5.90" height="1.00" fill="#00c000"/>
<rect x="302.52" y="248.00" width="5.50" height="1.00" fill="#00c000"/>
<rect x="301.92" y="249.00" width="5.10" height="1.00" fill="#00c000"/>
<rect x="301.32" y="250.00" width="4.70" height="1.00" fill="#00c000"/>
<rect x="300.72" y="251.00" width="4.53" height="1.00" fill="#00c000"/>
<rect x="300.37" y="252.00" width="4.63" height="1.00" fill="#00c000"/>
<rect x="300.62" y="253.00" width="4.13" height="1.00" fill="#00c000"/>
<rect x="300.87" y="254.00" width="3.63" height="1.00" fill="#00c000"/>
<rect x="301.12" y="255.00" width="3.57" height="1.00" fill="#00c000"/>
<rect x="301.12" y="256.00" width="4.90" height="1.00" fill="#00c000"/>
<rect x="300.47" y="257.00" width="6.89" height="1.00" fill="#00c000"/>
<rect x="299.82" y="258.00" width="8.25" height="1.00" fill="#00c000"/>
<rect x="299.17" y="259.00" width="7.90" height="1.00" fill="#00c000"/>
<rect x="298.79" y="260.00" width="7.29" height="1.00" fill="#00c000"/>
<rect x="299.19" y="261.00" width="5.89" height="1.00" fill="#00c000"/>
<rect x="299.59" y="262.00" width="4.49" height="1.00" fill="#00c000"/>
<rect x="299.99" y="263.00" width="3.44" height="1.00" fill="#00c000"/>
<rect x="300.64" y="264.00" width="3.29" height="1.00" fill="#00c000"/>
<rect x="302.14" y="265.00" width="2.29" height="1.00" fill="#00c000"/>
<rect x="303.64" y="266.00" width="1.29" height="1.00" fill="#00c000"/>
<rect x="305.72" y="269.00" width="0.71" height="1.00" fill="#00c000"/>
<rect x="305.22" y="270.00" width="1.71" height="1.00" fill="#00c000"/>
<rect x="304.72" y="271.00" width="2.71" height="1.00" fill="#00c000"/>
<rect x="303.69" y="272.00" width="4.24" height="1.00" fill="#00c000"/>
<rect x="300.36" y="273.00" width="9.16" height="1.00" fill="#00c000"/>
<rect x="297.03" y="274.00" width="19.00" height="1.00" fill="#00c000"/>
<rect x="293.85" y="275.00" width="28.67" height="1.00" fill="#00c000"/>
<rect x="291.45" y="276.00" width="37.57" height="1.00" fill="#00c000"/>
<rect x="289.05" y="277.00" width="44.73" height="1.00" fill="#00c000"/>
<rect x="286.65" y="278.00" width="42.73" height="1.00" fill="#00c000"/>
<rect x="284.25" y="279.00" width="40.73" height="1.00" fill="#00c000"/>
<rect x="283.06" y="280.00" width="37.52" height="1.00" fill="#00c000"/>
<rect x="289.06" y="281.00" width="27.12" height="1.00" fill="#00c000"/>
<rect x="293.69" y="282.00" width="18.93" height="1.00" fill="#00c000"/>
<rect x="289.34" y="283.00" width="25.17" height="1.00" fill="#00c000"/>
<rect x="284.99" y="284.00" width="31.41" height="1.00" fill="#00c000"/>
<rect x="280.64" y="285.00" width="37.64" height="1.00" fill="#00c000"/>
<rect x="276.30" y="286.00" width="43.88" height="1.00" fill="#00c000"/>
<rect x="278.50" y="287.00" width="43.57" height="1.00" fill="#00c000"/>
<rect x="286.62" y="288.00" width="37.35" height="1.00" fill="#00c000"/>
<rect x="290.62" y="289.00" width="35.24" height="1.00" fill="#00c000"/>
<rect x="294.62" y="290.00" width="26.50" height="1.00" fill="#00c000"/>
<rect x="298.62" y="291.00" width="14.81" height="1.00" fill="#00c000"/>
<rect x="302.32" y="292.00" width="2.92" height="1.00" fill="#00c000"/>
<rect x="292.34" y="293.00" width="10.18" height="1.00" fill="#ffff00"/>
<rect x="293.59" y="294.00" width="9.13" height="1.00" fill="#ffff00"/>
<rect x="294.84" y="295.00" width="8.08" height="1.00" fill="#ffff00"/>
<rect x="296.09" y="296.00" width="7.03" height="1.00" fill="#ffff00"/>
<rect x="297.27" y="297.00" width="6.06" height="1.00" fill="#ffff00"/>
<rect x="297.10" y="298.00" width="6.56" height="1.00" fill="#ffff00"/>
<rect x="296.94" y="299.00" width="7.06" height="1.00" fill="#ffff00"/>
<rect x="296.77" y="300.00" width="7.56" height="1.00" fill="#ffff00"/>
<rect x="296.60" y="301.00" width="8.06" height="1.00" fill="#ffff00"/>
<rect x="296.44" y="302.00" width="8.56" height="1.00" fill="#ffff00"/>
<rect x="296.31" y="303.00" width="9.01" height="1.00" fill="#ffff00"/>
<rect x="298.30" y="304.00" width="7.03" height="1.00" fill="#ffff00"/>
<rect x="299.23" y="305.00" width="6.18" height="1.00" fill="#ffff00"/>
<rect x="299.10" y="306.00" width="6.47" height="1.00" fill="#ffff00"/>
<rect x="298.98" y="307.00" width="6.76" height="1.00" fill="#ffff00"/>
<rect x="298.85" y="308.00" width="7.05" height="1.00" fill="#ffff00"/>
<rect x="298.73" y="309.00" width="7.35" height="1.00" fill="#ffff00"/>
<rect x="298.60" y="310.00" width="7.64" height="1.00" fill="#ffff00"/>
<rect x="298.48" y="311.00" width="8.32" height="1.00" fill="#ffff00"/>
<rect x="298.35" y="312.00" width="9.44" height="1.00" fill="#ffff00"/>
<rect x="297.13" y="313.00" width="11.67" height="1.00" fill="#ffff00"/>
<rect x="294.60" y="314.00" width="15.20" height="1.00" fill="#ffff00"/>
<rect x="292.06" y="315.00" width="17.62" height="1.00" fill="#ffff00"/>
<rect x="290.81" y="316.00" width="17.38" height="1.00" fill="#ffff00"/>
<rect x="291.18" y="317.00" width="15.51" height="1.00" fill="#ffff00"/>
<rect x="291.55" y="318.00" width="13.63" height="1.00" fill="#ffff00"/>
<rect x="291.92" y="319.00" width="12.40" height="1.00" fill="#ffff00"/>
<rect x="292.29" y="320.00" width="12.03" height="1.00" fill="#ffff00"/>
<rect x="292.66" y="321.00" width="11.65" height="1.00" fill="#ffff00"/>
<rect x="293.04" y="322.00" width="11.28" height="1.00" fill="#ffff00"/>
<rect x="293.06" y="323.00" width="11.26" height="1.00" fill="#ffff00"/>
<rect x="292.56" y="324.00" width="11.76" height="1.00" fill="#ffff00"/>
<rect x="292.06" y="325.00" width="12.39" height="1.00" fill="#ffff00"/>
<rect x="291.56" y="326.00" width="13.22" height="1.00" fill="#ffff00"/>
<rect x="291.06" y="327.00" width="14.06" height="1.00" fill="#ffff00"/>
<rect x="290.56" y="328.00" width="14.89" height="1.00" fill="#ffff00"/>
<rect x="290.06" y="329.00" width="15.72" height="1.00" fill="#ffff00"/>
<rect x="289.56" y="330.00" width="16.56" height="1.00" fill="#ffff00"/>
<rect x="289.73" y="331.00" width="16.36" height="1.00" fill="#ffff00"/>
<rect x="291.12" y="332.00" width="14.30" height="1.00" fill="#ffff00"/>
<rect x="292.51" y="333.00" width="12.25" height="1.00" fill="#ffff00"/>
<rect x="293.90" y="334.00" width="10.19" height="1.00" fill="#ffff00"/>
<rect x="300.72" y="335.00" width="2.71" height="1.00" fill="#ffff00"/>
<rect x="299.87" y="336.00" width="2.89" height="1.00" fill="#ffff00"/>
<rect x="298.33" y="337.00" width="4.03" height="1.00" fill="#ffff00"/>
<rect x="296.80" y="338.00" width="5.73" height="1.00" fill="#ffff00"/>
<rect x="295.26" y="339.00" width="7.43" height="1.00" fill="#ffff00"/>
<rect x="293.73" y="340.00" width="9.14" height="1.00" fill="#ffff00"/>
<rect x="293.00" y="341.00" width="10.03" height="1.00" fill="#ffff00"/>
<rect x="294.15" y="342.00" width="9.04" height="1.00" fill="#ffff00"/>
<rect x="295.30" y="343.00" width="7.89" height="1.00" fill="#ffff00"/>
<rect x="296.45" y="344.00" width="6.34" height="1.00" fill="#ffff00"/>
<rect x="297.28" y="345.00" width="5.12" height="1.00" fill="#ffff00"/>
<rect x="297.28" y="346.00" width="4.72" height="1.00" fill="#ffff00"/>
<rect x="297.28" y="347.00" width="4.32" height="1.00" fill="#ffff00"/>
<rect x="297.28" y="348.00" width="4.42" height="1.00" fill="#ffff00"/>
<rect x="297.28" y="349.00" width="5.95" height="1.00" fill="#ffff00"/>
<rect x="300.24" y="350.00" width="4.50" height="1.00" fill="#ffff00"/>
<rect x="303.71" y="351.00" width="2.56" height="1.00" fill="#ffff00"/>
<rect x="306.81" y="352.00" width="0.98" height="1.00" fill="#ffff00"/>
<rect x="307.02" y="353.00" width="1.79" height="1.00" fill="#00c000"/>
<rect x="304.97" y="354.00" width="5.27" height="1.00" fill="#00c000"/>
<rect x="302.91" y="355.00" width="6.83" height="1.00" fill="#00c000"/>
<rect x="301.41" y="356.00" width="7.82" height="1.00" fill="#00c000"/>
<rect x="301.91" y="357.00" width="6.82" height="1.00" fill="#00c000"/>
<rect x="302.41" y="358.00" width="5.82" height="1.00" fill="#00c000"/>
<rect x="302.91" y="359.00" width="4.82" height="1.00" fill="#00c000"/>
<rect x="303.44" y="360.00" width="4.01" height="1.00" fill="#00c000"/>
<rect x="304.11" y="361.00" width="3.94" height="1.00" fill="#00c000"/>
<rect x="304.78" y="362.00" width="3.88" height="1.00" fill="#00c000"/>
<rect x="305.10" y="363.00" width="4.16" height="1.00" fill="#00c000"/>
<rect x="303.85" y="364.00" width="6.01" height="1.00" fill="#00c000"/>
<rect x="302.60" y="365.00" width="8.11" height="1.00" fill="#00c000"/>
<rect x="301.35" y="366.00" width="11.44" height="1.00" fill="#00c000"/>
<rect x="300.42" y="367.00" width="14.45" height="1.00" fill="#00c000"/>
<rect x="301.22" y="368.00" width="9.89" height="1.00" fill="#00c000"/>
<rect x="302.02" y="369.00" width="4.28" height="1.00" fill="#00c000"/>
<rect x="302.82" y="370.00" width="3.31" height="1.00" fill="#00c000"/>
<rect x="303.62" y="371.00" width="2.35" height="1.00" fill="#00c000"/>
<rect x="304.28" y="372.00" width="1.52" height="1.00" fill="#00c000"/>
<rect x="304.03" y="373.00" width="1.60" height="1.00" fill="#00c000"/>
<rect x="303.78" y="374.00" width="1.69" height="1.00" fill="#00c000"/>
<rect x="303.53" y="375.00" width="1.81" height="1.00" fill="#00c000"/>
<rect x="303.45" y="376.00" width="2.10" height="1.00" fill="#00c000"/>
<rect x="304.70" y="377.00" width="1.05" height="1.00" fill="#00c000"/>
<rect x="306.15" y="379.00" width="1.05" height="1.00" fill="#ffff00"/>
<rect x="306.35" y="380.00" width="1.81" height="1.00" fill="#ffff00"/>
<rect x="306.16" y="381.00" width="0.44" height="1.00" fill="#00c000"/>
<rect x="304.24" y="382.00" width="2.61" height="1.00" fill="#00c000"/>
<rect x="303.24" y="383.00" width="3.86" height="1.00" fill="#00c000"/>
<rect x="302.24" y="384.00" width="5.07" height="1.00" fill="#00c000"/>
<rect x="301.36" y="385.00" width="5.54" height="1.00" fill="#00c000"/>
<rect x="302.36" y="386.00" width="4.14" height="1.00" fill="#00c000"/>
<rect x="303.36" y="387.00" width="2.74" height="1.00" fill="#00c000"/>
<rect x="304.36" y="388.00" width="1.34" height="1.00" fill="#00c000"/>
<rect x="304.70" y="390.00" width="0.83" height="1.00" fill="#00c000"/>
<rect x="304.10" y="391.00" width="1.63" height="1.00" fill="#00c000"/>
<rect x="303.50" y="392.00" width="2.43" height="1.00" fill="#00c000"/>
<rect x="302.90" y="393.00" width="3.23" height="1.00" fill="#00c000"/>
<rect x="302.31" y="394.00" width="4.02" height="1.00" fill="#00c000"/>
<rect x="302.60" y="395.00" width="4.02" height="1.00" fill="#00c000"/>
<rect x="302.88" y="396.00" width="4.02" height="1.00" fill="#00c000"/>
<rect x="303.17" y="397.00" width="4.02" height="1.00" fill="#00c000"/>
<rect x="303.61" y="398.00" width="4.22" height="1.00" fill="#00c000"/>
<rect x="304.21" y="399.00" width="4.62" height="1.00" fill="#00c000"/>
<rect x="304.81" y="400.00" width="5.02" height="1.00" fill="#00c000"/>
<rect x="305.41" y="401.00" width="4.85" height="1.00" fill="#00c000"/>
<rect x="306.01" y="402.00" width="4.05" height="1.00" fill="#00c000"/>
<rect x="305.96" y="403.00" width="3.90" height="1.00" fill="#00c000"/>
<rect x="305.16" y="404.00" width="4.50" height="1.00" fill="#00c000"/>
<rect x="304.36" y="405.00" width="5.10" height="1.00" fill="#00c000"/>
<rect x="303.56" y="406.00" width="6.24" height="1.00" fill="#00c000"/>
<rect x="302.76" y="407.00" width="8.04" height="1.00" fill="#00c000"/>
<rect x="302.75" y="408.00" width="9.05" height="1.00" fill="#00c000"/>
<rect x="303.75" y="409.00" width="9.05" height="1.00" fill="#00c000"/>
<rect x="304.75" y="410.00" width="9.05" height="1.00" fill="#00c000"/>
<rect x="305.75" y="411.00" width="8.06" height="1.00" fill="#00c000"/>
<rect x="306.25" y="412.00" width="6.23" height="1.00" fill="#00c000"/>
<rect x="306.05" y="413.00" width="5.10" height="1.00" fill="#00c000"/>
<rect x="305.85" y="414.00" width="3.96" height="1.00" fill="#00c000"/>
<rect x="305.65" y="415.00" width="2.83" height="1.00" fill="#00c000"/>
<rect x="305.45" y="416.00" width="1.70" height="1.00" fill="#00c000"/>
<rect x="305.32" y="417.00" width="1.01" height="1.00" fill="#00c000"/>
<rect x="305.32" y="418.00" width="1.01" height="1.00" fill="#00c000"/>
<rect x="305.32" y="419.00" width="1.01" height="1.00" fill="#00c000"/>
<rect x="305.32" y="420.00" width="1.01" height="1.00" fill="#00c000"/>
<rect x="302.34" y="422.00" width="2.53" height="1.00" fill="#ffff00"/>
<rect x="299.42" y="423.00" width="5.11" height="1.00" fill="#ffff00"/>
<rect x="301.86" y="424.00" width="2.60" height="1.00" fill="#ffff00"/>
<rect x="305.26" y="426.00" width="1.24" height="1.00" fill="#00c000"/>
<rect x="305.66" y="427.00" width="1.34" height="1.00" fill="#00c000"/>
<rect x="306.06" y="428.00" width="1.44" height="1.00" fill="#00c000"/>
<rect x="306.39" y="429.00" width="1.61" height="1.00" fill="#00c000"/>
<rect x="306.59" y="430.00" width="0.53" height="1.00" fill="#00c000"/>
<rect x="303.33" y="431.00" width="3.47" height="1.00" fill="#ffff00"/>
<rect x="299.53" y="432.00" width="7.47" height="1.00" fill="#ffff00"/>
<rect x="295.73" y="433.00" width="11.47" height="1.00" fill="#ffff00"/>
<rect x="291.93" y="434.00" width="15.11" height="1.00" fill="#ffff00"/>
<rect x="290.69" y="435.00" width="15.34" height="1.00" fill="#ffff00"/>
<rect x="295.69" y="436.00" width="9.34" height="1.00" fill="#ffff00"/>
<rect x="300.69" y="437.00" width="3.34" height="1.00" fill="#ffff00"/>
<rect x="303.48" y="438.00" width="1.67" height="1.00" fill="#00c000"/>
<rect x="304.08" y="439.00" width="4.07" height="1.00" fill="#00c000"/>
<rect x="304.68" y="440.00" width="5.98" height="1.00" fill="#00c000"/>
<rect x="305.28" y="441.00" width="6.55" height="1.00" fill="#00c000"/>
<rect x="305.88" y="442.00" width="7.11" height="1.00" fill="#00c000"/>
<rect x="306.41" y="443.00" width="7.75" height="1.00" fill="#00c000"/>
<rect x="306.74" y="444.00" width="8.58" height="1.00" fill="#00c000"/>
<rect x="307.08" y="445.00" width="9.41" height="1.00" fill="#00c000"/>
<rect x="307.41" y="446.00" width="9.50" height="1.00" fill="#00c000"/>
<rect x="307.74" y="447.00" width="7.11" height="1.00" fill="#00c000"/>
<rect x="308.08" y="448.00" width="4.72" height="1.00" fill="#00c000"/>
<rect x="308.02" y="449.00" width="2.72" height="1.00" fill="#00c000"/>
<rect x="306.52" y="450.00" width="5.07" height="1.00" fill="#00c000"/>
<rect x="305.02" y="451.00" width="8.09" height="1.00" fill="#00c000"/>
<rect x="303.52" y="452.00" width="11.11" height="1.00" fill="#00c000"/>
<rect x="302.02" y="453.00" width="14.13" height="1.00" fill="#00c000"/>
<rect x="300.52" y="454.00" width="16.65" height="1.00" fill="#00c000"/>
<rect x="299.61" y="455.00" width="16.40" height="1.00" fill="#00c000"/>
<rect x="301.36" y="456.00" width="13.48" height="1.00" fill="#00c000"/>
<rect x="303.11" y="457.00" width="10.56" height="1.00" fill="#00c000"/>
<rect x="304.86" y="458.00" width="7.65" height="1.00" fill="#00c000"/>
<rect x="306.28" y="459.00" width="5.06" height="1.00" fill="#00c000"/>
<rect x="305.94" y="460.00" width="4.56" height="1.00" fill="#00c000"/>
<rect x="305.61" y="461.00" width="5.90" height="1.00" fill="#00c000"/>
<rect x="305.28" y="462.00" width="7.23" height="1.00" fill="#00c000"/>
<rect x="304.94" y="463.00" width="8.56" height="1.00" fill="#00c000"/>
<rect x="304.61" y="464.00" width="9.90" height="1.00" fill="#00c000"/>
<rect x="304.23" y="465.00" width="11.27" height="1.00" fill="#00c000"/>
<rect x="303.57" y="466.00" width="12.94" height="1.00" fill="#00c000"/>
<rect x="302.90" y="467.00" width="14.61" height="1.00" fill="#00c000"/>
<rect x="302.23" y="468.00" width="16.13" height="1.00" fill="#00c000"/>
<rect x="301.57" y="469.00" width="16.55" height="1.00" fill="#00c000"/>
<rect x="300.90" y="470.00" width="16.97" height="1.00" fill="#00c000"/>
<rect x="300.11" y="471.00" width="17.51" height="1.00" fill="#00c000"/>
<rect x="298.11" y="472.00" width="19.26" height="1.00" fill="#00c000"/>
<rect x="296.11" y="473.00" width="21.01" height="1.00" fill="#00c000"/>
<rect x="294.11" y="474.00" width="22.76" height="1.00" fill="#00c000"/>
<rect x="292.32" y="475.00" width="24.29" height="1.00" fill="#00c000"/>
<rect x="293.32" y="476.00" width="23.12" height="1.00" fill="#00c000"/>
<rect x="294.32" y="477.00" width="22.99" height="1.00" fill="#00c000"/>
<rect x="295.32" y="478.00" width="22.87" height="1.00" fill="#00c000"/>
<rect x="296.30" y="479.00" width="22.77" height="1.00" fill="#00c000"/>
<rect x="296.80" y="480.00" width="23.14" height="1.00" fill="#00c000"/>
<rect x="297.30" y="481.00" width="23.52" height="1.00" fill="#00c000"/>
<rect x="297.80" y="482.00" width="23.89" height="1.00" fill="#00c000"/>
<rect x="298.33" y="483.00" width="24.23" height="1.00" fill="#00c000"/>
<rect x="300.08" y="484.00" width="23.32" height="1.00" fill="#00c000"/>
<rect x="301.83" y="485.00" width="20.82" height="1.00" fill="#00c000"/>
<rect x="303.58" y="486.00" width="18.32" height="1.00" fill="#00c000"/>
<rect x="305.33" y="487.00" width="15.83" height="1.00" fill="#00c000"/>
<rect x="305.73" y="488.00" width="14.67" height="1.00" fill="#00c000"/>
<rect x="306.13" y="489.00" width="8.27" height="1.00" fill="#00c000"/>
<rect x="306.53" y="490.00" width="1.87" height="1.00" fill="#00c000"/>
<rect x="306.93" y="491.00" width="1.41" height="1.00" fill="#00c000"/>
<rect x="307.33" y="492.00" width="1.01" height="1.00" fill="#00c000"/>
<rect x="307.09" y="493.00" width="1.25" height="1.00" fill="#00c000"/>
<rect x="306.84" y="494.00" width="1.50" height="1.00" fill="#00c000"/>
<rect x="306.59" y="495.00" width="1.75" height="1.00" fill="#00c000"/>
</g>
<polyline points="294.3,129.4 299.3,131.0 300.3,137.1 304.3,140.1 299.3,142.7 304.3,145.1 293.3,148.7 300.3,150.7 297.3,155.2 300.3,158.2 290.2,164.2 298.3,167.2 304.3,171.7 294.3,175.3 286.2,180.3 274.2,184.3 279.2,188.3 280.2,194.4 272.1,201.4 278.2,207.4 276.2,213.5 276.2,215.0 272.1,221.0 276.2,225.1 280.2,231.1 274.2,237.1 283.2,241.1 287.2,245.2 283.2,250.2 290.2,256.2 276.2,258.2 276.2,264.3 274.2,269.3 295.3,275.3 283.2,278.3 284.2,281.4 300.3,282.4 282.2,285.4 300.3,288.4 280.2,289.4 272.1,297.4 278.2,303.5 278.2,305.0 273.1,311.0 281.2,319.1 273.1,325.1 274.2,331.1 276.2,336.2 286.2,339.2 276.2,343.2 278.2,347.2 287.2,350.2 279.2,354.3 286.2,357.7 282.2,363.3 288.2,367.3 279.2,370.4 284.2,374.4 280.2,377.4 289.2,382.4 279.2,387.4 287.2,391.5 300.3,393.5 289.2,393.9 293.3,397.1 287.2,399.0 277.2,406.0 285.2,411.1 306.3,416.1 294.3,422.1 299.3,424.1 306.3,425.2 334.5,428.8 310.4,430.2 286.2,434.2 278.2,440.2 282.2,445.3 279.2,449.3 283.2,454.3 278.2,461.4 279.2,469.4 286.2,477.4 294.3,484.5 282.2,488.5 276.2,492.5 281.2,496.5" fill="none" stroke="#000" stroke-width="1.2" stroke-linejoin="round" stroke-dasharray="13 2"/>
<polyline points="280.2,129.4 283.2,135.1 282.6,141.1 285.2,147.1 286.2,155.2 285.2,165.2 281.2,170.2 272.1,175.3 264.1,178.9 272.1,182.3 286.2,183.7 300.3,185.3 304.3,187.7 292.3,191.0 296.3,194.4 313.4,195.8 315.4,201.4 316.4,210.5 313.4,215.0 310.4,220.0 304.3,227.1 296.3,235.1 301.3,240.1 305.3,242.1 303.3,247.2 300.3,252.2 301.3,256.2 298.7,260.2 300.3,264.3 306.3,268.3 304.3,272.3 294.3,275.3 282.2,280.4 294.3,282.4 274.2,287.0 286.2,288.4 302.3,292.4 303.3,297.4 305.3,303.5 305.3,305.0 306.3,311.0 310.4,315.1 304.3,319.1 304.3,325.1 306.3,331.1 302.3,337.2 303.3,343.2 301.3,348.2 308.3,352.9 301.3,356.3 303.3,360.3 305.3,363.3 300.3,367.3 304.3,372.4 303.3,376.4 308.3,380.4 304.3,382.4 301.3,385.4 305.3,389.5 302.3,394.5 303.3,398.0 306.3,403.0 302.3,408.1 306.3,412.1 305.3,417.1 305.3,421.1 304.3,424.1 306.3,429.2 307.3,434.2 303.3,438.2 306.3,443.3 308.3,449.3 299.3,455.3 306.3,459.3 304.3,465.4 300.3,471.4 292.3,475.4 296.3,479.4 298.3,483.5 305.3,487.5 307.3,492.5 306.3,496.5" fill="none" stroke="#0000ff" stroke-width="1.6" stroke-linejoin="round" stroke-dasharray="4.5 1.5"/>
<polyline points="326.4,129.4 328.4,137.1 311.4,142.1 323.4,145.1 322.4,150.1 333.5,156.2 326.4,160.2 335.5,164.2 326.4,170.9 339.5,178.3 338.5,182.3 322.4,185.3 306.3,189.8 320.4,192.4 312.4,194.4 300.3,195.8 287.2,197.0 284.2,205.4 286.2,210.5 291.2,215.0 298.3,218.0 306.3,223.0 300.3,229.1 292.7,232.1 298.3,238.1 306.3,241.1 310.4,246.2 305.3,251.2 304.3,255.2 308.3,258.2 303.3,263.3 306.3,269.3 308.3,273.3 334.5,277.3 312.4,282.4 326.4,289.8 306.3,292.4 292.3,293.4 297.3,297.4 296.3,303.5 299.3,305.0 298.3,313.0 290.6,316.1 293.3,323.1 289.2,331.1 294.3,334.8 301.3,335.6 292.7,341.2 297.3,345.2 297.3,349.6 306.3,352.3 310.4,354.3 307.3,360.3 310.4,365.3 315.4,367.7 306.3,369.4 305.3,375.4 306.3,380.4 307.3,384.4 305.3,389.5 306.3,394.5 307.3,398.0 310.4,401.0 309.3,406.0 314.4,411.1 306.3,417.1 306.3,421.1 299.3,423.5 306.3,426.2 308.3,430.2 289.2,435.2 304.3,438.2 310.4,440.2 317.4,446.3 310.4,449.7 317.4,454.3 310.4,460.3 318.4,468.4 316.4,476.4 323.4,484.5 320.4,488.5 308.3,490.5 308.3,496.5" fill="none" stroke="#ff0000" stroke-width="1.6" stroke-linejoin="round"/>
<polyline points="114.3,129.3 116.1,133.8 116.9,138.3 117.6,141.3 114.6,143.6 114.9,146.6 117.6,150.4 119.9,154.2 117.6,158.7 114.6,162.5 112.3,166.2 113.1,170.0 116.9,173.8 120.6,176.1 122.2,179.1 115.4,181.3 112.3,184.1 115.4,185.9 119.9,188.1 126.7,191.2 135.7,193.4 142.5,194.6 128.2,196.1 111.6,197.2 108.6,197.8 106.3,203.0 107.1,208.3 108.6,213.6 112.3,218.1 117.6,220.8 124.4,221.9 119.1,224.9 128.2,227.2 135.7,228.2 119.1,230.2 132.7,232.0 135.7,235.5 132.7,238.5 126.7,240.8 117.6,243.0 126.7,245.3 133.5,247.6 128.2,249.8 120.6,251.6 124.4,253.6 118.4,256.6 127.4,257.7 132.7,259.6 130.5,261.9 122.2,263.4 117.6,267.2 120.6,270.0 128.9,273.8 122.2,276.1 149.3,279.4 134.2,282.1 137.2,285.1 150.1,286.9 132.7,288.9 114.6,290.4 108.6,292.7 111.6,297.2 108.6,303.2 109.3,309.3 107.8,315.3 108.6,321.3 107.8,327.4 108.6,333.4 108.6,337.0 106.3,340.0 112.3,343.8 113.1,346.1 106.3,348.3 112.3,350.6 120.6,351.3 128.2,352.1 134.2,354.4 135.7,357.4 125.2,359.6 122.2,361.9 125.9,364.9 144.0,367.2 130.5,369.5 124.4,370.5 117.6,373.2 110.1,376.5 112.3,378.5 125.2,380.8 119.9,383.8 122.2,386.8 116.9,390.6 122.2,393.6 128.9,395.9 122.9,398.1 128.2,401.2 128.9,404.2 116.1,407.0 110.7,409.7 116.1,412.4 125.1,416.0 130.6,419.7 121.5,423.3 127.0,426.9 130.6,428.7 123.3,432.3 116.1,435.1 125.1,437.8 127.9,440.5 123.3,442.3 127.0,445.0 117.0,446.8 115.2,450.4 120.6,453.2 144.2,455.0 119.7,456.2 111.6,459.5 115.2,463.1 125.1,467.6 137.8,470.3 146.0,472.2 136.0,475.4 136.9,478.5 128.8,481.6 117.0,483.9 110.7,490.3 109.8,493.0 114.3,495.7" fill="none" stroke="#cd853f" stroke-width="1.5" stroke-linejoin="round" stroke-dasharray="4.5 1.2"/>
<polyline points="114.3,129.3 115.8,133.0 115.8,137.6 113.1,140.3 110.1,142.1 112.3,143.6 110.8,146.6 113.8,148.9 116.1,151.2 114.3,153.4 116.9,154.9 114.6,157.9 112.3,161.7 111.3,166.2 113.8,169.3 119.1,172.3 122.9,175.3 124.4,179.1 117.6,180.6 113.8,182.5 114.6,184.4 122.2,185.9 130.5,187.4 132.0,189.6 138.8,191.2 142.5,193.1 137.2,195.2 120.6,196.4 107.8,197.6 105.5,203.0 103.7,209.8 107.1,212.8 111.6,216.6 114.6,219.6 120.6,221.2 125.9,223.0 113.8,224.9 122.2,226.4 128.2,229.5 134.2,231.4 143.3,233.2 138.8,236.5 129.7,237.5 124.4,240.0 126.7,241.5 116.9,243.5 124.4,245.0 135.7,246.1 131.2,249.1 127.4,252.1 128.9,255.1 130.5,258.1 135.7,260.1 140.3,261.9 132.7,264.2 123.7,265.7 119.9,267.9 118.4,270.8 124.4,273.8 119.1,276.8 128.2,279.8 135.7,282.1 132.0,284.4 139.5,287.4 128.2,289.3 116.1,290.8 108.6,292.4 115.4,294.9 108.6,297.2 107.1,301.7 110.1,306.2 113.1,311.5 108.6,316.8 109.3,321.3 113.8,325.9 108.6,329.6 109.3,334.2 109.3,337.0 115.4,338.8 108.6,341.5 113.1,343.8 118.4,346.4 111.6,349.1 112.3,351.8 128.2,353.3 138.8,354.8 144.0,356.6 134.2,358.9 127.4,359.9 122.9,362.7 125.9,365.7 130.5,367.9 125.2,369.5 131.2,372.5 116.1,374.7 109.3,377.0 114.6,379.3 122.2,380.8 120.6,383.8 122.2,387.6 123.7,392.1 128.9,395.1 122.9,398.1 130.5,399.6 136.5,402.7 132.7,405.7 134.2,407.0 141.4,408.4 128.8,409.7 114.3,411.5 121.5,415.1 127.0,417.9 131.5,420.6 119.7,424.2 128.8,426.5 135.1,429.1 125.1,431.4 113.4,434.1 121.5,436.0 128.8,438.1 131.5,440.5 127.0,444.1 117.9,446.5 115.2,449.5 119.7,452.2 129.7,454.4 130.6,455.9 117.9,456.8 114.3,459.5 116.1,462.2 125.1,465.8 134.2,469.4 143.2,471.3 148.7,473.1 135.1,475.8 138.7,478.5 131.5,481.2 121.5,484.8 115.2,488.4 114.3,492.1 115.2,495.7" fill="none" stroke="#000" stroke-width="1.25" stroke-linejoin="round"/>
<polyline points="180.5,129.3 181.7,133.0 180.8,137.6 180.2,142.1 179.3,146.6 179.8,151.2 180.5,154.9 182.8,157.2 182.3,159.5 184.3,162.5 183.5,166.2 184.3,170.8 187.3,173.8 190.3,176.8 190.3,179.1 185.8,181.3 180.5,185.1 184.3,188.9 190.3,191.9 197.9,193.7 201.7,196.4 201.7,197.0 191.1,198.8 182.8,201.5 179.3,206.1 179.0,209.8 181.3,215.1 183.5,221.2 185.8,225.7 187.3,227.9 194.9,230.2 191.8,232.0 198.6,234.7 198.9,238.5 192.6,241.5 186.6,246.1 191.8,248.3 194.1,250.6 188.8,253.6 194.1,256.6 190.3,258.9 200.9,261.9 194.1,264.9 189.6,267.0 183.5,270.8 182.0,275.3 185.1,279.1 194.1,282.1 190.3,285.9 195.6,289.9 185.1,291.9 181.3,294.9 179.3,302.5 181.3,307.8 184.3,310.8 183.5,318.3 182.0,324.4 183.5,328.9 182.0,333.4 187.3,337.8 182.8,340.8 186.6,343.8 185.1,346.8 187.3,349.1 182.8,351.8 191.1,353.9 198.6,357.4 197.1,361.2 187.3,364.9 191.8,367.9 198.3,369.5 189.6,373.2 183.5,377.5 187.3,380.8 195.6,382.6 190.3,385.3 191.8,389.1 186.6,393.2 191.8,395.1 192.6,399.6 196.4,402.7 206.2,404.2 215.2,405.7 219.4,408.4 206.8,410.6 192.3,413.3 190.8,417.9 191.4,423.3 189.6,427.8 195.0,431.4 187.8,436.0 194.1,439.6 191.4,443.2 192.3,445.9 185.0,450.4 191.4,453.7 195.9,457.7 185.0,460.4 187.8,466.7 191.4,470.3 194.1,475.8 190.5,479.4 193.2,483.9 189.6,488.4 192.3,492.1 189.6,495.7" fill="none" stroke="#000" stroke-width="1.4" stroke-linejoin="round"/>
<rect x="599.10" y="128.50" width="84.10" height="367.50" fill="#ffff00"/>
<polygon points="599.1,128.5 599.1,128.5 599.1,129.5 599.1,130.5 599.1,131.5 599.1,132.5 599.1,133.5 599.1,134.5 599.1,135.5 599.1,136.5 599.1,137.5 599.1,138.5 599.1,139.5 599.1,140.5 599.1,141.5 599.1,142.5 599.1,143.5 599.1,144.5 599.1,145.5 599.1,146.5 599.1,147.5 599.1,148.5 599.1,149.5 599.1,150.5 599.1,151.5 599.1,152.5 599.1,153.5 599.1,154.5 599.1,155.5 599.1,156.5 599.1,157.5 599.1,158.5 599.1,159.5 599.1,160.5 599.1,161.5 599.1,162.5 599.1,163.5 599.1,164.5 599.1,165.5 599.1,166.5 599.1,167.5 599.1,168.5 599.1,169.5 599.1,170.5 599.1,171.5 599.1,172.5 599.1,173.5 599.1,174.5 599.1,175.5 599.1,176.5 599.1,177.5 599.1,178.5 599.1,179.5 599.1,180.5 599.1,181.5 599.1,182.5 599.1,183.5 599.1,184.5 599.1,185.5 599.1,186.5 599.1,187.5 599.1,188.5 599.1,189.5 599.1,190.5 599.1,191.5 599.1,192.5 599.1,193.5 599.1,194.5 599.1,195.5 599.1,196.5 599.1,197.5 599.1,198.5 599.1,199.5 599.1,200.5 599.1,201.5 599.1,202.5 599.1,203.5 599.1,204.5 599.1,205.5 599.1,206.5 599.1,207.5 599.1,208.5 599.1,209.5 599.1,210.5 599.1,211.5 599.1,212.5 599.1,213.5 599.1,214.5 599.1,215.5 599.1,216.5 599.1,217.5 599.1,218.5 599.1,219.5 599.1,220.5 599.1,221.5 599.1,222.5 599.1,223.5 599.1,224.5 599.1,225.5 599.1,226.5 599.1,227.5 599.1,228.5 599.1,229.5 599.1,230.5 599.1,231.5 599.1,232.5 599.1,233.5 599.1,234.5 599.1,235.5 599.1,236.5 599.1,237.5 599.1,238.5 599.1,239.5 599.1,240.5 599.1,241.5 599.1,242.5 599.1,243.5 599.1,244.5 599.1,245.5 599.1,246.5 599.1,247.5 599.1,248.5 599.1,249.5 599.1,250.5 599.1,251.5 599.1,252.5 599.1,253.5 599.1,254.5 599.1,255.5 599.1,256.5 599.1,257.5 599.1,258.5 599.1,259.5 599.1,260.5 599.1,261.5 599.1,262.5 599.1,263.5 599.1,264.5 599.1,265.5 599.1,266.5 599.1,267.5 599.1,268.5 599.1,269.5 599.1,270.5 599.1,271.5 599.1,272.5 599.1,273.5 599.1,274.5 599.1,275.5 599.1,276.5 599.1,277.5 599.1,278.5 599.1,279.5 599.1,280.5 599.1,281.5 599.1,282.5 599.1,283.5 599.1,284.5 599.1,285.5 599.1,286.5 599.1,287.5 599.1,288.5 599.1,289.5 599.1,290.5 599.1,291.5 599.1,292.5 599.1,293.5 599.1,294.5 599.1,295.5 599.1,296.5 599.1,297.5 599.1,298.5 599.1,299.5 599.1,300.5 599.1,301.5 599.1,302.5 599.1,303.5 599.1,304.5 599.1,305.5 599.1,306.5 599.1,307.5 599.1,308.5 599.1,309.5 599.1,310.5 599.1,311.5 599.1,312.5 599.1,313.5 599.1,314.5 599.1,315.5 599.1,316.5 599.1,317.5 599.1,318.5 599.1,319.5 599.1,320.5 599.1,321.5 599.1,322.5 599.1,323.5 599.1,324.5 599.1,325.5 599.1,326.5 599.1,327.5 599.1,328.5 599.1,329.5 599.1,330.5 599.1,331.5 599.1,332.5 599.1,333.5 599.1,334.5 599.1,335.5 599.1,336.5 599.1,337.5 599.1,338.5 599.1,339.5 599.1,340.5 599.1,341.5 599.1,342.5 599.1,343.5 599.1,344.5 599.1,345.5 599.1,346.5 599.1,347.5 599.1,348.5 599.1,349.5 599.1,350.5 599.1,351.5 599.1,352.5 599.1,353.5 599.1,354.5 599.1,355.5 599.1,356.5 599.1,357.5 599.1,358.5 599.1,359.5 599.1,360.5 599.1,361.5 599.1,362.5 599.1,363.5 599.1,364.5 599.1,365.5 599.1,366.5 599.1,367.5 599.1,368.5 599.1,369.5 599.1,370.5 599.1,371.5 599.1,372.5 599.1,373.5 599.1,374.5 599.1,375.5 599.1,376.5 599.1,377.5 599.1,378.5 599.1,379.5 599.1,380.5 599.1,381.5 599.1,382.5 599.1,383.5 599.1,384.5 599.1,385.5 599.1,386.5 599.1,387.5 599.1,388.5 599.1,389.5 599.1,390.5 599.1,391.5 599.1,392.5 599.1,393.5 599.1,394.5 599.1,395.5 599.1,396.5 599.1,397.5 599.1,398.5 599.1,399.5 599.1,400.5 599.1,401.5 599.1,402.5 599.1,403.5 599.1,404.5 599.1,405.5 599.1,406.5 599.1,407.5 599.1,408.5 599.1,409.5 599.1,410.5 599.1,411.5 599.1,412.5 599.1,413.5 599.1,414.5 599.1,415.5 599.1,416.5 599.1,417.5 599.1,418.5 599.1,419.5 599.1,420.5 599.1,421.5 599.1,422.5 599.1,423.5 599.1,424.5 599.1,425.5 599.1,426.5 599.1,427.5 599.1,428.5 599.1,429.5 599.1,430.5 599.1,431.5 599.1,432.5 599.1,433.5 599.1,434.5 599.1,435.5 599.1,436.5 599.1,437.5 599.1,438.5 599.1,439.5 599.1,440.5 599.1,441.5 599.1,442.5 599.1,443.5 599.1,444.5 599.1,445.5 599.1,446.5 599.1,447.5 599.1,448.5 599.1,449.5 599.1,450.5 599.1,451.5 599.1,452.5 599.1,453.5 599.1,454.5 599.1,455.5 599.1,456.5 599.1,457.5 599.1,458.5 599.1,459.5 599.1,460.5 599.1,461.5 599.1,462.5 599.1,463.5 599.1,464.5 599.1,465.5 599.1,466.5 599.1,467.5 599.1,468.5 599.1,469.5 599.1,470.5 599.1,471.5 599.1,472.5 599.1,473.5 599.1,474.5 599.1,475.5 599.1,476.5 599.1,477.5 599.1,478.5 599.1,479.5 599.1,480.5 599.1,481.5 599.1,482.5 599.1,483.5 599.1,484.5 599.1,485.5 599.1,486.5 599.1,487.5 599.1,488.5 599.1,489.5 599.1,490.5 599.1,491.5 599.1,492.5 599.1,493.5 599.1,494.5 599.1,495.5 599.1,496.0 618.6,496.0 618.6,495.5 618.1,494.5 617.7,493.5 617.2,492.5 617.2,491.5 619.0,490.5 620.8,489.5 622.6,488.5 624.4,487.5 626.2,486.5 628.0,485.5 627.3,484.5 626.3,483.5 625.3,482.5 624.3,481.5 623.3,480.5 622.6,479.5 621.9,478.5 621.2,477.5 620.6,476.5 619.9,475.5 619.2,474.5 618.6,473.5 618.2,472.5 618.7,471.5 619.2,470.5 619.7,469.5 620.2,468.5 620.4,467.5 619.4,466.5 618.4,465.5 617.4,464.5 616.4,463.5 615.7,462.5 616.7,461.5 617.7,460.5 618.7,459.5 619.7,458.5 620.7,457.5 621.7,456.5 622.7,455.5 621.7,454.5 619.2,453.5 616.9,452.5 618.2,451.5 619.6,450.5 620.9,449.5 621.5,448.5 620.2,447.5 618.8,446.5 617.5,445.5 616.2,444.5 614.8,443.5 613.5,442.5 612.2,441.5 611.2,440.5 610.4,439.5 609.6,438.5 608.8,437.5 608.0,436.5 607.2,435.5 606.9,434.5 607.4,433.5 607.9,432.5 608.4,431.5 608.9,430.5 609.4,429.5 609.9,428.5 610.4,427.5 610.2,426.5 609.8,425.5 609.4,424.5 609.0,423.5 608.6,422.5 608.2,421.5 609.0,420.5 611.0,419.5 613.0,418.5 615.0,417.5 617.0,416.5 619.0,415.5 620.2,414.5 618.2,413.5 616.2,412.5 614.2,411.5 614.4,410.5 617.8,409.5 621.3,408.5 624.0,407.5 620.7,406.5 617.4,405.5 614.2,404.5 613.7,403.5 613.2,402.5 612.9,401.5 612.7,400.5 612.6,399.5 612.4,398.5 612.2,397.5 612.1,396.5 611.9,395.5 611.7,394.5 611.4,393.5 611.0,392.5 610.7,391.5 610.4,390.5 610.0,389.5 609.7,388.5 609.4,387.5 610.3,386.5 612.0,385.5 613.8,384.5 615.6,383.5 616.3,382.5 614.6,381.5 612.8,380.5 611.1,379.5 609.4,378.5 607.6,377.5 608.0,376.5 610.7,375.5 613.4,374.5 616.1,373.5 618.9,372.5 621.6,371.5 624.3,370.5 627.0,369.5 629.7,368.5 628.7,367.5 625.5,366.5 622.3,365.5 619.2,364.5 616.0,363.5 612.8,362.5 609.7,361.5 606.9,360.5 610.2,359.5 613.4,358.5 616.7,357.5 619.9,356.5 623.1,355.5 616.9,354.5 610.8,353.5 604.7,352.5 600.0,351.5 600.2,350.5 600.5,349.5 600.8,348.5 601.1,347.5 601.4,346.5 601.6,345.5 602.1,344.5 602.5,343.5 602.9,342.5 603.4,341.5 603.8,340.5 604.2,339.5 604.7,338.5 604.7,337.5 604.1,336.5 603.4,335.5 602.7,334.5 602.1,333.5 601.4,332.5 600.7,331.5 600.1,330.5 600.3,329.5 600.9,328.5 601.5,327.5 602.1,326.5 602.7,325.5 602.6,324.5 602.1,323.5 601.6,322.5 601.1,321.5 600.6,320.5 600.7,319.5 601.1,318.5 601.5,317.5 601.9,316.5 602.3,315.5 602.3,314.5 602.2,313.5 602.1,312.5 602.0,311.5 601.9,310.5 601.8,309.5 601.7,308.5 601.5,307.5 601.3,306.5 601.1,305.5 600.9,304.5 600.7,303.5 600.5,302.5 601.5,301.5 603.2,300.5 605.0,299.5 606.7,298.5 608.4,297.5 610.2,296.5 616.8,295.5 624.4,294.5 632.0,293.5 639.7,292.5 646.9,291.5 639.4,290.5 632.0,289.5 629.3,288.5 626.6,287.5 624.0,286.5 623.4,285.5 630.3,284.5 637.2,283.5 644.2,282.5 651.1,281.5 649.1,280.5 642.6,279.5 636.2,278.5 629.7,277.5 622.9,276.5 615.7,275.5 608.5,274.5 607.9,273.5 608.4,272.5 608.9,271.5 609.3,270.5 609.8,269.5 610.3,268.5 610.8,267.5 611.3,266.5 611.8,265.5 612.6,264.5 613.5,263.5 614.3,262.5 615.2,261.5 616.0,260.5 615.5,259.5 614.9,258.5 614.3,257.5 613.7,256.5 613.1,255.5 613.6,254.5 614.2,253.5 614.8,252.5 615.4,251.5 616.0,250.5 614.5,249.5 612.7,248.5 610.9,247.5 609.2,246.5 608.4,245.5 607.6,244.5 606.8,243.5 606.0,242.5 605.2,241.5 604.4,240.5 604.6,239.5 605.1,238.5 605.6,237.5 606.1,236.5 606.6,235.5 606.2,234.5 605.6,233.5 604.9,232.5 604.2,231.5 603.6,230.5 602.9,229.5 602.2,228.5 601.7,227.5 602.2,226.5 602.7,225.5 603.2,224.5 603.7,223.5 604.1,222.5 603.2,221.5 602.4,220.5 602.0,219.5 603.4,218.5 604.9,217.5 606.4,216.5 607.8,215.5 605.1,214.5 602.0,213.5 601.5,212.5 601.3,211.5 601.1,210.5 600.9,209.5 600.7,208.5 600.5,207.5 600.3,206.5 600.1,205.5 599.9,204.5 600.6,203.5 601.3,202.5 602.0,201.5 602.8,200.5 605.9,199.5 609.8,198.5 613.7,197.5 617.5,196.5 620.4,195.5 619.7,194.5 618.9,193.5 618.2,192.5 617.4,191.5 617.4,190.5 621.1,189.5 624.8,188.5 629.2,187.5 633.7,186.5 638.2,185.5 642.6,184.5 646.6,183.5 650.6,182.5 654.6,181.5 658.6,180.5 655.9,179.5 651.4,178.5 646.9,177.5 643.3,176.5 644.5,175.5 645.6,174.5 646.7,173.5 647.9,172.5 649.0,171.5 650.2,170.5 650.5,169.5 650.7,168.5 650.9,167.5 651.1,166.5 651.3,165.5 651.5,164.5 651.7,163.5 651.9,162.5 652.1,161.5 651.6,160.5 650.8,159.5 650.0,158.5 649.2,157.5 648.6,156.5 649.0,155.5 649.4,154.5 649.8,153.5 650.1,152.5 650.5,151.5 650.9,150.5 651.3,149.5 648.0,148.5 644.7,147.5 642.5,146.5 643.6,145.5 644.7,144.5 645.8,143.5 646.9,142.5 648.0,141.5 648.3,140.5 648.4,139.5 648.5,138.5 648.6,137.5 648.7,136.5 648.8,135.5 648.9,134.5 649.0,133.5 649.1,132.5 649.2,131.5 649.3,130.5 649.4,129.5 649.5,128.5 649.5,128.5" fill="#00c000" stroke="none" stroke-width="0.6" stroke-linejoin="round"/>
<polygon points="672.3,128.5 672.3,128.5 672.3,129.5 671.6,130.5 671.0,131.5 670.3,132.5 669.6,133.5 669.8,134.5 670.7,135.5 669.6,136.5 668.3,137.5 666.9,138.5 665.6,139.5 665.2,140.5 666.3,141.5 666.4,142.5 663.1,143.5 659.9,144.5 656.6,145.5 653.3,146.5 652.9,147.5 656.9,148.5 661.0,149.5 665.0,150.5 668.5,151.5 667.9,152.5 667.2,153.5 666.5,154.5 665.9,155.5 666.1,156.5 667.0,157.5 667.8,158.5 668.7,159.5 669.5,160.5 670.2,161.5 670.5,162.5 670.9,163.5 671.2,164.5 671.5,165.5 672.9,166.5 674.6,167.5 676.3,168.5 677.9,169.5 678.7,170.5 677.3,171.5 675.9,172.5 674.5,173.5 673.0,174.5 671.4,175.5 670.6,176.5 673.3,177.5 675.9,178.5 678.5,179.5 681.2,180.5 682.5,181.5 682.5,182.5 682.5,183.5 682.5,184.5 682.5,185.5 682.5,186.5 682.5,187.5 682.5,188.5 682.5,189.5 682.5,190.5 682.5,191.5 682.5,192.5 682.5,193.5 682.5,194.5 682.5,195.5 682.5,196.5 682.5,197.5 682.5,198.5 682.5,199.5 682.5,200.5 682.5,201.5 682.5,202.5 682.4,203.5 682.4,204.5 682.4,205.5 682.4,206.5 682.4,207.5 682.4,208.5 682.4,209.5 682.4,210.5 682.4,211.5 682.4,212.5 682.4,213.5 682.4,214.5 682.4,215.5 682.4,216.5 682.4,217.5 682.4,218.5 682.4,219.5 682.4,220.5 682.4,221.5 682.4,222.5 682.4,223.5 682.4,224.5 682.4,225.5 682.4,226.5 682.4,227.5 682.4,228.5 682.4,229.5 682.4,230.5 682.4,231.5 682.4,232.5 682.4,233.5 682.4,234.5 682.4,235.5 682.4,236.5 682.4,237.5 682.4,238.5 682.4,239.5 682.4,240.5 682.4,241.5 682.4,242.5 682.4,243.5 682.4,244.5 682.4,245.5 682.4,246.5 682.4,247.5 682.3,248.5 682.3,249.5 682.3,250.5 682.3,251.5 682.3,252.5 682.3,253.5 682.3,254.5 682.3,255.5 682.3,256.5 682.3,257.5 682.3,258.5 682.3,259.5 682.3,260.5 682.3,261.5 682.3,262.5 682.3,263.5 682.3,264.5 682.3,265.5 682.3,266.5 682.3,267.5 682.3,268.5 682.3,269.5 682.3,270.5 682.3,271.5 682.3,272.5 682.3,273.5 682.3,274.5 682.3,275.5 676.7,276.5 671.0,277.5 665.4,278.5 663.1,279.5 668.9,280.5 674.8,281.5 680.6,282.5 682.3,283.5 682.3,284.5 682.3,285.5 682.0,286.5 678.8,287.5 675.6,288.5 672.4,289.5 669.2,290.5 666.0,291.5 663.6,292.5 669.0,293.5 674.3,294.5 679.6,295.5 682.4,296.5 682.6,297.5 682.7,298.5 682.9,299.5 683.0,300.5 683.0,301.5 683.0,302.5 683.0,303.5 683.0,304.5 683.0,305.5 683.0,306.5 683.0,307.5 683.0,308.5 683.0,309.5 683.0,310.5 683.0,311.5 683.0,312.5 683.0,313.5 683.0,314.5 683.0,315.5 683.0,316.5 683.0,317.5 683.0,318.5 683.0,319.5 683.0,320.5 683.0,321.5 683.0,322.5 683.0,323.5 683.0,324.5 683.0,325.5 683.1,326.5 683.1,327.5 683.1,328.5 683.1,329.5 683.1,330.5 683.1,331.5 683.1,332.5 683.1,333.5 683.1,334.5 683.1,335.5 683.1,336.5 683.1,337.5 683.1,338.5 683.1,339.5 683.1,340.5 683.1,341.5 683.1,342.5 683.1,343.5 683.1,344.5 683.1,345.5 683.1,346.5 683.1,347.5 683.1,348.5 683.1,349.5 683.1,350.5 683.1,351.5 683.1,352.5 683.1,353.5 683.1,354.5 683.1,355.5 683.1,356.5 683.1,357.5 683.1,358.5 683.1,359.5 683.1,360.5 683.1,361.5 683.1,362.5 683.1,363.5 683.1,364.5 683.1,365.5 683.1,366.5 683.1,367.5 683.1,368.5 683.1,369.5 683.1,370.5 683.1,371.5 683.1,372.5 683.1,373.5 683.1,374.5 683.1,375.5 683.1,376.5 683.1,377.5 683.1,378.5 683.2,379.5 683.2,380.5 683.2,381.5 683.2,382.5 683.2,383.5 683.2,384.5 683.2,385.5 683.2,386.5 683.2,387.5 683.2,388.5 683.2,389.5 683.2,390.5 683.2,391.5 683.2,392.5 683.2,393.5 683.2,394.5 683.2,395.5 683.2,396.5 683.2,397.5 683.2,398.5 683.2,399.5 683.2,400.5 683.2,401.5 683.2,402.5 683.2,403.5 683.2,404.5 682.2,405.5 680.2,406.5 678.3,407.5 676.3,408.5 676.0,409.5 678.4,410.5 680.8,411.5 682.3,412.5 682.4,413.5 682.5,414.5 682.7,415.5 682.8,416.5 683.0,417.5 683.1,418.5 683.1,419.5 683.0,420.5 682.8,421.5 682.6,422.5 682.5,423.5 682.3,424.5 682.2,425.5 682.3,426.5 682.4,427.5 682.5,428.5 682.6,429.5 682.6,430.5 682.7,431.5 682.8,432.5 682.9,433.5 683.0,434.5 683.1,435.5 683.1,436.5 683.2,437.5 683.0,438.5 682.8,439.5 682.7,440.5 682.5,441.5 682.3,442.5 682.0,443.5 681.0,444.5 680.0,445.5 679.0,446.5 678.5,447.5 680.1,448.5 681.7,449.5 683.1,450.5 681.6,451.5 680.2,452.5 678.8,453.5 677.4,454.5 676.3,455.5 678.4,456.5 680.1,457.5 679.5,458.5 678.8,459.5 678.1,460.5 677.5,461.5 676.8,462.5 676.1,463.5 675.4,464.5 674.8,465.5 674.1,466.5 675.5,467.5 676.8,468.5 678.2,469.5 679.5,470.5 680.9,471.5 682.2,472.5 682.3,473.5 682.4,474.5 682.5,475.5 682.6,476.5 682.7,477.5 682.9,478.5 683.0,479.5 683.1,480.5 683.2,481.5 681.5,482.5 679.6,483.5 677.8,484.5 675.9,485.5 674.0,486.5 672.2,487.5 670.3,488.5 674.6,489.5 679.7,490.5 680.7,491.5 681.3,492.5 681.9,493.5 682.5,494.5 683.1,495.5 683.1,496.0 683.5,496.0 683.5,495.5 683.5,494.5 683.5,493.5 683.5,492.5 683.5,491.5 683.5,490.5 683.5,489.5 683.5,488.5 683.5,487.5 683.5,486.5 683.5,485.5 683.5,484.5 683.5,483.5 683.5,482.5 683.5,481.5 683.5,480.5 683.5,479.5 683.5,478.5 683.5,477.5 683.5,476.5 683.5,475.5 683.5,474.5 683.5,473.5 683.5,472.5 683.5,471.5 683.5,470.5 683.5,469.5 683.5,468.5 683.5,467.5 683.5,466.5 683.5,465.5 683.5,464.5 683.5,463.5 683.5,462.5 683.5,461.5 683.5,460.5 683.5,459.5 683.5,458.5 683.5,457.5 683.5,456.5 683.5,455.5 683.5,454.5 683.5,453.5 683.5,452.5 683.5,451.5 683.5,450.5 683.5,449.5 683.5,448.5 683.5,447.5 683.5,446.5 683.5,445.5 683.5,444.5 683.5,443.5 683.5,442.5 683.5,441.5 683.5,440.5 683.5,439.5 683.5,438.5 683.5,437.5 683.5,436.5 683.5,435.5 683.5,434.5 683.5,433.5 683.5,432.5 683.5,431.5 683.5,430.5 683.5,429.5 683.5,428.5 683.5,427.5 683.5,426.5 683.5,425.5 683.5,424.5 683.5,423.5 683.5,422.5 683.5,421.5 683.5,420.5 683.5,419.5 683.5,418.5 683.5,417.5 683.5,416.5 683.5,415.5 683.5,414.5 683.5,413.5 683.5,412.5 683.5,411.5 683.5,410.5 683.5,409.5 683.5,408.5 683.5,407.5 683.5,406.5 683.5,405.5 683.5,404.5 683.5,403.5 683.5,402.5 683.5,401.5 683.5,400.5 683.5,399.5 683.5,398.5 683.5,397.5 683.5,396.5 683.5,395.5 683.5,394.5 683.5,393.5 683.5,392.5 683.5,391.5 683.5,390.5 683.5,389.5 683.5,388.5 683.5,387.5 683.5,386.5 683.5,385.5 683.5,384.5 683.5,383.5 683.5,382.5 683.5,381.5 683.5,380.5 683.5,379.5 683.5,378.5 683.5,377.5 683.5,376.5 683.5,375.5 683.5,374.5 683.5,373.5 683.5,372.5 683.5,371.5 683.5,370.5 683.5,369.5 683.5,368.5 683.5,367.5 683.5,366.5 683.5,365.5 683.5,364.5 683.5,363.5 683.5,362.5 683.5,361.5 683.5,360.5 683.5,359.5 683.5,358.5 683.5,357.5 683.5,356.5 683.5,355.5 683.5,354.5 683.5,353.5 683.5,352.5 683.5,351.5 683.5,350.5 683.5,349.5 683.5,348.5 683.5,347.5 683.5,346.5 683.5,345.5 683.5,344.5 683.5,343.5 683.5,342.5 683.5,341.5 683.5,340.5 683.5,339.5 683.5,338.5 683.5,337.5 683.5,336.5 683.5,335.5 683.5,334.5 683.5,333.5 683.5,332.5 683.5,331.5 683.5,330.5 683.5,329.5 683.5,328.5 683.5,327.5 683.5,326.5 683.5,325.5 683.5,324.5 683.5,323.5 683.5,322.5 683.5,321.5 683.5,320.5 683.5,319.5 683.5,318.5 683.5,317.5 683.5,316.5 683.5,315.5 683.5,314.5 683.5,313.5 683.5,312.5 683.5,311.5 683.5,310.5 683.5,309.5 683.5,308.5 683.5,307.5 683.5,306.5 683.5,305.5 683.5,304.5 683.5,303.5 683.5,302.5 683.5,301.5 683.5,300.5 683.5,299.5 683.5,298.5 683.5,297.5 683.5,296.5 683.5,295.5 683.5,294.5 683.5,293.5 683.5,292.5 683.5,291.5 683.5,290.5 683.5,289.5 683.5,288.5 683.5,287.5 683.5,286.5 683.5,285.5 683.5,284.5 683.5,283.5 683.5,282.5 683.5,281.5 683.5,280.5 683.5,279.5 683.5,278.5 683.5,277.5 683.5,276.5 683.5,275.5 683.5,274.5 683.5,273.5 683.5,272.5 683.5,271.5 683.5,270.5 683.5,269.5 683.5,268.5 683.5,267.5 683.5,266.5 683.5,265.5 683.5,264.5 683.5,263.5 683.5,262.5 683.5,261.5 683.5,260.5 683.5,259.5 683.5,258.5 683.5,257.5 683.5,256.5 683.5,255.5 683.5,254.5 683.5,253.5 683.5,252.5 683.5,251.5 683.5,250.5 683.5,249.5 683.5,248.5 683.5,247.5 683.5,246.5 683.5,245.5 683.5,244.5 683.5,243.5 683.5,242.5 683.5,241.5 683.5,240.5 683.5,239.5 683.5,238.5 683.5,237.5 683.5,236.5 683.5,235.5 683.5,234.5 683.5,233.5 683.5,232.5 683.5,231.5 683.5,230.5 683.5,229.5 683.5,228.5 683.5,227.5 683.5,226.5 683.5,225.5 683.5,224.5 683.5,223.5 683.5,222.5 683.5,221.5 683.5,220.5 683.5,219.5 683.5,218.5 683.5,217.5 683.5,216.5 683.5,215.5 683.5,214.5 683.5,213.5 683.5,212.5 683.5,211.5 683.5,210.5 683.5,209.5 683.5,208.5 683.5,207.5 683.5,206.5 683.5,205.5 683.5,204.5 683.5,203.5 683.5,202.5 683.5,201.5 683.5,200.5 683.5,199.5 683.5,198.5 683.5,197.5 683.5,196.5 683.5,195.5 683.5,194.5 683.5,193.5 683.5,192.5 683.5,191.5 683.5,190.5 683.4,189.5 683.3,188.5 683.2,187.5 683.1,186.5 683.0,185.5 682.9,184.5 682.8,183.5 682.7,182.5 682.6,181.5 681.2,180.5 678.5,179.5 675.9,178.5 673.3,177.5 670.6,176.5 671.6,175.5 673.4,174.5 675.0,173.5 676.4,172.5 677.7,171.5 678.7,170.5 678.4,169.5 678.8,168.5 679.2,167.5 679.6,166.5 680.0,165.5 680.5,164.5 681.0,163.5 681.5,162.5 682.0,161.5 682.2,160.5 682.3,159.5 682.5,158.5 682.6,157.5 682.7,156.5 682.8,155.5 683.0,154.5 683.1,153.5 683.2,152.5 683.2,151.5 683.1,150.5 683.0,149.5 682.9,148.5 682.8,147.5 682.7,146.5 682.7,145.5 682.9,144.5 683.0,143.5 683.2,142.5 683.4,141.5 683.5,140.5 683.5,139.5 683.4,138.5 683.3,137.5 683.2,136.5 683.1,135.5 683.0,134.5 683.0,133.5 683.1,132.5 683.2,131.5 683.4,130.5 683.5,129.5 683.5,128.5 683.5,128.5" fill="#ffb6c1" stroke="none" stroke-width="0.6" stroke-linejoin="round"/>
<polygon points="683.5,128.5 683.5,128.5 683.5,129.5 683.4,130.5 683.2,131.5 683.1,132.5 683.0,133.5 683.0,134.5 683.1,135.5 683.2,136.5 683.3,137.5 683.4,138.5 683.5,139.5 683.5,140.5 683.4,141.5 683.2,142.5 683.0,143.5 682.9,144.5 682.7,145.5 682.7,146.5 682.8,147.5 682.9,148.5 683.0,149.5 683.1,150.5 683.2,151.5 683.2,152.5 683.1,153.5 683.0,154.5 682.8,155.5 682.7,156.5 682.6,157.5 682.5,158.5 682.3,159.5 682.2,160.5 682.0,161.5 681.5,162.5 681.0,163.5 680.5,164.5 680.0,165.5 679.6,166.5 679.2,167.5 678.8,168.5 678.4,169.5 678.7,170.5 677.7,171.5 676.4,172.5 675.0,173.5 673.4,174.5 671.6,175.5 670.6,176.5 673.3,177.5 675.9,178.5 678.5,179.5 681.2,180.5 682.6,181.5 682.7,182.5 682.8,183.5 682.9,184.5 683.0,185.5 683.1,186.5 683.2,187.5 683.3,188.5 683.4,189.5 683.5,190.5 683.5,191.5 683.5,192.5 683.5,193.5 683.5,194.5 683.5,195.5 683.5,196.5 683.5,197.5 683.5,198.5 683.5,199.5 683.5,200.5 683.5,201.5 683.5,202.5 683.5,203.5 683.5,204.5 683.5,205.5 683.5,206.5 683.5,207.5 683.5,208.5 683.5,209.5 683.5,210.5 683.5,211.5 683.5,212.5 683.5,213.5 683.5,214.5 683.5,215.5 683.5,216.5 683.5,217.5 683.5,218.5 683.5,219.5 683.5,220.5 683.5,221.5 683.5,222.5 683.5,223.5 683.5,224.5 683.5,225.5 683.5,226.5 683.5,227.5 683.5,228.5 683.5,229.5 683.5,230.5 683.5,231.5 683.5,232.5 683.5,233.5 683.5,234.5 683.5,235.5 683.5,236.5 683.5,237.5 683.5,238.5 683.5,239.5 683.5,240.5 683.5,241.5 683.5,242.5 683.5,243.5 683.5,244.5 683.5,245.5 683.5,246.5 683.5,247.5 683.5,248.5 683.5,249.5 683.5,250.5 683.5,251.5 683.5,252.5 683.5,253.5 683.5,254.5 683.5,255.5 683.5,256.5 683.5,257.5 683.5,258.5 683.5,259.5 683.5,260.5 683.5,261.5 683.5,262.5 683.5,263.5 683.5,264.5 683.5,265.5 683.5,266.5 683.5,267.5 683.5,268.5 683.5,269.5 683.5,270.5 683.5,271.5 683.5,272.5 683.5,273.5 683.5,274.5 683.5,275.5 683.5,276.5 683.5,277.5 683.5,278.5 683.5,279.5 683.5,280.5 683.5,281.5 683.5,282.5 683.5,283.5 683.5,284.5 683.5,285.5 683.5,286.5 683.5,287.5 683.5,288.5 683.5,289.5 683.5,290.5 683.5,291.5 683.5,292.5 683.5,293.5 683.5,294.5 683.5,295.5 683.5,296.5 683.5,297.5 683.5,298.5 683.5,299.5 683.5,300.5 683.5,301.5 683.5,302.5 683.5,303.5 683.5,304.5 683.5,305.5 683.5,306.5 683.5,307.5 683.5,308.5 683.5,309.5 683.5,310.5 683.5,311.5 683.5,312.5 683.5,313.5 683.5,314.5 683.5,315.5 683.5,316.5 683.5,317.5 683.5,318.5 683.5,319.5 683.5,320.5 683.5,321.5 683.5,322.5 683.5,323.5 683.5,324.5 683.5,325.5 683.5,326.5 683.5,327.5 683.5,328.5 683.5,329.5 683.5,330.5 683.5,331.5 683.5,332.5 683.5,333.5 683.5,334.5 683.5,335.5 683.5,336.5 683.5,337.5 683.5,338.5 683.5,339.5 683.5,340.5 683.5,341.5 683.5,342.5 683.5,343.5 683.5,344.5 683.5,345.5 683.5,346.5 683.5,347.5 683.5,348.5 683.5,349.5 683.5,350.5 683.5,351.5 683.5,352.5 683.5,353.5 683.5,354.5 683.5,355.5 683.5,356.5 683.5,357.5 683.5,358.5 683.5,359.5 683.5,360.5 683.5,361.5 683.5,362.5 683.5,363.5 683.5,364.5 683.5,365.5 683.5,366.5 683.5,367.5 683.5,368.5 683.5,369.5 683.5,370.5 683.5,371.5 683.5,372.5 683.5,373.5 683.5,374.5 683.5,375.5 683.5,376.5 683.5,377.5 683.5,378.5 683.5,379.5 683.5,380.5 683.5,381.5 683.5,382.5 683.5,383.5 683.5,384.5 683.5,385.5 683.5,386.5 683.5,387.5 683.5,388.5 683.5,389.5 683.5,390.5 683.5,391.5 683.5,392.5 683.5,393.5 683.5,394.5 683.5,395.5 683.5,396.5 683.5,397.5 683.5,398.5 683.5,399.5 683.5,400.5 683.5,401.5 683.5,402.5 683.5,403.5 683.5,404.5 683.5,405.5 683.5,406.5 683.5,407.5 683.5,408.5 683.5,409.5 683.5,410.5 683.5,411.5 683.5,412.5 683.5,413.5 683.5,414.5 683.5,415.5 683.5,416.5 683.5,417.5 683.5,418.5 683.5,419.5 683.5,420.5 683.5,421.5 683.5,422.5 683.5,423.5 683.5,424.5 683.5,425.5 683.5,426.5 683.5,427.5 683.5,428.5 683.5,429.5 683.5,430.5 683.5,431.5 683.5,432.5 683.5,433.5 683.5,434.5 683.5,435.5 683.5,436.5 683.5,437.5 683.5,438.5 683.5,439.5 683.5,440.5 683.5,441.5 683.5,442.5 683.5,443.5 683.5,444.5 683.5,445.5 683.5,446.5 683.5,447.5 683.5,448.5 683.5,449.5 683.5,450.5 683.5,451.5 683.5,452.5 683.5,453.5 683.5,454.5 683.5,455.5 683.5,456.5 683.5,457.5 683.5,458.5 683.5,459.5 683.5,460.5 683.5,461.5 683.5,462.5 683.5,463.5 683.5,464.5 683.5,465.5 683.5,466.5 683.5,467.5 683.5,468.5 683.5,469.5 683.5,470.5 683.5,471.5 683.5,472.5 683.5,473.5 683.5,474.5 683.5,475.5 683.5,476.5 683.5,477.5 683.5,478.5 683.5,479.5 683.5,480.5 683.5,481.5 683.5,482.5 683.5,483.5 683.5,484.5 683.5,485.5 683.5,486.5 683.5,487.5 683.5,488.5 683.5,489.5 683.5,490.5 683.5,491.5 683.5,492.5 683.5,493.5 683.5,494.5 683.5,495.5 683.5,496.0 683.2,496.0 683.2,495.5 683.2,494.5 683.2,493.5 683.2,492.5 683.2,491.5 683.2,490.5 683.2,489.5 683.2,488.5 683.2,487.5 683.2,486.5 683.2,485.5 683.2,484.5 683.2,483.5 683.2,482.5 683.2,481.5 683.2,480.5 683.2,479.5 683.2,478.5 683.2,477.5 683.2,476.5 683.2,475.5 683.2,474.5 683.2,473.5 683.2,472.5 683.2,471.5 683.2,470.5 683.2,469.5 683.2,468.5 683.2,467.5 683.2,466.5 683.2,465.5 683.2,464.5 683.2,463.5 683.2,462.5 683.2,461.5 683.2,460.5 683.2,459.5 683.2,458.5 683.2,457.5 683.2,456.5 683.2,455.5 683.2,454.5 683.2,453.5 683.2,452.5 683.2,451.5 683.2,450.5 683.2,449.5 683.2,448.5 683.2,447.5 683.2,446.5 683.2,445.5 683.2,444.5 683.2,443.5 683.2,442.5 683.2,441.5 683.2,440.5 683.2,439.5 683.2,438.5 683.2,437.5 683.2,436.5 683.2,435.5 683.2,434.5 683.2,433.5 683.2,432.5 683.2,431.5 683.2,430.5 683.2,429.5 683.2,428.5 683.2,427.5 683.2,426.5 683.2,425.5 683.2,424.5 683.2,423.5 683.2,422.5 683.2,421.5 683.2,420.5 683.2,419.5 683.2,418.5 683.2,417.5 683.2,416.5 683.2,415.5 683.2,414.5 683.2,413.5 683.2,412.5 683.2,411.5 683.2,410.5 683.2,409.5 683.2,408.5 683.2,407.5 683.2,406.5 683.2,405.5 683.2,404.5 683.2,403.5 683.2,402.5 683.2,401.5 683.2,400.5 683.2,399.5 683.2,398.5 683.2,397.5 683.2,396.5 683.2,395.5 683.2,394.5 683.2,393.5 683.2,392.5 683.2,391.5 683.2,390.5 683.2,389.5 683.2,388.5 683.2,387.5 683.2,386.5 683.2,385.5 683.2,384.5 683.2,383.5 683.2,382.5 683.2,381.5 683.2,380.5 683.2,379.5 683.2,378.5 683.2,377.5 683.2,376.5 683.2,375.5 683.2,374.5 683.2,373.5 683.2,372.5 683.2,371.5 683.2,370.5 683.2,369.5 683.2,368.5 683.2,367.5 683.2,366.5 683.2,365.5 683.2,364.5 683.2,363.5 683.2,362.5 683.2,361.5 683.2,360.5 683.2,359.5 683.2,358.5 683.2,357.5 683.2,356.5 683.2,355.5 683.2,354.5 683.2,353.5 683.2,352.5 683.2,351.5 683.2,350.5 683.2,349.5 683.2,348.5 683.2,347.5 683.2,346.5 683.2,345.5 683.2,344.5 683.2,343.5 683.2,342.5 683.2,341.5 683.2,340.5 683.2,339.5 683.2,338.5 683.2,337.5 683.2,336.5 683.2,335.5 683.2,334.5 683.2,333.5 683.2,332.5 683.2,331.5 683.2,330.5 683.2,329.5 683.2,328.5 683.2,327.5 683.2,326.5 683.2,325.5 683.2,324.5 683.2,323.5 683.2,322.5 683.2,321.5 683.2,320.5 683.2,319.5 683.2,318.5 683.2,317.5 683.2,316.5 683.2,315.5 683.2,314.5 683.2,313.5 683.2,312.5 683.2,311.5 683.2,310.5 683.2,309.5 683.2,308.5 683.2,307.5 683.2,306.5 683.2,305.5 683.2,304.5 683.2,303.5 683.2,302.5 683.2,301.5 683.2,300.5 683.2,299.5 683.2,298.5 683.2,297.5 683.2,296.5 683.2,295.5 683.2,294.5 683.2,293.5 683.2,292.5 683.2,291.5 683.2,290.5 683.2,289.5 683.2,288.5 683.2,287.5 683.2,286.5 683.2,285.5 683.2,284.5 683.2,283.5 683.2,282.5 683.2,281.5 683.2,280.5 683.2,279.5 683.2,278.5 683.2,277.5 683.2,276.5 683.2,275.5 683.2,274.5 683.2,273.5 683.2,272.5 683.2,271.5 683.2,270.5 683.2,269.5 683.2,268.5 683.2,267.5 683.2,266.5 683.2,265.5 683.2,264.5 683.2,263.5 683.2,262.5 683.2,261.5 683.2,260.5 683.2,259.5 683.2,258.5 683.2,257.5 683.2,256.5 683.2,255.5 683.2,254.5 683.2,253.5 683.2,252.5 683.2,251.5 683.2,250.5 683.2,249.5 683.2,248.5 683.2,247.5 683.2,246.5 683.2,245.5 683.2,244.5 683.2,243.5 683.2,242.5 683.2,241.5 683.2,240.5 683.2,239.5 683.2,238.5 683.2,237.5 683.2,236.5 683.2,235.5 683.2,234.5 683.2,233.5 683.2,232.5 683.2,231.5 683.2,230.5 683.2,229.5 683.2,228.5 683.2,227.5 683.2,226.5 683.2,225.5 683.2,224.5 683.2,223.5 683.2,222.5 683.2,221.5 683.2,220.5 683.2,219.5 683.2,218.5 683.2,217.5 683.2,216.5 683.2,215.5 683.2,214.5 683.2,213.5 683.2,212.5 683.2,211.5 683.2,210.5 683.2,209.5 683.2,208.5 683.2,207.5 683.2,206.5 683.2,205.5 683.2,204.5 683.2,203.5 683.2,202.5 683.2,201.5 683.2,200.5 683.2,199.5 683.2,198.5 683.2,197.5 683.2,196.5 683.2,195.5 683.2,194.5 683.2,193.5 683.2,192.5 683.2,191.5 683.2,190.5 683.2,189.5 683.2,188.5 683.2,187.5 683.2,186.5 683.2,185.5 683.2,184.5 683.2,183.5 683.2,182.5 683.2,181.5 683.2,180.5 683.2,179.5 683.2,178.5 683.2,177.5 683.2,176.5 683.2,175.5 683.2,174.5 683.2,173.5 683.2,172.5 683.2,171.5 683.2,170.5 683.2,169.5 683.2,168.5 683.2,167.5 683.2,166.5 683.2,165.5 683.2,164.5 683.2,163.5 683.2,162.5 683.2,161.5 683.2,160.5 683.2,159.5 683.2,158.5 683.2,157.5 683.2,156.5 683.2,155.5 683.2,154.5 683.2,153.5 683.2,152.5 683.2,151.5 683.2,150.5 683.2,149.5 683.2,148.5 683.2,147.5 683.2,146.5 683.2,145.5 683.2,144.5 683.2,143.5 683.2,142.5 683.2,141.5 683.2,140.5 683.2,139.5 683.2,138.5 683.2,137.5 683.2,136.5 683.2,135.5 683.2,134.5 683.2,133.5 683.2,132.5 683.2,131.5 683.2,130.5 683.2,129.5 683.2,128.5 683.2,128.5" fill="#a52a2a" stroke="none" stroke-width="0.6" stroke-linejoin="round"/>
<polyline points="649.5,128.5 649.4,129.5 649.3,130.5 649.2,131.5 649.1,132.5 649.0,133.5 648.9,134.5 648.8,135.5 648.7,136.5 648.6,137.5 648.5,138.5 648.4,139.5 648.3,140.5 648.0,141.5 646.9,142.5 645.8,143.5 644.7,144.5 643.6,145.5 642.5,146.5 644.7,147.5 648.0,148.5 651.3,149.5 650.9,150.5 650.5,151.5 650.1,152.5 649.8,153.5 649.4,154.5 649.0,155.5 648.6,156.5 649.2,157.5 650.0,158.5 650.8,159.5 651.6,160.5 652.1,161.5 651.9,162.5 651.7,163.5 651.5,164.5 651.3,165.5 651.1,166.5 650.9,167.5 650.7,168.5 650.5,169.5 650.2,170.5 649.0,171.5 647.9,172.5 646.7,173.5 645.6,174.5 644.5,175.5 643.3,176.5 646.9,177.5 651.4,178.5 655.9,179.5 658.6,180.5 654.6,181.5 650.6,182.5 646.6,183.5 642.6,184.5 638.2,185.5 633.7,186.5 629.2,187.5 624.8,188.5 621.1,189.5 617.4,190.5 617.4,191.5 618.2,192.5 618.9,193.5 619.7,194.5 620.4,195.5 617.5,196.5 613.7,197.5 609.8,198.5 605.9,199.5 602.8,200.5 602.0,201.5 601.3,202.5 600.6,203.5 599.9,204.5 600.1,205.5 600.3,206.5 600.5,207.5 600.7,208.5 600.9,209.5 601.1,210.5 601.3,211.5 601.5,212.5 602.0,213.5 605.1,214.5 607.8,215.5 606.4,216.5 604.9,217.5 603.4,218.5 602.0,219.5 602.4,220.5 603.2,221.5 604.1,222.5 603.7,223.5 603.2,224.5 602.7,225.5 602.2,226.5 601.7,227.5 602.2,228.5 602.9,229.5 603.6,230.5 604.2,231.5 604.9,232.5 605.6,233.5 606.2,234.5 606.6,235.5 606.1,236.5 605.6,237.5 605.1,238.5 604.6,239.5 604.4,240.5 605.2,241.5 606.0,242.5 606.8,243.5 607.6,244.5 608.4,245.5 609.2,246.5 610.9,247.5 612.7,248.5 614.5,249.5 616.0,250.5 615.4,251.5 614.8,252.5 614.2,253.5 613.6,254.5 613.1,255.5 613.7,256.5 614.3,257.5 614.9,258.5 615.5,259.5 616.0,260.5 615.2,261.5 614.3,262.5 613.5,263.5 612.6,264.5 611.8,265.5 611.3,266.5 610.8,267.5 610.3,268.5 609.8,269.5 609.3,270.5 608.9,271.5 608.4,272.5 607.9,273.5 608.5,274.5 615.7,275.5 622.9,276.5 629.7,277.5 636.2,278.5 642.6,279.5 649.1,280.5 651.1,281.5 644.2,282.5 637.2,283.5 630.3,284.5 623.4,285.5 624.0,286.5 626.6,287.5 629.3,288.5 632.0,289.5 639.4,290.5 646.9,291.5 639.7,292.5 632.0,293.5 624.4,294.5 616.8,295.5 610.2,296.5 608.4,297.5 606.7,298.5 605.0,299.5 603.2,300.5 601.5,301.5 600.5,302.5 600.7,303.5 600.9,304.5 601.1,305.5 601.3,306.5 601.5,307.5 601.7,308.5 601.8,309.5 601.9,310.5 602.0,311.5 602.1,312.5 602.2,313.5 602.3,314.5 602.3,315.5 601.9,316.5 601.5,317.5 601.1,318.5 600.7,319.5 600.6,320.5 601.1,321.5 601.6,322.5 602.1,323.5 602.6,324.5 602.7,325.5 602.1,326.5 601.5,327.5 600.9,328.5 600.3,329.5 600.1,330.5 600.7,331.5 601.4,332.5 602.1,333.5 602.7,334.5 603.4,335.5 604.1,336.5 604.7,337.5 604.7,338.5 604.2,339.5 603.8,340.5 603.4,341.5 602.9,342.5 602.5,343.5 602.1,344.5 601.6,345.5 601.4,346.5 601.1,347.5 600.8,348.5 600.5,349.5 600.2,350.5 600.0,351.5 604.7,352.5 610.8,353.5 616.9,354.5 623.1,355.5 619.9,356.5 616.7,357.5 613.4,358.5 610.2,359.5 606.9,360.5 609.7,361.5 612.8,362.5 616.0,363.5 619.2,364.5 622.3,365.5 625.5,366.5 628.7,367.5 629.7,368.5 627.0,369.5 624.3,370.5 621.6,371.5 618.9,372.5 616.1,373.5 613.4,374.5 610.7,375.5 608.0,376.5 607.6,377.5 609.4,378.5 611.1,379.5 612.8,380.5 614.6,381.5 616.3,382.5 615.6,383.5 613.8,384.5 612.0,385.5 610.3,386.5 609.4,387.5 609.7,388.5 610.0,389.5 610.4,390.5 610.7,391.5 611.0,392.5 611.4,393.5 611.7,394.5 611.9,395.5 612.1,396.5 612.2,397.5 612.4,398.5 612.6,399.5 612.7,400.5 612.9,401.5 613.2,402.5 613.7,403.5 614.2,404.5 617.4,405.5 620.7,406.5 624.0,407.5 621.3,408.5 617.8,409.5 614.4,410.5 614.2,411.5 616.2,412.5 618.2,413.5 620.2,414.5 619.0,415.5 617.0,416.5 615.0,417.5 613.0,418.5 611.0,419.5 609.0,420.5 608.2,421.5 608.6,422.5 609.0,423.5 609.4,424.5 609.8,425.5 610.2,426.5 610.4,427.5 609.9,428.5 609.4,429.5 608.9,430.5 608.4,431.5 607.9,432.5 607.4,433.5 606.9,434.5 607.2,435.5 608.0,436.5 608.8,437.5 609.6,438.5 610.4,439.5 611.2,440.5 612.2,441.5 613.5,442.5 614.8,443.5 616.2,444.5 617.5,445.5 618.8,446.5 620.2,447.5 621.5,448.5 620.9,449.5 619.6,450.5 618.2,451.5 616.9,452.5 619.2,453.5 621.7,454.5 622.7,455.5 621.7,456.5 620.7,457.5 619.7,458.5 618.7,459.5 617.7,460.5 616.7,461.5 615.7,462.5 616.4,463.5 617.4,464.5 618.4,465.5 619.4,466.5 620.4,467.5 620.2,468.5 619.7,469.5 619.2,470.5 618.7,471.5 618.2,472.5 618.6,473.5 619.2,474.5 619.9,475.5 620.6,476.5 621.2,477.5 621.9,478.5 622.6,479.5 623.3,480.5 624.3,481.5 625.3,482.5 626.3,483.5 627.3,484.5 628.0,485.5 626.2,486.5 624.4,487.5 622.6,488.5 620.8,489.5 619.0,490.5 617.2,491.5 617.2,492.5 617.7,493.5 618.1,494.5 618.6,495.5" fill="none" stroke="#222" stroke-width="0.7" stroke-linejoin="round"/>
<polyline points="672.3,128.5 672.3,129.5 671.6,130.5 671.0,131.5 670.3,132.5 669.6,133.5 669.8,134.5 670.7,135.5 669.6,136.5 668.3,137.5 666.9,138.5 665.6,139.5 665.2,140.5 666.3,141.5 666.4,142.5 663.1,143.5 659.9,144.5 656.6,145.5 653.3,146.5 652.9,147.5 656.9,148.5 661.0,149.5 665.0,150.5 668.5,151.5 667.9,152.5 667.2,153.5 666.5,154.5 665.9,155.5 666.1,156.5 667.0,157.5 667.8,158.5 668.7,159.5 669.5,160.5 670.2,161.5 670.5,162.5 670.9,163.5 671.2,164.5 671.5,165.5 672.9,166.5 674.6,167.5 676.3,168.5 677.9,169.5 678.7,170.5 677.3,171.5 675.9,172.5 674.5,173.5 673.0,174.5 671.4,175.5 670.6,176.5 673.3,177.5 675.9,178.5 678.5,179.5 681.2,180.5 682.5,181.5 682.5,182.5 682.5,183.5 682.5,184.5 682.5,185.5 682.5,186.5 682.5,187.5 682.5,188.5 682.5,189.5 682.5,190.5 682.5,191.5 682.5,192.5 682.5,193.5 682.5,194.5 682.5,195.5 682.5,196.5 682.5,197.5 682.5,198.5 682.5,199.5 682.5,200.5 682.5,201.5 682.5,202.5 682.4,203.5 682.4,204.5 682.4,205.5 682.4,206.5 682.4,207.5 682.4,208.5 682.4,209.5 682.4,210.5 682.4,211.5 682.4,212.5 682.4,213.5 682.4,214.5 682.4,215.5 682.4,216.5 682.4,217.5 682.4,218.5 682.4,219.5 682.4,220.5 682.4,221.5 682.4,222.5 682.4,223.5 682.4,224.5 682.4,225.5 682.4,226.5 682.4,227.5 682.4,228.5 682.4,229.5 682.4,230.5 682.4,231.5 682.4,232.5 682.4,233.5 682.4,234.5 682.4,235.5 682.4,236.5 682.4,237.5 682.4,238.5 682.4,239.5 682.4,240.5 682.4,241.5 682.4,242.5 682.4,243.5 682.4,244.5 682.4,245.5 682.4,246.5 682.4,247.5 682.3,248.5 682.3,249.5 682.3,250.5 682.3,251.5 682.3,252.5 682.3,253.5 682.3,254.5 682.3,255.5 682.3,256.5 682.3,257.5 682.3,258.5 682.3,259.5 682.3,260.5 682.3,261.5 682.3,262.5 682.3,263.5 682.3,264.5 682.3,265.5 682.3,266.5 682.3,267.5 682.3,268.5 682.3,269.5 682.3,270.5 682.3,271.5 682.3,272.5 682.3,273.5 682.3,274.5 682.3,275.5 676.7,276.5 671.0,277.5 665.4,278.5 663.1,279.5 668.9,280.5 674.8,281.5 680.6,282.5 682.3,283.5 682.3,284.5 682.3,285.5 682.0,286.5 678.8,287.5 675.6,288.5 672.4,289.5 669.2,290.5 666.0,291.5 663.6,292.5 669.0,293.5 674.3,294.5 679.6,295.5 682.4,296.5 682.6,297.5 682.7,298.5 682.9,299.5 683.0,300.5 683.0,301.5 683.0,302.5 683.0,303.5 683.0,304.5 683.0,305.5 683.0,306.5 683.0,307.5 683.0,308.5 683.0,309.5 683.0,310.5 683.0,311.5 683.0,312.5 683.0,313.5 683.0,314.5 683.0,315.5 683.0,316.5 683.0,317.5 683.0,318.5 683.0,319.5 683.0,320.5 683.0,321.5 683.0,322.5 683.0,323.5 683.0,324.5 683.0,325.5 683.1,326.5 683.1,327.5 683.1,328.5 683.1,329.5 683.1,330.5 683.1,331.5 683.1,332.5 683.1,333.5 683.1,334.5 683.1,335.5 683.1,336.5 683.1,337.5 683.1,338.5 683.1,339.5 683.1,340.5 683.1,341.5 683.1,342.5 683.1,343.5 683.1,344.5 683.1,345.5 683.1,346.5 683.1,347.5 683.1,348.5 683.1,349.5 683.1,350.5 683.1,351.5 683.1,352.5 683.1,353.5 683.1,354.5 683.1,355.5 683.1,356.5 683.1,357.5 683.1,358.5 683.1,359.5 683.1,360.5 683.1,361.5 683.1,362.5 683.1,363.5 683.1,364.5 683.1,365.5 683.1,366.5 683.1,367.5 683.1,368.5 683.1,369.5 683.1,370.5 683.1,371.5 683.1,372.5 683.1,373.5 683.1,374.5 683.1,375.5 683.1,376.5 683.1,377.5 683.1,378.5 683.2,379.5 683.2,380.5 683.2,381.5 683.2,382.5 683.2,383.5 683.2,384.5 683.2,385.5 683.2,386.5 683.2,387.5 683.2,388.5 683.2,389.5 683.2,390.5 683.2,391.5 683.2,392.5 683.2,393.5 683.2,394.5 683.2,395.5 683.2,396.5 683.2,397.5 683.2,398.5 683.2,399.5 683.2,400.5 683.2,401.5 683.2,402.5 683.2,403.5 683.2,404.5 682.2,405.5 680.2,406.5 678.3,407.5 676.3,408.5 676.0,409.5 678.4,410.5 680.8,411.5 682.3,412.5 682.4,413.5 682.5,414.5 682.7,415.5 682.8,416.5 683.0,417.5 683.1,418.5 683.1,419.5 683.0,420.5 682.8,421.5 682.6,422.5 682.5,423.5 682.3,424.5 682.2,425.5 682.3,426.5 682.4,427.5 682.5,428.5 682.6,429.5 682.6,430.5 682.7,431.5 682.8,432.5 682.9,433.5 683.0,434.5 683.1,435.5 683.1,436.5 683.2,437.5 683.0,438.5 682.8,439.5 682.7,440.5 682.5,441.5 682.3,442.5 682.0,443.5 681.0,444.5 680.0,445.5 679.0,446.5 678.5,447.5 680.1,448.5 681.7,449.5 683.1,450.5 681.6,451.5 680.2,452.5 678.8,453.5 677.4,454.5 676.3,455.5 678.4,456.5 680.1,457.5 679.5,458.5 678.8,459.5 678.1,460.5 677.5,461.5 676.8,462.5 676.1,463.5 675.4,464.5 674.8,465.5 674.1,466.5 675.5,467.5 676.8,468.5 678.2,469.5 679.5,470.5 680.9,471.5 682.2,472.5 682.3,473.5 682.4,474.5 682.5,475.5 682.6,476.5 682.7,477.5 682.9,478.5 683.0,479.5 683.1,480.5 683.2,481.5 681.5,482.5 679.6,483.5 677.8,484.5 675.9,485.5 674.0,486.5 672.2,487.5 670.3,488.5 674.6,489.5 679.7,490.5 680.7,491.5 681.3,492.5 681.9,493.5 682.5,494.5 683.1,495.5" fill="none" stroke="#333" stroke-width="0.6" stroke-linejoin="round"/>
<polygon points="683.3,193.0 681.3,195.0 683.3,197.0" fill="#ff8c00" stroke="none" stroke-width="0.6" stroke-linejoin="round"/>
<polygon points="683.3,241.6 681.3,243.6 683.3,245.6" fill="#ff8c00" stroke="none" stroke-width="0.6" stroke-linejoin="round"/>
<polygon points="683.3,288.0 681.3,290.0 683.3,292.0" fill="#ff8c00" stroke="none" stroke-width="0.6" stroke-linejoin="round"/>
<polygon points="683.3,406.0 681.3,408.0 683.3,410.0" fill="#ff8c00" stroke="none" stroke-width="0.6" stroke-linejoin="round"/>
<polygon points="683.3,423.0 681.3,425.0 683.3,427.0" fill="#ff8c00" stroke="none" stroke-width="0.6" stroke-linejoin="round"/>
<polygon points="683.3,473.0 681.3,475.0 683.3,477.0" fill="#ff8c00" stroke="none" stroke-width="0.6" stroke-linejoin="round"/>
<clipPath id="qc"><rect x="515.2" y="128.5" width="83.39999999999998" height="367.5"/></clipPath>
<g clip-path="url(#qc)">
<polygon points="514.7,292.6 520.9,304.2 508.5,304.2" fill="#ff0000" stroke="none" stroke-width="0.6" stroke-linejoin="round"/>
<polygon points="514.7,308.0 520.9,319.6 508.5,319.6" fill="#ff0000" stroke="none" stroke-width="0.6" stroke-linejoin="round"/>
<polygon points="514.7,316.4 520.9,328.0 508.5,328.0" fill="#ff0000" stroke="none" stroke-width="0.6" stroke-linejoin="round"/>
<polygon points="514.7,331.8 520.9,343.4 508.5,343.4" fill="#ff0000" stroke="none" stroke-width="0.6" stroke-linejoin="round"/>
<polygon points="514.7,339.0 520.9,350.6 508.5,350.6" fill="#ff0000" stroke="none" stroke-width="0.6" stroke-linejoin="round"/>
<polygon points="514.7,345.4 520.9,357.0 508.5,357.0" fill="#ff0000" stroke="none" stroke-width="0.6" stroke-linejoin="round"/>
<polygon points="514.7,371.2 520.9,382.8 508.5,382.8" fill="#ff0000" stroke="none" stroke-width="0.6" stroke-linejoin="round"/>
<polygon points="515.5,376.4 521.7,388.0 509.3,388.0" fill="#ff0000" stroke="none" stroke-width="0.6" stroke-linejoin="round"/>
<polygon points="516.0,404.3 522.2,415.9 509.8,415.9" fill="#ff0000" stroke="none" stroke-width="0.6" stroke-linejoin="round"/>
<polygon points="539.3,416.2 545.5,427.8 533.1,427.8" fill="#ff0000" stroke="none" stroke-width="0.6" stroke-linejoin="round"/>
<polygon points="542.8,442.7 549.0,454.3 536.6,454.3" fill="#ff0000" stroke="none" stroke-width="0.6" stroke-linejoin="round"/>
<polygon points="514.7,291.7 517.0,295.7 521.0,298.0 517.0,300.3 514.7,304.3 512.4,300.3 508.4,298.0 512.4,295.7" fill="#0000ff" stroke="none" stroke-width="0.6" stroke-linejoin="round"/>
<polygon points="515.4,307.1 517.7,311.1 521.7,313.4 517.7,315.7 515.4,319.7 513.1,315.7 509.1,313.4 513.1,311.1" fill="#0000ff" stroke="none" stroke-width="0.6" stroke-linejoin="round"/>
<polygon points="514.9,315.5 517.2,319.5 521.2,321.8 517.2,324.1 514.9,328.1 512.6,324.1 508.6,321.8 512.6,319.5" fill="#0000ff" stroke="none" stroke-width="0.6" stroke-linejoin="round"/>
<polygon points="515.0,330.9 517.3,334.9 521.3,337.2 517.3,339.5 515.0,343.5 512.7,339.5 508.7,337.2 512.7,334.9" fill="#0000ff" stroke="none" stroke-width="0.6" stroke-linejoin="round"/>
<polygon points="514.7,338.1 517.0,342.1 521.0,344.4 517.0,346.7 514.7,350.7 512.4,346.7 508.4,344.4 512.4,342.1" fill="#0000ff" stroke="none" stroke-width="0.6" stroke-linejoin="round"/>
<polygon points="514.7,344.5 517.0,348.5 521.0,350.8 517.0,353.1 514.7,357.1 512.4,353.1 508.4,350.8 512.4,348.5" fill="#0000ff" stroke="none" stroke-width="0.6" stroke-linejoin="round"/>
<polygon points="516.6,370.3 518.9,374.3 522.9,376.6 518.9,378.9 516.6,382.9 514.3,378.9 510.3,376.6 514.3,374.3" fill="#0000ff" stroke="none" stroke-width="0.6" stroke-linejoin="round"/>
<polygon points="514.7,375.5 517.0,379.5 521.0,381.8 517.0,384.1 514.7,388.1 512.4,384.1 508.4,381.8 512.4,379.5" fill="#0000ff" stroke="none" stroke-width="0.6" stroke-linejoin="round"/>
<polygon points="516.6,403.4 518.9,407.4 522.9,409.7 518.9,412.0 516.6,416.0 514.3,412.0 510.3,409.7 514.3,407.4" fill="#0000ff" stroke="none" stroke-width="0.6" stroke-linejoin="round"/>
<polygon points="516.0,415.3 518.3,419.3 522.3,421.6 518.3,423.9 516.0,427.9 513.7,423.9 509.7,421.6 513.7,419.3" fill="#0000ff" stroke="none" stroke-width="0.6" stroke-linejoin="round"/>
<polygon points="516.4,441.8 518.7,445.8 522.7,448.1 518.7,450.4 516.4,454.4 514.1,450.4 510.1,448.1 514.1,445.8" fill="#0000ff" stroke="none" stroke-width="0.6" stroke-linejoin="round"/>
<rect x="576.20" y="293.80" width="8.40" height="8.40" fill="#000"/>
<rect x="575.50" y="309.20" width="8.40" height="8.40" fill="#000"/>
<rect x="578.40" y="317.60" width="8.40" height="8.40" fill="#000"/>
<rect x="574.40" y="333.00" width="8.40" height="8.40" fill="#000"/>
<rect x="574.80" y="340.20" width="8.40" height="8.40" fill="#000"/>
<rect x="578.10" y="346.60" width="8.40" height="8.40" fill="#000"/>
<rect x="575.50" y="372.40" width="8.40" height="8.40" fill="#000"/>
<rect x="581.50" y="377.60" width="8.40" height="8.40" fill="#000"/>
<rect x="575.50" y="405.50" width="8.40" height="8.40" fill="#000"/>
<rect x="576.50" y="417.40" width="8.40" height="8.40" fill="#000"/>
<rect x="556.30" y="443.90" width="8.40" height="8.40" fill="#000"/>
</g>
<text x="138.4" y="74.8" font-family='"Liberation Sans", sans-serif' font-weight="bold" font-size="10" fill="#cd853f" stroke="#cd853f" stroke-width="0.3" text-anchor="middle">UCGR</text>
<line x1="98.60" y1="79.10" x2="178.20" y2="79.10" stroke="#cd853f" stroke-width="2" stroke-dasharray="4.7 1.3"/>
<text x="105.8" y="91.0" font-family='"Liberation Sans", sans-serif' font-weight="bold" font-size="10" fill="#cd853f" stroke="#cd853f" stroke-width="0.3" text-anchor="middle">0</text>
<text x="138.2" y="91.0" font-family='"Liberation Sans", sans-serif' font-weight="bold" font-size="10" fill="#cd853f" stroke="#cd853f" stroke-width="0.3" text-anchor="middle" textLength="22.4" lengthAdjust="spacingAndGlyphs">gAPI</text>
<text x="165.2" y="91.0" font-family='"Liberation Sans", sans-serif' font-weight="bold" font-size="10" fill="#cd853f" stroke="#cd853f" stroke-width="0.3" text-anchor="middle" textLength="16.4" lengthAdjust="spacingAndGlyphs">150</text>
<text x="138.4" y="106.7" font-family='"Liberation Sans", sans-serif' font-weight="bold" font-size="10" fill="#000" stroke="#000" stroke-width="0.3" text-anchor="middle">GR</text>
<line x1="98.60" y1="110.30" x2="178.20" y2="110.30" stroke="#000" stroke-width="1.1"/>
<text x="105.8" y="122.0" font-family='"Liberation Sans", sans-serif' font-weight="bold" font-size="10" fill="#000" stroke="#000" stroke-width="0.3" text-anchor="middle">0</text>
<text x="138.2" y="122.0" font-family='"Liberation Sans", sans-serif' font-weight="bold" font-size="10" fill="#000" stroke="#000" stroke-width="0.3" text-anchor="middle" textLength="22.4" lengthAdjust="spacingAndGlyphs">gAPI</text>
<text x="165.2" y="122.0" font-family='"Liberation Sans", sans-serif' font-weight="bold" font-size="10" fill="#000" stroke="#000" stroke-width="0.3" text-anchor="middle" textLength="16.4" lengthAdjust="spacingAndGlyphs">150</text>
<text x="214.0" y="106.7" font-family='"Liberation Sans", sans-serif' font-weight="bold" font-size="10" fill="#000" stroke="#000" stroke-width="0.3" text-anchor="middle" textLength="50.5" lengthAdjust="spacingAndGlyphs">U Content</text>
<line x1="178.20" y1="110.30" x2="249.50" y2="110.30" stroke="#000" stroke-width="1.1"/>
<text x="186.0" y="122.0" font-family='"Liberation Sans", sans-serif' font-weight="bold" font-size="10" fill="#000" stroke="#000" stroke-width="0.3" text-anchor="middle">0</text>
<text x="214.0" y="122.0" font-family='"Liberation Sans", sans-serif' font-weight="bold" font-size="10" fill="#000" stroke="#000" stroke-width="0.3" text-anchor="middle">ppm</text>
<text x="238.5" y="122.0" font-family='"Liberation Sans", sans-serif' font-weight="bold" font-size="10" fill="#000" stroke="#000" stroke-width="0.3" text-anchor="middle">10</text>
<rect x="250.00" y="1.00" width="48.80" height="30.80" fill="#ffff00"/>
<rect x="298.80" y="1.00" width="48.80" height="30.80" fill="#00c000"/>
<text x="298.6" y="20.6" font-family='"Liberation Sans", sans-serif' font-weight="bold" font-size="10" fill="#000" stroke="#000" stroke-width="0.3" text-anchor="middle" textLength="86.7" lengthAdjust="spacingAndGlyphs">Sand - Shale (ND)</text>
<text x="299.0" y="43.8" font-family='"Liberation Sans", sans-serif' font-weight="bold" font-size="10" fill="#000" stroke="#000" stroke-width="0.3" text-anchor="middle">PEF</text>
<line x1="249.50" y1="47.50" x2="347.60" y2="47.50" stroke="#000" stroke-width="1.4" stroke-dasharray="13.5 1.8"/>
<text x="258.6" y="59.5" font-family='"Liberation Sans", sans-serif' font-weight="bold" font-size="10" fill="#000" stroke="#000" stroke-width="0.3" text-anchor="middle">0</text>
<text x="298.4" y="59.5" font-family='"Liberation Sans", sans-serif' font-weight="bold" font-size="10" fill="#000" stroke="#000" stroke-width="0.3" text-anchor="middle" textLength="17.0" lengthAdjust="spacingAndGlyphs">b/e</text>
<text x="335.0" y="59.5" font-family='"Liberation Sans", sans-serif' font-weight="bold" font-size="10" fill="#000" stroke="#000" stroke-width="0.3" text-anchor="middle">10</text>
<text x="298.5" y="75.3" font-family='"Liberation Sans", sans-serif' font-weight="bold" font-size="10" fill="#0000ff" stroke="#0000ff" stroke-width="0.3" text-anchor="middle" textLength="25.8" lengthAdjust="spacingAndGlyphs">NPHI</text>
<line x1="249.50" y1="78.90" x2="347.60" y2="78.90" stroke="#0000ff" stroke-width="1.9" stroke-dasharray="4.7 1.3"/>
<text x="264.3" y="91.0" font-family='"Liberation Sans", sans-serif' font-weight="bold" font-size="10" fill="#0000ff" stroke="#0000ff" stroke-width="0.3" text-anchor="middle">0.45</text>
<text x="298.4" y="91.0" font-family='"Liberation Sans", sans-serif' font-weight="bold" font-size="10" fill="#0000ff" stroke="#0000ff" stroke-width="0.3" text-anchor="middle" textLength="18.0" lengthAdjust="spacingAndGlyphs">V/V</text>
<text x="330.5" y="91.0" font-family='"Liberation Sans", sans-serif' font-weight="bold" font-size="10" fill="#0000ff" stroke="#0000ff" stroke-width="0.3" text-anchor="middle" textLength="22.1" lengthAdjust="spacingAndGlyphs">-0.15</text>
<text x="299.0" y="106.7" font-family='"Liberation Sans", sans-serif' font-weight="bold" font-size="10" fill="#ff0000" stroke="#ff0000" stroke-width="0.3" text-anchor="middle">RHOB</text>
<line x1="249.50" y1="110.30" x2="347.60" y2="110.30" stroke="#ff0000" stroke-width="1.8"/>
<text x="264.3" y="122.0" font-family='"Liberation Sans", sans-serif' font-weight="bold" font-size="10" fill="#ff0000" stroke="#ff0000" stroke-width="0.3" text-anchor="middle">1.95</text>
<text x="298.6" y="122.0" font-family='"Liberation Sans", sans-serif' font-weight="bold" font-size="10" fill="#ff0000" stroke="#ff0000" stroke-width="0.3" text-anchor="middle" textLength="30.8" lengthAdjust="spacingAndGlyphs">g/cm3</text>
<text x="332.3" y="122.0" font-family='"Liberation Sans", sans-serif' font-weight="bold" font-size="10" fill="#ff0000" stroke="#ff0000" stroke-width="0.3" text-anchor="middle">2.95</text>
<defs><linearGradient id="vg" x1="0" x2="1" y1="0" y2="0"><stop offset="0" stop-color="#fafa82"/><stop offset="0.5" stop-color="#7dac41"/><stop offset="1" stop-color="#005f00"/></linearGradient></defs>
<text x="389.9" y="106.5" font-family='"Liberation Sans", sans-serif' font-weight="bold" font-size="10" fill="#000" stroke="#000" stroke-width="0.3" text-anchor="middle" textLength="56.8" lengthAdjust="spacingAndGlyphs">VSH_UCGR</text>
<text x="472.0" y="106.5" font-family='"Liberation Sans", sans-serif' font-weight="bold" font-size="10" fill="#000" stroke="#000" stroke-width="0.3" text-anchor="middle" textLength="42.8" lengthAdjust="spacingAndGlyphs">VSH_ND</text>
<line x1="347.60" y1="110.30" x2="514.70" y2="110.30" stroke="#000" stroke-width="1.1"/>
<text x="357.2" y="121.6" font-family='"Liberation Sans", sans-serif' font-weight="bold" font-size="10" fill="#000" stroke="#000" stroke-width="0.3" text-anchor="middle">0</text>
<text x="389.0" y="121.6" font-family='"Liberation Sans", sans-serif' font-weight="bold" font-size="10" fill="#000" stroke="#000" stroke-width="0.3" text-anchor="middle" textLength="18.0" lengthAdjust="spacingAndGlyphs">V/V</text>
<text x="419.4" y="121.6" font-family='"Liberation Sans", sans-serif' font-weight="bold" font-size="10" fill="#000" stroke="#000" stroke-width="0.3" text-anchor="middle">1</text>
<text x="438.8" y="121.6" font-family='"Liberation Sans", sans-serif' font-weight="bold" font-size="10" fill="#000" stroke="#000" stroke-width="0.3" text-anchor="middle">0</text>
<text x="471.7" y="121.6" font-family='"Liberation Sans", sans-serif' font-weight="bold" font-size="10" fill="#000" stroke="#000" stroke-width="0.3" text-anchor="middle" textLength="18.0" lengthAdjust="spacingAndGlyphs">V/V</text>
<text x="504.5" y="121.6" font-family='"Liberation Sans", sans-serif' font-weight="bold" font-size="10" fill="#000" stroke="#000" stroke-width="0.3" text-anchor="middle">1</text>
<rect x="517.20" y="34.90" width="8.60" height="8.60" fill="#000"/>
<rect x="586.20" y="34.90" width="8.60" height="8.60" fill="#000"/>
<text x="556.4" y="43.0" font-family='"Liberation Sans", sans-serif' font-weight="bold" font-size="10" fill="#000" stroke="#000" stroke-width="0.3" text-anchor="middle" textLength="34.5" lengthAdjust="spacingAndGlyphs">Quartz</text>
<line x1="514.70" y1="47.50" x2="598.60" y2="47.50" stroke="#000" stroke-width="1.1"/>
<text x="524.1" y="59.3" font-family='"Liberation Sans", sans-serif' font-weight="bold" font-size="10" fill="#000" stroke="#000" stroke-width="0.3" text-anchor="middle">0</text>
<text x="556.2" y="59.3" font-family='"Liberation Sans", sans-serif' font-weight="bold" font-size="10" fill="#000" stroke="#000" stroke-width="0.3" text-anchor="middle" textLength="18.0" lengthAdjust="spacingAndGlyphs">V/V</text>
<text x="588.2" y="59.3" font-family='"Liberation Sans", sans-serif' font-weight="bold" font-size="10" fill="#000" stroke="#000" stroke-width="0.3" text-anchor="middle">1</text>
<polygon points="522.3,64.4 524.7,68.5 528.8,70.9 524.7,73.3 522.3,77.4 519.9,73.3 515.8,70.9 519.9,68.5" fill="#0000ff" stroke="none" stroke-width="0.6" stroke-linejoin="round"/>
<polygon points="590.5,64.4 592.9,68.5 597.0,70.9 592.9,73.3 590.5,77.4 588.1,73.3 584.0,70.9 588.1,68.5" fill="#0000ff" stroke="none" stroke-width="0.6" stroke-linejoin="round"/>
<text x="556.6" y="74.9" font-family='"Liberation Sans", sans-serif' font-weight="bold" font-size="10" fill="#0000ff" stroke="#0000ff" stroke-width="0.3" text-anchor="middle" textLength="51.1" lengthAdjust="spacingAndGlyphs">Illite/Mica</text>
<line x1="514.70" y1="78.80" x2="598.60" y2="78.80" stroke="#0000ff" stroke-width="1.8"/>
<text x="524.0" y="90.8" font-family='"Liberation Sans", sans-serif' font-weight="bold" font-size="10" fill="#0000ff" stroke="#0000ff" stroke-width="0.3" text-anchor="middle">0</text>
<text x="556.3" y="90.8" font-family='"Liberation Sans", sans-serif' font-weight="bold" font-size="10" fill="#0000ff" stroke="#0000ff" stroke-width="0.3" text-anchor="middle" textLength="18.0" lengthAdjust="spacingAndGlyphs">V/V</text>
<text x="588.2" y="90.8" font-family='"Liberation Sans", sans-serif' font-weight="bold" font-size="10" fill="#0000ff" stroke="#0000ff" stroke-width="0.3" text-anchor="middle">1</text>
<polygon points="522.3,96.2 528.7,108.2 515.9,108.2" fill="#ff0000" stroke="none" stroke-width="0.6" stroke-linejoin="round"/>
<polygon points="590.7,96.2 597.1,108.2 584.3,108.2" fill="#ff0000" stroke="none" stroke-width="0.6" stroke-linejoin="round"/>
<text x="556.2" y="106.3" font-family='"Liberation Sans", sans-serif' font-weight="bold" font-size="10" fill="#ff0000" stroke="#ff0000" stroke-width="0.3" text-anchor="middle" textLength="34.4" lengthAdjust="spacingAndGlyphs">Calcite</text>
<line x1="514.70" y1="110.40" x2="598.60" y2="110.40" stroke="#ff0000" stroke-width="1.8"/>
<text x="524.0" y="121.6" font-family='"Liberation Sans", sans-serif' font-weight="bold" font-size="10" fill="#ff0000" stroke="#ff0000" stroke-width="0.3" text-anchor="middle">0</text>
<text x="556.3" y="121.6" font-family='"Liberation Sans", sans-serif' font-weight="bold" font-size="10" fill="#ff0000" stroke="#ff0000" stroke-width="0.3" text-anchor="middle" textLength="18.0" lengthAdjust="spacingAndGlyphs">V/V</text>
<text x="588.2" y="121.6" font-family='"Liberation Sans", sans-serif' font-weight="bold" font-size="10" fill="#ff0000" stroke="#ff0000" stroke-width="0.3" text-anchor="middle">1</text>
<rect x="599.20" y="1.00" width="17.70" height="31.00" fill="#00c000"/>
<rect x="616.90" y="1.00" width="17.00" height="31.00" fill="#ffff00"/>
<rect x="633.90" y="1.00" width="16.90" height="31.00" fill="#ffb6c1"/>
<rect x="650.80" y="1.00" width="16.90" height="31.00" fill="#a52a2a"/>
<rect x="667.70" y="1.00" width="16.40" height="31.00" fill="#ff8c00"/>
<line x1="599.10" y1="16.40" x2="684.00" y2="16.40" stroke="#222" stroke-width="1"/>
<text x="641.7" y="13.7" font-family='"Liberation Sans", sans-serif' font-weight="bold" font-size="11.8" fill="#000" stroke="#000" stroke-width="0.3" text-anchor="middle" textLength="46.0" lengthAdjust="spacingAndGlyphs">ECS_lith</text>
<text x="618.9" y="28.8" font-family='"Liberation Sans", sans-serif' font-weight="bold" font-size="11.8" fill="#000" stroke="#000" stroke-width="0.3" text-anchor="middle" textLength="25.2" lengthAdjust="spacingAndGlyphs">0.50</text>
<text x="663.0" y="28.8" font-family='"Liberation Sans", sans-serif' font-weight="bold" font-size="11.8" fill="#000" stroke="#000" stroke-width="0.3" text-anchor="middle" textLength="25.1" lengthAdjust="spacingAndGlyphs">5.50</text>
<text x="641.5" y="44.5" font-family='"Liberation Sans", sans-serif' font-weight="bold" font-size="11.8" fill="#000" stroke="#000" stroke-width="0.3" text-anchor="middle" textLength="49.0" lengthAdjust="spacingAndGlyphs">ECS_Lith</text>
<line x1="598.60" y1="47.40" x2="683.50" y2="47.40" stroke="#000" stroke-width="1.1"/>
<text x="609.6" y="60.0" font-family='"Liberation Sans", sans-serif' font-weight="bold" font-size="11.8" fill="#000" stroke="#000" stroke-width="0.3" text-anchor="middle">0</text>
<text x="672.4" y="60.0" font-family='"Liberation Sans", sans-serif' font-weight="bold" font-size="11.8" fill="#000" stroke="#000" stroke-width="0.3" text-anchor="middle">1</text>
<text x="0" y="0" transform="translate(613.0 123.7) rotate(-90)" font-family='"Liberation Sans", sans-serif' font-weight="bold" font-size="12" fill="#000" stroke="#000" stroke-width="0.3" text-anchor="start" textLength="35.2" lengthAdjust="spacingAndGlyphs">WCLA</text>
<text x="0" y="0" transform="translate(630.0 123.7) rotate(-90)" font-family='"Liberation Sans", sans-serif' font-weight="bold" font-size="12" fill="#000" stroke="#000" stroke-width="0.3" text-anchor="start" textLength="40.3" lengthAdjust="spacingAndGlyphs">WQFM</text>
<text x="0" y="0" transform="translate(647.1 123.7) rotate(-90)" font-family='"Liberation Sans", sans-serif' font-weight="bold" font-size="12" fill="#000" stroke="#000" stroke-width="0.3" text-anchor="start" textLength="37.5" lengthAdjust="spacingAndGlyphs">WCAR</text>
<text x="0" y="0" transform="translate(664.1 123.7) rotate(-90)" font-family='"Liberation Sans", sans-serif' font-weight="bold" font-size="12" fill="#000" stroke="#000" stroke-width="0.3" text-anchor="start" textLength="32.1" lengthAdjust="spacingAndGlyphs">WSID</text>
<text x="0" y="0" transform="translate(681.2 123.7) rotate(-90)" font-family='"Liberation Sans", sans-serif' font-weight="bold" font-size="12" fill="#000" stroke="#000" stroke-width="0.3" text-anchor="start" textLength="36.3" lengthAdjust="spacingAndGlyphs">WPYR</text>
<text x="26.2" y="87.9" font-family='"DejaVu Sans", sans-serif' font-weight="bold" font-size="14" fill="#000" text-anchor="middle" textLength="26.8" lengthAdjust="spacingAndGlyphs">MD</text>
<text x="25.7" y="101.6" font-family='"DejaVu Sans", sans-serif' font-weight="bold" font-size="14" fill="#000" text-anchor="middle" textLength="31.6" lengthAdjust="spacingAndGlyphs">(m)</text>
<text x="26.1" y="118.8" font-family='"DejaVu Sans", sans-serif' font-weight="bold" font-size="14" fill="#000" text-anchor="middle" textLength="46.6" lengthAdjust="spacingAndGlyphs">1:500</text>
<text x="0" y="0" transform="translate(81.9 125.9) rotate(-90)" font-family='"DejaVu Sans Condensed", "DejaVu Sans", sans-serif' font-weight="bold" font-size="16.6" fill="#000" text-anchor="start" textLength="35.6" lengthAdjust="spacingAndGlyphs">Tops</text>
<line x1="51.40" y1="0.00" x2="51.40" y2="127.55" stroke="#333" stroke-width="1.1"/>
<line x1="51.40" y1="127.55" x2="51.40" y2="497.00" stroke="#5c5c5c" stroke-width="1.0"/>
<line x1="98.10" y1="0.00" x2="98.10" y2="127.55" stroke="#333" stroke-width="1.1"/>
<line x1="98.10" y1="127.55" x2="98.10" y2="497.00" stroke="#5c5c5c" stroke-width="1.0"/>
<line x1="178.20" y1="0.00" x2="178.20" y2="127.55" stroke="#333" stroke-width="1.1"/>
<line x1="178.20" y1="127.55" x2="178.20" y2="497.00" stroke="#5c5c5c" stroke-width="1.0"/>
<line x1="249.50" y1="0.00" x2="249.50" y2="127.55" stroke="#333" stroke-width="1.1"/>
<line x1="249.50" y1="127.55" x2="249.50" y2="497.00" stroke="#5c5c5c" stroke-width="1.0"/>
<line x1="347.60" y1="0.00" x2="347.60" y2="127.55" stroke="#333" stroke-width="1.1"/>
<line x1="347.60" y1="127.55" x2="347.60" y2="497.00" stroke="#5c5c5c" stroke-width="1.0"/>
<line x1="429.40" y1="0.00" x2="429.40" y2="127.55" stroke="#333" stroke-width="1.1"/>
<line x1="429.40" y1="127.55" x2="429.40" y2="497.00" stroke="#5c5c5c" stroke-width="1.0"/>
<line x1="514.70" y1="0.00" x2="514.70" y2="127.55" stroke="#333" stroke-width="1.1"/>
<line x1="514.70" y1="127.55" x2="514.70" y2="497.00" stroke="#5c5c5c" stroke-width="1.0"/>
<line x1="598.60" y1="0.00" x2="598.60" y2="127.55" stroke="#333" stroke-width="1.1"/>
<line x1="598.60" y1="127.55" x2="598.60" y2="497.00" stroke="#5c5c5c" stroke-width="1.0"/>
<rect x="348.10" y="63.00" width="81.80" height="31.60" fill="url(#vg)"/>
<rect x="429.90" y="63.00" width="85.00" height="31.60" fill="url(#vg)"/>
<line x1="348.10" y1="78.90" x2="429.90" y2="78.90" stroke="#111" stroke-width="1.2"/>
<line x1="429.90" y1="78.90" x2="514.90" y2="78.90" stroke="#111" stroke-width="1.2"/>
<text x="389.3" y="75.0" font-family='"Liberation Sans", sans-serif' font-weight="bold" font-size="10" fill="#000" stroke="#000" stroke-width="0.3" text-anchor="middle" textLength="33.5" lengthAdjust="spacingAndGlyphs">Vshale</text>
<text x="472.1" y="75.0" font-family='"Liberation Sans", sans-serif' font-weight="bold" font-size="10" fill="#000" stroke="#000" stroke-width="0.3" text-anchor="middle" textLength="33.5" lengthAdjust="spacingAndGlyphs">Vshale</text>
<text x="354.9" y="89.9" font-family='"Liberation Sans", sans-serif' font-weight="bold" font-size="8.4" fill="#000" stroke="#000" stroke-width="0.3" text-anchor="middle">0</text>
<text x="389.3" y="89.9" font-family='"Liberation Sans", sans-serif' font-weight="bold" font-size="8.4" fill="#000" stroke="#000" stroke-width="0.3" text-anchor="middle" textLength="47.4" lengthAdjust="spacingAndGlyphs">(VSH_UCGR)</text>
<text x="423.1" y="89.9" font-family='"Liberation Sans", sans-serif' font-weight="bold" font-size="8.4" fill="#000" stroke="#000" stroke-width="0.3" text-anchor="middle">1</text>
<text x="437.5" y="90.7" font-family='"Liberation Sans", sans-serif' font-weight="bold" font-size="10" fill="#000" stroke="#000" stroke-width="0.3" text-anchor="middle">0</text>
<text x="472.1" y="90.7" font-family='"Liberation Sans", sans-serif' font-weight="bold" font-size="10" fill="#000" stroke="#000" stroke-width="0.3" text-anchor="middle" textLength="48.2" lengthAdjust="spacingAndGlyphs">(VSH_ND)</text>
<text x="505.8" y="90.7" font-family='"Liberation Sans", sans-serif' font-weight="bold" font-size="10" fill="#000" stroke="#000" stroke-width="0.3" text-anchor="middle">1</text>
<line x1="0.00" y1="127.55" x2="685.00" y2="127.55" stroke="#111" stroke-width="1.9"/>
<rect x="0.00" y="0.00" width="685.00" height="1.05" fill="#111"/>
<rect x="0.00" y="495.90" width="685.00" height="1.10" fill="#111"/>
<rect x="0.00" y="0.00" width="1.30" height="497.00" fill="#111"/>
<rect x="684.00" y="0.00" width="1.00" height="127.55" fill="#111"/>
<rect x="683.00" y="127.55" width="2.00" height="369.45" fill="#1a1a1a"/>
</svg>
</body></html>
